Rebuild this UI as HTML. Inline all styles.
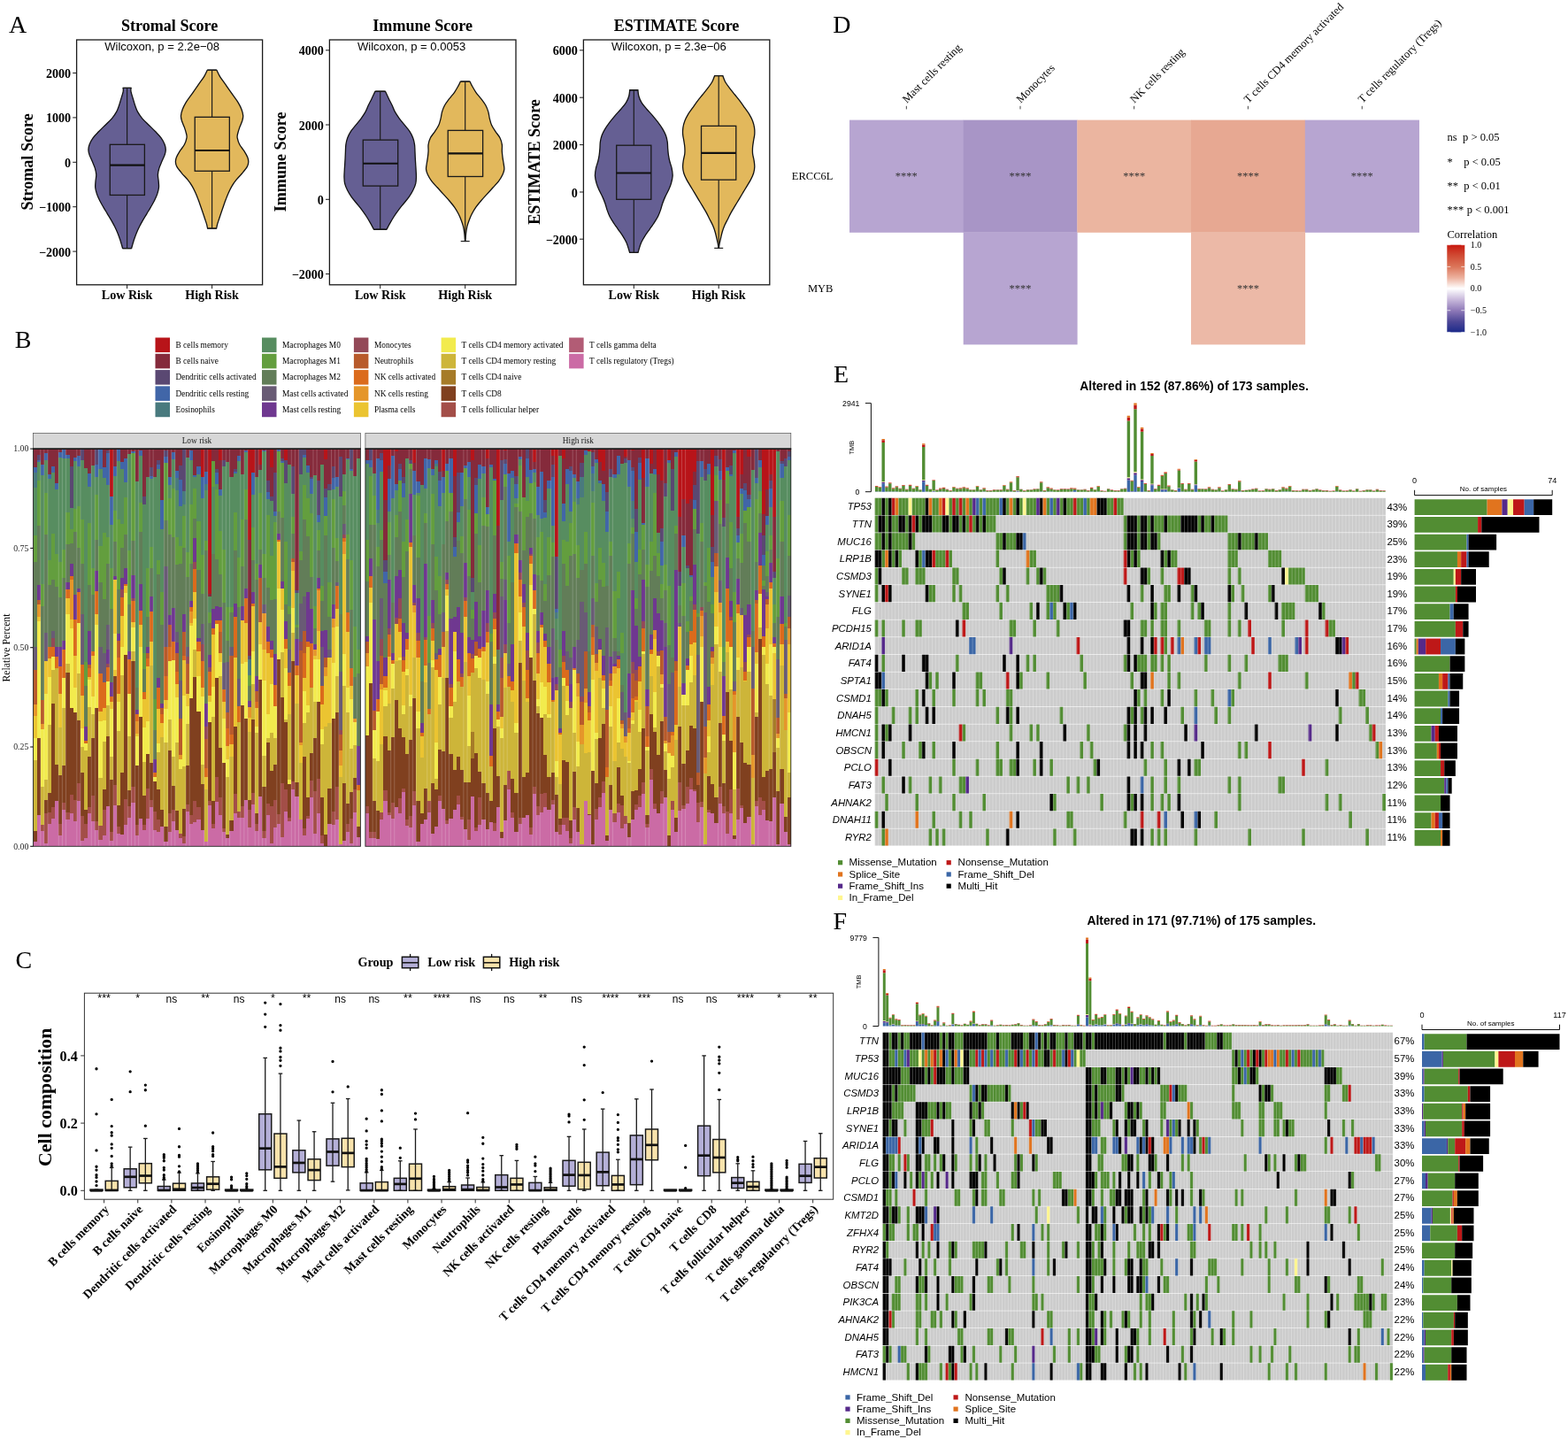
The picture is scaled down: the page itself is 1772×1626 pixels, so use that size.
<!DOCTYPE html>
<html lang="en"><head><meta charset="utf-8"><title>Figure</title>
<style>
html,body{margin:0;padding:0;background:#fff}
svg{display:block}
.se{font-family:"Liberation Serif","Times New Roman",serif}
.sa{font-family:"Liberation Sans",Arial,sans-serif}
</style></head><body>
<svg width="1772" height="1626" viewBox="0 0 1772 1626">
<rect width="1772" height="1626" fill="#fff"/>
<text x="10" y="37.2" font-size="28" class="se">A</text>
<text x="191.6" y="35.1" font-size="18.1" class="se" font-weight="bold" text-anchor="middle">Stromal Score</text>
<path d="M139.17,99.41C139.17,100.1 139.57,101.5 139.17,103.54C138.78,105.58 137.57,109.08 136.81,111.66C136.05,114.24 135.46,116.58 134.6,119.04C133.74,121.5 133,123.96 131.64,126.42C130.29,128.88 128.57,131.34 126.48,133.8C124.39,136.26 121.56,138.72 119.1,141.18C116.64,143.64 114.06,146.1 111.72,148.56C109.38,151.02 106.85,153.48 105.08,155.94C103.3,158.4 101.95,161.11 101.09,163.32C100.23,165.54 99.91,167.26 99.91,169.23C99.91,171.19 100.35,172.92 101.09,175.13C101.83,177.34 103.3,180.05 104.34,182.51C105.37,184.97 106.55,187.43 107.29,189.89C108.03,192.35 108.64,194.81 108.77,197.27C108.89,199.73 108.2,202.19 108.03,204.65C107.86,207.11 107.49,209.57 107.73,212.03C107.98,214.49 108.67,216.95 109.5,219.41C110.34,221.87 111.52,224.33 112.75,226.79C113.98,229.25 115.46,231.71 116.88,234.17C118.31,236.63 119.84,239.09 121.31,241.55C122.79,244.01 124.34,246.47 125.74,248.93C127.14,251.39 128.5,253.85 129.73,256.31C130.96,258.77 132.11,261.23 133.12,263.69C134.13,266.15 135.04,268.86 135.78,271.07C136.52,273.28 137.08,275.38 137.55,276.97C138.02,278.57 138.41,280.05 138.58,280.66L148.62,280.66C148.79,280.05 149.18,278.57 149.65,276.97C150.12,275.38 150.68,273.28 151.42,271.07C152.16,268.86 153.07,266.15 154.08,263.69C155.09,261.23 156.24,258.77 157.47,256.31C158.7,253.85 160.06,251.39 161.46,248.93C162.86,246.47 164.41,244.01 165.89,241.55C167.36,239.09 168.89,236.63 170.32,234.17C171.74,231.71 173.22,229.25 174.45,226.79C175.68,224.33 176.86,221.87 177.7,219.41C178.53,216.95 179.22,214.49 179.47,212.03C179.71,209.57 179.34,207.11 179.17,204.65C179,202.19 178.31,199.73 178.43,197.27C178.56,194.81 179.17,192.35 179.91,189.89C180.65,187.43 181.83,184.97 182.86,182.51C183.9,180.05 185.37,177.34 186.11,175.13C186.85,172.92 187.29,171.19 187.29,169.23C187.29,167.26 186.97,165.54 186.11,163.32C185.25,161.11 183.9,158.4 182.12,155.94C180.35,153.48 177.82,151.02 175.48,148.56C173.14,146.1 170.56,143.64 168.1,141.18C165.64,138.72 162.81,136.26 160.72,133.8C158.63,131.34 156.91,128.88 155.56,126.42C154.2,123.96 153.46,121.5 152.6,119.04C151.74,116.58 151.15,114.24 150.39,111.66C149.63,109.08 148.42,105.58 148.03,103.54C147.63,101.5 148.03,100.1 148.03,99.41Z" fill="#655F93" stroke="#111" stroke-width="1.3" stroke-linejoin="round"/>
<line x1="143.6" y1="99.41" x2="143.6" y2="163.32" stroke="#1a1a1a" stroke-width="1.15"/>
<line x1="143.6" y1="220.44" x2="143.6" y2="280.66" stroke="#1a1a1a" stroke-width="1.15"/>
<line x1="138.6" y1="99.41" x2="148.6" y2="99.41" stroke="#1a1a1a" stroke-width="1.15"/>
<line x1="138.6" y1="280.66" x2="148.6" y2="280.66" stroke="#1a1a1a" stroke-width="1.15"/>
<rect x="124.28" y="163.32" width="39.11" height="57.12" fill="#655F93" stroke="#1a1a1a" stroke-width="1.3"/>
<line x1="124.28" y1="186.64" x2="163.39" y2="186.64" stroke="#111" stroke-width="2.1"/>
<path d="M234.29,79.19C233.67,80.42 232.07,84.11 230.6,86.57C229.12,89.03 227.15,91.49 225.43,93.95C223.71,96.41 221.99,98.87 220.26,101.33C218.54,103.79 216.82,106.25 215.1,108.71C213.38,111.17 211.41,113.63 209.93,116.09C208.46,118.55 207.15,121.01 206.24,123.47C205.33,125.93 204.59,128.63 204.47,130.85C204.35,133.06 204.84,134.54 205.5,136.75C206.17,138.97 207.6,141.67 208.46,144.13C209.32,146.59 210.25,149.54 210.67,151.51C211.09,153.48 211.33,153.97 210.97,155.94C210.6,157.91 209.74,160.86 208.46,163.32C207.18,165.78 204.82,168.24 203.29,170.7C201.76,173.16 200.12,175.99 199.3,178.08C198.49,180.17 198.32,181.53 198.42,183.25C198.52,184.97 198.71,186.32 199.9,188.41C201.08,190.5 203.46,193.33 205.5,195.79C207.55,198.25 210.18,200.71 212.15,203.17C214.11,205.63 215.84,208.09 217.31,210.55C218.79,213.01 219.9,215.47 221,217.93C222.11,220.39 223.02,222.85 223.95,225.31C224.89,227.77 225.75,230.23 226.61,232.69C227.47,235.15 228.28,237.61 229.12,240.07C229.96,242.53 230.89,245.24 231.63,247.45C232.37,249.67 233.06,251.59 233.55,253.36C234.04,255.13 234.41,257.29 234.58,258.08L244.62,258.08C244.79,257.29 245.16,255.13 245.65,253.36C246.14,251.59 246.83,249.67 247.57,247.45C248.31,245.24 249.24,242.53 250.08,240.07C250.92,237.61 251.73,235.15 252.59,232.69C253.45,230.23 254.31,227.77 255.25,225.31C256.18,222.85 257.09,220.39 258.2,217.93C259.3,215.47 260.41,213.01 261.89,210.55C263.36,208.09 265.09,205.63 267.05,203.17C269.02,200.71 271.65,198.25 273.7,195.79C275.74,193.33 278.12,190.5 279.3,188.41C280.49,186.32 280.68,184.97 280.78,183.25C280.88,181.53 280.71,180.17 279.9,178.08C279.08,175.99 277.44,173.16 275.91,170.7C274.38,168.24 272.02,165.78 270.74,163.32C269.46,160.86 268.6,157.91 268.23,155.94C267.87,153.97 268.11,153.48 268.53,151.51C268.95,149.54 269.88,146.59 270.74,144.13C271.6,141.67 273.03,138.97 273.7,136.75C274.36,134.54 274.85,133.06 274.73,130.85C274.61,128.63 273.87,125.93 272.96,123.47C272.05,121.01 270.74,118.55 269.27,116.09C267.79,113.63 265.82,111.17 264.1,108.71C262.38,106.25 260.66,103.79 258.94,101.33C257.21,98.87 255.49,96.41 253.77,93.95C252.05,91.49 250.08,89.03 248.6,86.57C247.13,84.11 245.53,80.42 244.91,79.19Z" fill="#E2B85C" stroke="#111" stroke-width="1.3" stroke-linejoin="round"/>
<line x1="239.6" y1="79.19" x2="239.6" y2="132.32" stroke="#1a1a1a" stroke-width="1.15"/>
<line x1="239.6" y1="193.28" x2="239.6" y2="258.08" stroke="#1a1a1a" stroke-width="1.15"/>
<line x1="234.6" y1="79.19" x2="244.6" y2="79.19" stroke="#1a1a1a" stroke-width="1.15"/>
<line x1="234.6" y1="258.08" x2="244.6" y2="258.08" stroke="#1a1a1a" stroke-width="1.15"/>
<rect x="220.22" y="132.32" width="39.11" height="60.96" fill="#E2B85C" stroke="#1a1a1a" stroke-width="1.3"/>
<line x1="220.22" y1="169.96" x2="259.34" y2="169.96" stroke="#111" stroke-width="2.1"/>
<rect x="86.6" y="45" width="210" height="276.8" fill="none" stroke="#1a1a1a" stroke-width="1.3"/>
<text x="118.2" y="56.9" font-size="13.05" class="sa">Wilcoxon, p = 2.2e−08</text>
<line x1="82.2" y1="82.5" x2="86.6" y2="82.5" stroke="#1a1a1a" stroke-width="1"/>
<text x="80.1" y="88" font-size="14.1" class="se" font-weight="bold" text-anchor="end">2000</text>
<line x1="82.2" y1="132.9" x2="86.6" y2="132.9" stroke="#1a1a1a" stroke-width="1"/>
<text x="80.1" y="138.4" font-size="14.1" class="se" font-weight="bold" text-anchor="end">1000</text>
<line x1="82.2" y1="183.3" x2="86.6" y2="183.3" stroke="#1a1a1a" stroke-width="1"/>
<text x="80.1" y="188.8" font-size="14.1" class="se" font-weight="bold" text-anchor="end">0</text>
<line x1="82.2" y1="233.7" x2="86.6" y2="233.7" stroke="#1a1a1a" stroke-width="1"/>
<text x="80.1" y="239.2" font-size="14.1" class="se" font-weight="bold" text-anchor="end">−1000</text>
<line x1="82.2" y1="284.1" x2="86.6" y2="284.1" stroke="#1a1a1a" stroke-width="1"/>
<text x="80.1" y="289.6" font-size="14.1" class="se" font-weight="bold" text-anchor="end">−2000</text>
<line x1="143.6" y1="321.8" x2="143.6" y2="326.2" stroke="#1a1a1a" stroke-width="1"/>
<text x="143.6" y="337.8" font-size="14.1" class="se" font-weight="bold" text-anchor="middle">Low Risk</text>
<line x1="239.6" y1="321.8" x2="239.6" y2="326.2" stroke="#1a1a1a" stroke-width="1"/>
<text x="239.6" y="337.8" font-size="14.1" class="se" font-weight="bold" text-anchor="middle">High Risk</text>
<text x="37.3" y="182.9" font-size="18.1" class="se" font-weight="bold" text-anchor="middle" transform="rotate(-90 37.3 182.9)">Stromal Score</text>
<text x="477.7" y="35.1" font-size="18.1" class="se" font-weight="bold" text-anchor="middle">Immune Score</text>
<path d="M423.94,103.25C423.28,104.65 421.24,109.03 419.96,111.66C418.68,114.29 417.42,116.58 416.27,119.04C415.11,121.5 414.37,123.96 413.02,126.42C411.67,128.88 409.95,131.34 408.15,133.8C406.35,136.26 404.21,138.72 402.25,141.18C400.28,143.64 397.94,146.1 396.34,148.56C394.74,151.02 393.56,153.48 392.65,155.94C391.74,158.4 391.25,160.86 390.88,163.32C390.51,165.78 390.56,168.24 390.44,170.7C390.32,173.16 390.27,175.62 390.14,178.08C390.02,180.54 389.85,183 389.7,185.46C389.55,187.92 389.38,190.38 389.26,192.84C389.13,195.3 388.89,197.76 388.96,200.22C389.04,202.68 389.08,205.14 389.7,207.6C390.32,210.06 391.42,212.52 392.65,214.98C393.88,217.44 395.36,219.9 397.08,222.36C398.8,224.82 401.02,227.28 402.98,229.74C404.95,232.2 407.04,234.66 408.89,237.12C410.73,239.58 412.46,242.04 414.05,244.5C415.65,246.96 417.08,249.42 418.48,251.88C419.88,254.34 421.8,258.03 422.47,259.26L436.93,259.26C437.6,258.03 439.52,254.34 440.92,251.88C442.32,249.42 443.75,246.96 445.35,244.5C446.94,242.04 448.67,239.58 450.51,237.12C452.36,234.66 454.45,232.2 456.42,229.74C458.38,227.28 460.6,224.82 462.32,222.36C464.04,219.9 465.52,217.44 466.75,214.98C467.98,212.52 469.08,210.06 469.7,207.6C470.32,205.14 470.36,202.68 470.44,200.22C470.51,197.76 470.27,195.3 470.14,192.84C470.02,190.38 469.85,187.92 469.7,185.46C469.55,183 469.38,180.54 469.26,178.08C469.13,175.62 469.08,173.16 468.96,170.7C468.84,168.24 468.89,165.78 468.52,163.32C468.15,160.86 467.66,158.4 466.75,155.94C465.84,153.48 464.66,151.02 463.06,148.56C461.46,146.1 459.12,143.64 457.15,141.18C455.19,138.72 453.05,136.26 451.25,133.8C449.45,131.34 447.73,128.88 446.38,126.42C445.03,123.96 444.29,121.5 443.13,119.04C441.98,116.58 440.72,114.29 439.44,111.66C438.16,109.03 436.12,104.65 435.46,103.25Z" fill="#655F93" stroke="#111" stroke-width="1.3" stroke-linejoin="round"/>
<line x1="429.7" y1="103.25" x2="429.7" y2="158.15" stroke="#1a1a1a" stroke-width="1.15"/>
<line x1="429.7" y1="210.11" x2="429.7" y2="259.26" stroke="#1a1a1a" stroke-width="1.15"/>
<line x1="424.7" y1="103.25" x2="434.7" y2="103.25" stroke="#1a1a1a" stroke-width="1.15"/>
<line x1="424.7" y1="259.26" x2="434.7" y2="259.26" stroke="#1a1a1a" stroke-width="1.15"/>
<rect x="410.28" y="158.15" width="39.41" height="51.96" fill="#655F93" stroke="#1a1a1a" stroke-width="1.3"/>
<line x1="410.28" y1="184.72" x2="449.69" y2="184.72" stroke="#111" stroke-width="2.1"/>
<path d="M520.39,92.03C519.99,92.84 519.16,94.86 518.02,96.9C516.89,98.94 515.32,101.82 513.6,104.28C511.87,106.74 509.54,109.2 507.69,111.66C505.85,114.12 503.88,116.58 502.53,119.04C501.17,121.5 500.31,123.96 499.57,126.42C498.84,128.88 498.71,131.34 498.1,133.8C497.48,136.26 496.99,138.72 495.88,141.18C494.78,143.64 493.06,146.1 491.46,148.56C489.86,151.02 487.52,153.48 486.29,155.94C485.06,158.4 484.45,160.86 484.08,163.32C483.71,165.78 484.2,168.24 484.08,170.7C483.95,173.16 483.66,175.62 483.34,178.08C483.02,180.54 482.45,183.25 482.16,185.46C481.86,187.68 481.37,189.4 481.57,191.37C481.76,193.33 482.31,195.06 483.34,197.27C484.37,199.48 485.92,202.19 487.77,204.65C489.61,207.11 492.19,209.57 494.41,212.03C496.62,214.49 498.84,216.95 501.05,219.41C503.26,221.87 505.6,224.33 507.69,226.79C509.78,229.25 511.87,231.71 513.6,234.17C515.32,236.63 516.75,239.09 518.02,241.55C519.3,244.01 520.34,246.47 521.27,248.93C522.21,251.39 523.04,253.85 523.63,256.31C524.22,258.77 524.51,260.98 524.81,263.69C525.12,266.4 525.37,271.07 525.48,272.55L525.92,272.55C526.03,271.07 526.28,266.4 526.59,263.69C526.89,260.98 527.18,258.77 527.77,256.31C528.36,253.85 529.19,251.39 530.13,248.93C531.06,246.47 532.1,244.01 533.38,241.55C534.65,239.09 536.08,236.63 537.8,234.17C539.53,231.71 541.62,229.25 543.71,226.79C545.8,224.33 548.14,221.87 550.35,219.41C552.56,216.95 554.78,214.49 556.99,212.03C559.21,209.57 561.79,207.11 563.63,204.65C565.48,202.19 567.03,199.48 568.06,197.27C569.09,195.06 569.64,193.33 569.83,191.37C570.03,189.4 569.54,187.68 569.24,185.46C568.95,183.25 568.38,180.54 568.06,178.08C567.74,175.62 567.45,173.16 567.32,170.7C567.2,168.24 567.69,165.78 567.32,163.32C566.95,160.86 566.34,158.4 565.11,155.94C563.88,153.48 561.54,151.02 559.94,148.56C558.34,146.1 556.62,143.64 555.52,141.18C554.41,138.72 553.92,136.26 553.3,133.8C552.69,131.34 552.56,128.88 551.83,126.42C551.09,123.96 550.23,121.5 548.87,119.04C547.52,116.58 545.55,114.12 543.71,111.66C541.86,109.2 539.53,106.74 537.8,104.28C536.08,101.82 534.51,98.94 533.38,96.9C532.24,94.86 531.41,92.84 531.01,92.03Z" fill="#E2B85C" stroke="#111" stroke-width="1.3" stroke-linejoin="round"/>
<line x1="525.7" y1="92.03" x2="525.7" y2="147.38" stroke="#1a1a1a" stroke-width="1.15"/>
<line x1="525.7" y1="199.48" x2="525.7" y2="272.55" stroke="#1a1a1a" stroke-width="1.15"/>
<line x1="520.7" y1="92.03" x2="530.7" y2="92.03" stroke="#1a1a1a" stroke-width="1.15"/>
<line x1="520.7" y1="272.55" x2="530.7" y2="272.55" stroke="#1a1a1a" stroke-width="1.15"/>
<rect x="506.22" y="147.38" width="39.41" height="52.1" fill="#E2B85C" stroke="#1a1a1a" stroke-width="1.3"/>
<line x1="506.22" y1="173.36" x2="545.63" y2="173.36" stroke="#111" stroke-width="2.1"/>
<rect x="372.4" y="45" width="210.6" height="276.8" fill="none" stroke="#1a1a1a" stroke-width="1.3"/>
<text x="404" y="56.9" font-size="13.05" class="sa">Wilcoxon, p = 0.0053</text>
<line x1="368" y1="56.8" x2="372.4" y2="56.8" stroke="#1a1a1a" stroke-width="1"/>
<text x="365.9" y="62.3" font-size="14.1" class="se" font-weight="bold" text-anchor="end">4000</text>
<line x1="368" y1="141" x2="372.4" y2="141" stroke="#1a1a1a" stroke-width="1"/>
<text x="365.9" y="146.5" font-size="14.1" class="se" font-weight="bold" text-anchor="end">2000</text>
<line x1="368" y1="225.3" x2="372.4" y2="225.3" stroke="#1a1a1a" stroke-width="1"/>
<text x="365.9" y="230.8" font-size="14.1" class="se" font-weight="bold" text-anchor="end">0</text>
<line x1="368" y1="309.6" x2="372.4" y2="309.6" stroke="#1a1a1a" stroke-width="1"/>
<text x="365.9" y="315.1" font-size="14.1" class="se" font-weight="bold" text-anchor="end">−2000</text>
<line x1="429.7" y1="321.8" x2="429.7" y2="326.2" stroke="#1a1a1a" stroke-width="1"/>
<text x="429.7" y="337.8" font-size="14.1" class="se" font-weight="bold" text-anchor="middle">Low Risk</text>
<line x1="525.7" y1="321.8" x2="525.7" y2="326.2" stroke="#1a1a1a" stroke-width="1"/>
<text x="525.7" y="337.8" font-size="14.1" class="se" font-weight="bold" text-anchor="middle">High Risk</text>
<text x="323.4" y="182.9" font-size="18.1" class="se" font-weight="bold" text-anchor="middle" transform="rotate(-90 323.4 182.9)">Immune Score</text>
<text x="764.6" y="35.1" font-size="18.1" class="se" font-weight="bold" text-anchor="middle">ESTIMATE Score</text>
<path d="M711.72,101.77C711.55,102.93 711.4,106.32 710.69,108.71C709.98,111.09 708.97,113.63 707.44,116.09C705.92,118.55 703.63,121.01 701.54,123.47C699.45,125.93 696.99,128.39 694.9,130.85C692.81,133.31 690.84,135.77 688.99,138.23C687.15,140.69 685.3,143.15 683.83,145.61C682.35,148.07 681.05,150.53 680.14,152.99C679.23,155.45 678.74,157.91 678.37,160.37C678,162.83 678.12,165.29 677.92,167.75C677.73,170.21 677.55,172.67 677.19,175.13C676.82,177.59 676.32,180.05 675.71,182.51C675.09,184.97 674.04,187.18 673.5,189.89C672.95,192.6 672.34,195.79 672.46,198.75C672.59,201.7 673.45,204.9 674.23,207.6C675.02,210.31 676.08,212.52 677.19,214.98C678.29,217.44 679.77,219.9 680.88,222.36C681.98,224.82 682.97,227.28 683.83,229.74C684.69,232.2 685.18,234.66 686.04,237.12C686.9,239.58 687.76,242.04 688.99,244.5C690.22,246.96 691.82,249.42 693.42,251.88C695.02,254.34 696.87,256.8 698.59,259.26C700.31,261.72 702.2,264.18 703.75,266.64C705.3,269.1 706.78,271.56 707.89,274.02C708.99,276.48 709.78,279.51 710.4,281.4C711.01,283.3 711.38,284.72 711.58,285.39L721.02,285.39C721.22,284.72 721.59,283.3 722.2,281.4C722.82,279.51 723.61,276.48 724.71,274.02C725.82,271.56 727.3,269.1 728.85,266.64C730.4,264.18 732.29,261.72 734.01,259.26C735.73,256.8 737.58,254.34 739.18,251.88C740.78,249.42 742.38,246.96 743.61,244.5C744.84,242.04 745.7,239.58 746.56,237.12C747.42,234.66 747.91,232.2 748.77,229.74C749.63,227.28 750.62,224.82 751.72,222.36C752.83,219.9 754.31,217.44 755.41,214.98C756.52,212.52 757.58,210.31 758.37,207.6C759.15,204.9 760.01,201.7 760.14,198.75C760.26,195.79 759.65,192.6 759.1,189.89C758.56,187.18 757.51,184.97 756.89,182.51C756.28,180.05 755.78,177.59 755.41,175.13C755.05,172.67 754.87,170.21 754.68,167.75C754.48,165.29 754.6,162.83 754.23,160.37C753.86,157.91 753.37,155.45 752.46,152.99C751.55,150.53 750.25,148.07 748.77,145.61C747.3,143.15 745.45,140.69 743.61,138.23C741.76,135.77 739.79,133.31 737.7,130.85C735.61,128.39 733.15,125.93 731.06,123.47C728.97,121.01 726.68,118.55 725.16,116.09C723.63,113.63 722.62,111.09 721.91,108.71C721.2,106.32 721.05,102.93 720.88,101.77Z" fill="#655F93" stroke="#111" stroke-width="1.3" stroke-linejoin="round"/>
<line x1="716.3" y1="101.77" x2="716.3" y2="164.21" stroke="#1a1a1a" stroke-width="1.15"/>
<line x1="716.3" y1="225.31" x2="716.3" y2="285.39" stroke="#1a1a1a" stroke-width="1.15"/>
<line x1="711.3" y1="101.77" x2="721.3" y2="101.77" stroke="#1a1a1a" stroke-width="1.15"/>
<line x1="711.3" y1="285.39" x2="721.3" y2="285.39" stroke="#1a1a1a" stroke-width="1.15"/>
<rect x="696.72" y="164.21" width="39.11" height="61.11" fill="#655F93" stroke="#1a1a1a" stroke-width="1.3"/>
<line x1="696.72" y1="195.5" x2="735.84" y2="195.5" stroke="#111" stroke-width="2.1"/>
<path d="M807.62,85.54C807.16,86.69 806.15,90.09 804.82,92.47C803.49,94.86 801.5,97.39 799.65,99.85C797.81,102.31 795.72,104.77 793.75,107.23C791.78,109.69 789.69,112.15 787.85,114.61C786,117.07 784.4,119.53 782.68,121.99C780.96,124.45 778.99,126.91 777.51,129.37C776.04,131.83 774.76,134.29 773.82,136.75C772.89,139.21 772.27,141.67 771.9,144.13C771.54,146.59 771.46,149.05 771.61,151.51C771.76,153.97 772.42,156.43 772.79,158.89C773.16,161.35 773.65,163.81 773.82,166.27C774,168.73 774.07,171.19 773.82,173.65C773.58,176.11 772.72,178.57 772.35,181.03C771.98,183.49 771.54,185.95 771.61,188.41C771.68,190.87 772.05,193.33 772.79,195.79C773.53,198.25 774.76,200.71 776.04,203.17C777.32,205.63 778.99,208.09 780.47,210.55C781.94,213.01 783.42,215.47 784.89,217.93C786.37,220.39 787.85,222.85 789.32,225.31C790.8,227.77 792.27,230.23 793.75,232.69C795.23,235.15 796.82,237.61 798.18,240.07C799.53,242.53 800.64,244.99 801.87,247.45C803.1,249.91 804.5,252.37 805.56,254.83C806.62,257.29 807.48,259.75 808.21,262.21C808.95,264.67 809.47,267.38 809.99,269.59C810.5,271.81 810.98,273.7 811.31,275.5C811.65,277.29 811.87,279.56 811.98,280.37L812.42,280.37C812.53,279.56 812.75,277.29 813.09,275.5C813.42,273.7 813.9,271.81 814.41,269.59C814.93,267.38 815.45,264.67 816.19,262.21C816.92,259.75 817.78,257.29 818.84,254.83C819.9,252.37 821.3,249.91 822.53,247.45C823.76,244.99 824.87,242.53 826.22,240.07C827.58,237.61 829.17,235.15 830.65,232.69C832.13,230.23 833.6,227.77 835.08,225.31C836.55,222.85 838.03,220.39 839.51,217.93C840.98,215.47 842.46,213.01 843.93,210.55C845.41,208.09 847.08,205.63 848.36,203.17C849.64,200.71 850.87,198.25 851.61,195.79C852.35,193.33 852.72,190.87 852.79,188.41C852.86,185.95 852.42,183.49 852.05,181.03C851.68,178.57 850.82,176.11 850.58,173.65C850.33,171.19 850.4,168.73 850.58,166.27C850.75,163.81 851.24,161.35 851.61,158.89C851.98,156.43 852.64,153.97 852.79,151.51C852.94,149.05 852.86,146.59 852.5,144.13C852.13,141.67 851.51,139.21 850.58,136.75C849.64,134.29 848.36,131.83 846.89,129.37C845.41,126.91 843.44,124.45 841.72,121.99C840,119.53 838.4,117.07 836.55,114.61C834.71,112.15 832.62,109.69 830.65,107.23C828.68,104.77 826.59,102.31 824.75,99.85C822.9,97.39 820.91,94.86 819.58,92.47C818.25,90.09 817.24,86.69 816.78,85.54Z" fill="#E2B85C" stroke="#111" stroke-width="1.3" stroke-linejoin="round"/>
<line x1="812.2" y1="85.54" x2="812.2" y2="142.36" stroke="#1a1a1a" stroke-width="1.15"/>
<line x1="812.2" y1="203.17" x2="812.2" y2="280.37" stroke="#1a1a1a" stroke-width="1.15"/>
<line x1="807.2" y1="85.54" x2="817.2" y2="85.54" stroke="#1a1a1a" stroke-width="1.15"/>
<line x1="807.2" y1="280.37" x2="817.2" y2="280.37" stroke="#1a1a1a" stroke-width="1.15"/>
<rect x="792.52" y="142.36" width="39.26" height="60.81" fill="#E2B85C" stroke="#1a1a1a" stroke-width="1.3"/>
<line x1="792.52" y1="172.92" x2="831.78" y2="172.92" stroke="#111" stroke-width="2.1"/>
<rect x="659.4" y="45" width="210.4" height="276.8" fill="none" stroke="#1a1a1a" stroke-width="1.3"/>
<text x="691" y="56.9" font-size="13.05" class="sa">Wilcoxon, p = 2.3e−06</text>
<line x1="655" y1="56.8" x2="659.4" y2="56.8" stroke="#1a1a1a" stroke-width="1"/>
<text x="652.9" y="62.3" font-size="14.1" class="se" font-weight="bold" text-anchor="end">6000</text>
<line x1="655" y1="110.2" x2="659.4" y2="110.2" stroke="#1a1a1a" stroke-width="1"/>
<text x="652.9" y="115.7" font-size="14.1" class="se" font-weight="bold" text-anchor="end">4000</text>
<line x1="655" y1="163.6" x2="659.4" y2="163.6" stroke="#1a1a1a" stroke-width="1"/>
<text x="652.9" y="169.1" font-size="14.1" class="se" font-weight="bold" text-anchor="end">2000</text>
<line x1="655" y1="217" x2="659.4" y2="217" stroke="#1a1a1a" stroke-width="1"/>
<text x="652.9" y="222.5" font-size="14.1" class="se" font-weight="bold" text-anchor="end">0</text>
<line x1="655" y1="270.2" x2="659.4" y2="270.2" stroke="#1a1a1a" stroke-width="1"/>
<text x="652.9" y="275.7" font-size="14.1" class="se" font-weight="bold" text-anchor="end">−2000</text>
<line x1="716.3" y1="321.8" x2="716.3" y2="326.2" stroke="#1a1a1a" stroke-width="1"/>
<text x="716.3" y="337.8" font-size="14.1" class="se" font-weight="bold" text-anchor="middle">Low Risk</text>
<line x1="812.2" y1="321.8" x2="812.2" y2="326.2" stroke="#1a1a1a" stroke-width="1"/>
<text x="812.2" y="337.8" font-size="14.1" class="se" font-weight="bold" text-anchor="middle">High Risk</text>
<text x="609.7" y="182.9" font-size="18.1" class="se" font-weight="bold" text-anchor="middle" transform="rotate(-90 609.7 182.9)">ESTIMATE Score</text>
<text x="16.8" y="393" font-size="28" class="se">B</text>
<rect x="175.5" y="381.5" width="16.5" height="16.6" fill="#B81419"/>
<text x="198.5" y="392.9" font-size="9.4" class="se">B cells memory</text>
<rect x="175.5" y="399.78" width="16.5" height="16.6" fill="#852A3B"/>
<text x="198.5" y="411.18" font-size="9.4" class="se">B cells naive</text>
<rect x="175.5" y="418.06" width="16.5" height="16.6" fill="#5A4872"/>
<text x="198.5" y="429.46" font-size="9.4" class="se">Dendritic cells activated</text>
<rect x="175.5" y="436.34" width="16.5" height="16.6" fill="#4166A8"/>
<text x="198.5" y="447.74" font-size="9.4" class="se">Dendritic cells resting</text>
<rect x="175.5" y="454.62" width="16.5" height="16.6" fill="#497A7E"/>
<text x="198.5" y="466.02" font-size="9.4" class="se">Eosinophils</text>
<rect x="296" y="381.5" width="16.5" height="16.6" fill="#578D60"/>
<text x="319" y="392.9" font-size="9.4" class="se">Macrophages M0</text>
<rect x="296" y="399.78" width="16.5" height="16.6" fill="#639E3E"/>
<text x="319" y="411.18" font-size="9.4" class="se">Macrophages M1</text>
<rect x="296" y="418.06" width="16.5" height="16.6" fill="#627D58"/>
<text x="319" y="429.46" font-size="9.4" class="se">Macrophages M2</text>
<rect x="296" y="436.34" width="16.5" height="16.6" fill="#695B75"/>
<text x="319" y="447.74" font-size="9.4" class="se">Mast cells activated</text>
<rect x="296" y="454.62" width="16.5" height="16.6" fill="#6F3890"/>
<text x="319" y="466.02" font-size="9.4" class="se">Mast cells resting</text>
<rect x="399.9" y="381.5" width="16.5" height="16.6" fill="#934958"/>
<text x="422.9" y="392.9" font-size="9.4" class="se">Monocytes</text>
<rect x="399.9" y="399.78" width="16.5" height="16.6" fill="#B85A2B"/>
<text x="422.9" y="411.18" font-size="9.4" class="se">Neutrophils</text>
<rect x="399.9" y="418.06" width="16.5" height="16.6" fill="#DB6B1C"/>
<text x="422.9" y="429.46" font-size="9.4" class="se">NK cells activated</text>
<rect x="399.9" y="436.34" width="16.5" height="16.6" fill="#E5962A"/>
<text x="422.9" y="447.74" font-size="9.4" class="se">NK cells resting</text>
<rect x="399.9" y="454.62" width="16.5" height="16.6" fill="#EBC431"/>
<text x="422.9" y="466.02" font-size="9.4" class="se">Plasma cells</text>
<rect x="498.6" y="381.5" width="16.5" height="16.6" fill="#F2EB4D"/>
<text x="521.6" y="392.9" font-size="9.4" class="se">T cells CD4 memory activated</text>
<rect x="498.6" y="399.78" width="16.5" height="16.6" fill="#CDB539"/>
<text x="521.6" y="411.18" font-size="9.4" class="se">T cells CD4 memory resting</text>
<rect x="498.6" y="418.06" width="16.5" height="16.6" fill="#A67B28"/>
<text x="521.6" y="429.46" font-size="9.4" class="se">T cells CD4 naive</text>
<rect x="498.6" y="436.34" width="16.5" height="16.6" fill="#80401F"/>
<text x="521.6" y="447.74" font-size="9.4" class="se">T cells CD8</text>
<rect x="498.6" y="454.62" width="16.5" height="16.6" fill="#A34E48"/>
<text x="521.6" y="466.02" font-size="9.4" class="se">T cells follicular helper</text>
<rect x="643.1" y="381.5" width="16.5" height="16.6" fill="#B25C75"/>
<text x="666.1" y="392.9" font-size="9.4" class="se">T cells gamma delta</text>
<rect x="643.1" y="399.78" width="16.5" height="16.6" fill="#CB6BA5"/>
<text x="666.1" y="411.18" font-size="9.4" class="se">T cells regulatory (Tregs)</text>
<path d="M124,507h4v54h-4zM227,507h4v32h-4zM235,507h4v164h-4zM247,507h4v13h-4zM280,507h4v103h-4zM284,507h4v27h-4zM292,507h4v18h-4zM305,507h4v21h-4zM321,507h4v13h-4zM366,507h4v12h-4zM433,507h5v58h-5zM438,507h4v19h-4zM446,507h4v3h-4zM466,507h4v16h-4zM499,507h4v25h-4zM512,507h4v31h-4zM532,507h4v13h-4zM549,507h4v11h-4zM561,507h4v87h-4zM569,507h4v2h-4zM602,507h4v15h-4zM623,507h4v8h-4zM627,507h4v122h-4zM635,507h4v11h-4zM664,507h4v3h-4zM676,507h4v15h-4zM680,507h4v25h-4zM705,507h4v9h-4zM713,507h4v2h-4zM725,507h4v33h-4zM734,507h4v17h-4zM742,507h4v29h-4zM746,507h4v36h-4zM754,507h4v13h-4zM766,507h4v77h-4zM770,507h5v57h-5zM775,507h4v62h-4zM779,507h4v57h-4zM783,507h4v26h-4zM803,507h4v75h-4zM816,507h4v35h-4zM832,507h4v77h-4zM836,507h4v29h-4zM844,507h5v9h-5zM861,507h4v74h-4zM865,507h4v46h-4zM869,507h4v29h-4zM873,507h4v77h-4z" fill="#B81419" shape-rendering="crispEdges"/>
<path d="M38,507h4v21h-4zM42,507h4v7h-4zM46,507h4v18h-4zM50,507h4v5h-4zM54,507h4v29h-4zM58,507h4v20h-4zM62,507h4v39h-4zM66,507h4v4h-4zM70,507h4v1h-4zM74,507h5v7h-5zM79,507h4v20h-4zM83,507h4v10h-4zM87,507h4v8h-4zM95,507h4v22h-4zM99,507h4v28h-4zM103,507h4v19h-4zM111,507h5v1h-5zM116,507h4v21h-4zM120,507h4v2h-4zM128,507h4v20h-4zM132,507h4v1h-4zM136,507h4v15h-4zM140,507h4v11h-4zM144,507h4v6h-4zM148,507h5v3h-5zM153,507h4v37h-4zM157,507h4v2h-4zM161,507h4v54h-4zM165,507h4v32h-4zM169,507h4v21h-4zM173,507h4v32h-4zM177,507h4v13h-4zM181,507h4v58h-4zM185,507h5v2h-5zM190,507h4v32h-4zM194,507h4v4h-4zM198,507h4v25h-4zM202,507h4v19h-4zM210,507h4v10h-4zM214,507h4v2h-4zM218,507h4v30h-4zM222,507h5v20h-5zM231,507h4v26h-4zM235,671h4v3h-4zM239,507h4v14h-4zM243,507h4v23h-4zM247,520h4v33h-4zM251,507h4v13h-4zM255,507h4v15h-4zM259,507h5v32h-5zM264,507h4v23h-4zM268,507h4v8h-4zM272,507h4v29h-4zM276,507h4v2h-4zM280,610h4v121h-4zM280,731h4v10h-4zM288,507h4v32h-4zM292,525h4v6h-4zM296,507h5v2h-5zM301,507h4v36h-4zM305,528h4v33h-4zM309,507h4v27h-4zM313,507h4v1h-4zM317,507h4v11h-4zM325,507h4v18h-4zM329,507h4v20h-4zM333,507h5v160h-5zM346,507h4v19h-4zM350,507h4v32h-4zM354,507h4v30h-4zM358,507h4v36h-4zM362,507h4v18h-4zM366,519h4v33h-4zM370,507h5v40h-5zM375,507h4v20h-4zM379,507h4v32h-4zM383,507h4v9h-4zM387,507h4v29h-4zM391,507h4v11h-4zM399,507h4v31h-4zM403,507h4v11h-4zM413,507h4v13h-4zM421,507h4v28h-4zM425,507h4v11h-4zM429,507h4v5h-4zM433,565h5v68h-5zM438,526h4v15h-4zM442,507h4v8h-4zM446,510h4v37h-4zM450,507h4v17h-4zM454,507h4v32h-4zM458,507h4v11h-4zM462,507h4v13h-4zM466,523h4v9h-4zM470,507h5v37h-5zM475,507h4v41h-4zM479,507h4v11h-4zM483,507h4v12h-4zM487,507h4v23h-4zM491,507h4v13h-4zM495,507h4v26h-4zM499,532h4v7h-4zM503,507h4v17h-4zM507,507h5v11h-5zM512,538h4v69h-4zM516,507h4v27h-4zM520,507h4v27h-4zM524,507h4v19h-4zM528,507h4v15h-4zM532,520h4v133h-4zM536,507h4v33h-4zM540,507h4v18h-4zM544,507h5v20h-5zM549,518h4v55h-4zM553,507h4v18h-4zM557,507h4v34h-4zM561,594h4v137h-4zM561,731h4v3h-4zM565,507h4v13h-4zM569,509h4v10h-4zM573,507h4v28h-4zM577,507h4v25h-4zM581,507h5v31h-5zM586,507h4v9h-4zM590,507h4v55h-4zM598,507h4v24h-4zM602,522h4v8h-4zM606,507h4v43h-4zM610,507h4v26h-4zM614,507h4v58h-4zM618,507h5v36h-5zM623,515h4v10h-4zM631,507h4v8h-4zM635,518h4v51h-4zM639,507h4v23h-4zM643,507h4v20h-4zM647,507h4v29h-4zM651,507h4v37h-4zM655,507h5v16h-5zM660,507h4v2h-4zM668,507h4v4h-4zM672,507h4v12h-4zM676,522h4v21h-4zM680,532h4v15h-4zM684,507h4v49h-4zM688,507h4v23h-4zM692,507h5v29h-5zM697,507h4v8h-4zM701,507h4v17h-4zM705,516h4v2h-4zM709,507h4v13h-4zM713,509h4v19h-4zM717,507h4v68h-4zM721,507h4v10h-4zM725,540h4v51h-4zM729,507h5v11h-5zM734,524h4v11h-4zM738,507h4v23h-4zM742,536h4v66h-4zM746,543h4v54h-4zM750,507h4v39h-4zM758,507h4v23h-4zM762,507h4v4h-4zM766,584h4v62h-4zM770,564h5v41h-5zM775,569h4v70h-4zM779,564h4v86h-4zM783,533h4v15h-4zM787,507h4v14h-4zM791,507h4v14h-4zM795,507h4v23h-4zM799,507h4v17h-4zM803,582h4v36h-4zM807,507h5v8h-5zM812,507h4v12h-4zM816,542h4v43h-4zM820,507h4v21h-4zM824,507h4v19h-4zM828,507h4v2h-4zM832,584h4v13h-4zM836,536h4v16h-4zM840,507h4v39h-4zM844,516h5v43h-5zM849,507h4v24h-4zM857,507h4v13h-4zM861,581h4v24h-4zM865,553h4v30h-4zM869,536h4v7h-4zM873,584h4v62h-4zM877,507h4v3h-4zM881,507h5v14h-5zM886,507h4v11h-4zM890,507h4v3h-4z" fill="#852A3B" shape-rendering="crispEdges"/>
<path d="M42,514h4v6h-4zM79,527h4v47h-4zM91,507h4v13h-4zM107,507h4v18h-4zM120,509h4v3h-4zM161,561h4v9h-4zM169,528h4v10h-4zM177,520h4v5h-4zM185,509h5v7h-5zM202,526h4v16h-4zM206,507h4v48h-4zM243,530h4v4h-4zM251,520h4v7h-4zM264,530h4v3h-4zM280,741h4v4h-4zM301,543h4v13h-4zM305,561h4v5h-4zM309,534h4v44h-4zM317,518h4v3h-4zM321,520h4v26h-4zM329,527h4v31h-4zM333,667h5v3h-5zM338,507h4v29h-4zM342,507h4v7h-4zM350,539h4v2h-4zM358,543h4v39h-4zM366,552h4v10h-4zM370,547h5v7h-5zM375,527h4v13h-4zM383,516h4v45h-4zM395,507h4v4h-4zM395,511h4v19h-4zM417,507h4v13h-4zM429,512h4v8h-4zM433,633h5v13h-5zM450,524h4v6h-4zM454,539h4v7h-4zM462,520h4v4h-4zM495,533h4v10h-4zM512,607h4v11h-4zM516,534h4v45h-4zM532,653h4v16h-4zM536,540h4v8h-4zM565,520h4v45h-4zM569,519h4v5h-4zM581,538h5v9h-5zM594,507h4v11h-4zM614,565h4v14h-4zM623,525h4v14h-4zM627,629h4v59h-4zM643,527h4v5h-4zM655,523h5v16h-5zM668,511h4v16h-4zM684,556h4v22h-4zM688,530h4v9h-4zM705,518h4v5h-4zM713,528h4v4h-4zM717,575h4v26h-4zM721,517h4v6h-4zM746,597h4v15h-4zM750,546h4v15h-4zM758,530h4v47h-4zM766,646h4v16h-4zM775,639h4v3h-4zM783,548h4v17h-4zM787,521h4v82h-4zM795,530h4v13h-4zM803,618h4v17h-4zM807,515h5v12h-5zM812,519h4v13h-4zM816,585h4v10h-4zM824,526h4v10h-4zM832,597h4v8h-4zM840,546h4v8h-4zM844,559h5v5h-5zM853,507h4v33h-4zM861,605h4v22h-4zM869,543h4v9h-4zM873,646h4v7h-4zM881,521h5v3h-5zM886,518h4v9h-4zM890,510h4v6h-4z" fill="#5A4872" shape-rendering="crispEdges"/>
<path d="M38,528h4v6h-4zM42,520h4v2h-4zM46,525h4v12h-4zM50,512h4v8h-4zM54,536h4v5h-4zM58,527h4v7h-4zM62,546h4v7h-4zM66,511h4v6h-4zM70,508h4v10h-4zM74,514h5v4h-5zM83,517h4v4h-4zM87,515h4v12h-4zM99,535h4v15h-4zM107,525h4v14h-4zM111,508h5v22h-5zM116,528h4v12h-4zM120,512h4v36h-4zM124,561h4v32h-4zM128,527h4v11h-4zM132,508h4v13h-4zM136,522h4v8h-4zM140,518h4v27h-4zM148,510h5v2h-5zM157,509h4v6h-4zM169,538h4v3h-4zM177,525h4v5h-4zM181,565h4v33h-4zM185,516h5v7h-5zM190,539h4v9h-4zM194,511h4v8h-4zM198,532h4v8h-4zM202,542h4v30h-4zM214,509h4v11h-4zM218,537h4v2h-4zM222,527h5v9h-5zM227,539h4v24h-4zM231,533h4v14h-4zM243,534h4v13h-4zM247,553h4v7h-4zM264,533h4v2h-4zM268,515h4v6h-4zM276,509h4v2h-4zM284,534h4v25h-4zM296,509h5v1h-5zM301,556h4v8h-4zM309,578h4v5h-4zM313,508h4v2h-4zM317,521h4v2h-4zM342,514h4v3h-4zM346,526h4v8h-4zM350,541h4v17h-4zM358,582h4v8h-4zM366,562h4v21h-4zM375,540h4v13h-4zM379,539h4v11h-4zM391,518h4v1h-4zM395,530h4v2h-4zM413,520h4v4h-4zM417,520h4v8h-4zM425,518h4v58h-4zM429,520h4v13h-4zM433,646h5v13h-5zM438,541h4v37h-4zM442,515h4v48h-4zM446,547h4v7h-4zM450,530h4v13h-4zM454,546h4v16h-4zM466,532h4v27h-4zM470,544h5v13h-5zM479,518h4v34h-4zM483,519h4v10h-4zM487,530h4v7h-4zM491,520h4v4h-4zM495,543h4v29h-4zM499,539h4v18h-4zM503,524h4v8h-4zM507,518h5v39h-5zM512,618h4v11h-4zM516,579h4v11h-4zM520,534h4v38h-4zM524,526h4v3h-4zM528,522h4v17h-4zM536,548h4v32h-4zM540,525h4v16h-4zM544,527h5v8h-5zM549,573h4v8h-4zM553,525h4v3h-4zM557,541h4v2h-4zM569,524h4v12h-4zM573,535h4v77h-4zM577,532h4v8h-4zM581,547h5v16h-5zM586,516h4v3h-4zM594,518h4v21h-4zM598,531h4v15h-4zM602,530h4v4h-4zM606,550h4v32h-4zM610,533h4v53h-4zM614,579h4v6h-4zM618,543h5v9h-5zM623,539h4v55h-4zM627,688h4v4h-4zM635,569h4v20h-4zM639,530h4v17h-4zM643,532h4v46h-4zM647,536h4v4h-4zM651,544h4v19h-4zM660,509h4v5h-4zM668,527h4v8h-4zM672,519h4v4h-4zM676,543h4v3h-4zM680,547h4v19h-4zM684,578h4v23h-4zM692,536h5v4h-5zM697,515h4v21h-4zM709,520h4v30h-4zM713,532h4v34h-4zM717,601h4v34h-4zM721,523h4v19h-4zM725,591h4v2h-4zM729,518h5v32h-5zM738,530h4v6h-4zM746,612h4v27h-4zM754,520h4v3h-4zM762,511h4v5h-4zM770,605h5v13h-5zM779,650h4v2h-4zM783,565h4v10h-4zM791,521h4v18h-4zM799,524h4v12h-4zM803,635h4v17h-4zM812,532h4v10h-4zM820,528h4v4h-4zM824,536h4v2h-4zM828,509h4v3h-4zM832,605h4v8h-4zM836,552h4v6h-4zM840,554h4v23h-4zM844,564h5v9h-5zM853,540h4v6h-4zM857,520h4v8h-4zM861,627h4v12h-4zM865,583h4v10h-4zM869,552h4v21h-4zM881,524h5v16h-5zM890,516h4v4h-4z" fill="#4166A8" shape-rendering="crispEdges"/>
<path d="M38,534h4v17h-4zM198,540h4v14h-4zM206,555h4v15h-4zM231,547h4v7h-4zM280,745h4v18h-4zM425,576h4v15h-4zM491,524h4v3h-4zM627,692h4v7h-4zM651,563h4v7h-4zM655,539h5v23h-5zM668,535h4v20h-4zM713,566h4v20h-4z" fill="#497A7E" shape-rendering="crispEdges"/>
<path d="M38,551h4v54h-4zM42,522h4v21h-4zM46,537h4v123h-4zM50,520h4v37h-4zM54,541h4v92h-4zM58,534h4v69h-4zM62,553h4v73h-4zM66,517h4v118h-4zM70,518h4v103h-4zM74,518h5v61h-5zM79,574h4v24h-4zM83,521h4v54h-4zM87,527h4v45h-4zM91,520h4v67h-4zM95,529h4v202h-4zM95,731h4v17h-4zM99,550h4v41h-4zM103,526h4v116h-4zM107,539h4v20h-4zM111,530h5v87h-5zM116,540h4v62h-4zM120,548h4v59h-4zM124,593h4v49h-4zM128,538h4v39h-4zM132,521h4v66h-4zM136,530h4v62h-4zM140,545h4v17h-4zM144,513h4v109h-4zM153,544h4v187h-4zM153,731h4v46h-4zM157,515h4v53h-4zM161,570h4v161h-4zM161,731h4v7h-4zM165,539h4v103h-4zM169,541h4v77h-4zM173,539h4v192h-4zM173,731h4v59h-4zM177,530h4v103h-4zM181,598h4v71h-4zM190,548h4v15h-4zM194,519h4v33h-4zM198,554h4v53h-4zM202,572h4v45h-4zM206,570h4v13h-4zM210,517h4v107h-4zM214,520h4v50h-4zM218,539h4v13h-4zM222,536h5v53h-5zM227,563h4v64h-4zM231,554h4v57h-4zM235,674h4v18h-4zM239,550h4v76h-4zM243,547h4v6h-4zM247,560h4v40h-4zM251,527h4v94h-4zM255,522h4v164h-4zM259,539h5v147h-5zM264,535h4v44h-4zM268,521h4v109h-4zM272,536h4v51h-4zM276,511h4v42h-4zM284,559h4v37h-4zM288,539h4v98h-4zM292,531h4v26h-4zM296,510h5v116h-5zM301,564h4v18h-4zM305,566h4v62h-4zM309,583h4v7h-4zM321,546h4v66h-4zM325,525h4v160h-4zM329,558h4v26h-4zM333,670h5v36h-5zM338,536h4v87h-4zM342,517h4v31h-4zM346,534h4v29h-4zM350,558h4v22h-4zM354,537h4v148h-4zM358,590h4v9h-4zM362,525h4v137h-4zM370,554h5v104h-5zM375,553h4v11h-4zM379,550h4v58h-4zM383,561h4v133h-4zM387,536h4v19h-4zM391,519h4v85h-4zM395,532h4v101h-4zM399,538h4v170h-4zM403,518h4v213h-4zM403,731h4v3h-4zM413,524h4v86h-4zM417,528h4v10h-4zM421,535h4v25h-4zM425,591h4v27h-4zM429,533h4v66h-4zM438,578h4v12h-4zM442,563h4v118h-4zM446,554h4v28h-4zM454,562h4v50h-4zM458,518h4v69h-4zM466,559h4v46h-4zM470,557h5v3h-5zM475,548h4v183h-4zM475,731h4v39h-4zM479,552h4v28h-4zM483,529h4v167h-4zM487,537h4v21h-4zM491,527h4v102h-4zM495,572h4v79h-4zM499,557h4v58h-4zM516,590h4v21h-4zM520,572h4v34h-4zM528,539h4v37h-4zM532,669h4v20h-4zM540,541h4v75h-4zM544,535h5v27h-5zM553,528h4v188h-4zM565,565h4v70h-4zM573,612h4v16h-4zM577,540h4v118h-4zM581,563h5v6h-5zM586,519h4v7h-4zM594,539h4v27h-4zM602,534h4v11h-4zM606,582h4v25h-4zM610,586h4v15h-4zM614,585h4v75h-4zM618,552h5v55h-5zM623,594h4v19h-4zM627,699h4v24h-4zM631,515h4v216h-4zM631,731h4v3h-4zM635,589h4v21h-4zM639,547h4v65h-4zM643,578h4v13h-4zM647,540h4v27h-4zM651,570h4v46h-4zM655,562h5v82h-5zM660,514h4v87h-4zM664,510h4v221h-4zM664,731h4v5h-4zM668,555h4v13h-4zM672,523h4v136h-4zM676,546h4v73h-4zM680,566h4v70h-4zM684,601h4v61h-4zM688,539h4v73h-4zM692,540h5v128h-5zM697,536h4v110h-4zM697,676h4v55h-4zM697,731h4v5h-4zM701,524h4v191h-4zM701,738h4v36h-4zM705,523h4v208h-4zM705,731h4v74h-4zM709,550h4v64h-4zM713,586h4v10h-4zM717,635h4v41h-4zM721,542h4v79h-4zM729,550h5v88h-5zM734,535h4v77h-4zM738,536h4v21h-4zM742,602h4v23h-4zM746,639h4v21h-4zM750,561h4v77h-4zM754,523h4v139h-4zM758,577h4v154h-4zM758,731h4v12h-4zM762,516h4v78h-4zM766,662h4v22h-4zM770,618h5v41h-5zM775,642h4v60h-4zM779,652h4v22h-4zM787,603h4v90h-4zM791,539h4v52h-4zM795,543h4v115h-4zM799,536h4v83h-4zM803,652h4v31h-4zM807,527h5v10h-5zM812,542h4v23h-4zM816,595h4v136h-4zM824,538h4v52h-4zM828,512h4v157h-4zM836,558h4v45h-4zM849,531h4v182h-4zM853,546h4v18h-4zM857,528h4v27h-4zM865,593h4v30h-4zM869,573h4v32h-4zM873,653h4v30h-4zM877,510h4v121h-4zM881,540h5v26h-5zM886,527h4v177h-4zM890,520h4v62h-4z" fill="#578D60" shape-rendering="crispEdges"/>
<path d="M38,605h4v30h-4zM42,543h4v51h-4zM46,660h4v25h-4zM50,557h4v47h-4zM54,633h4v28h-4zM58,603h4v52h-4zM62,626h4v37h-4zM66,635h4v40h-4zM70,621h4v32h-4zM74,579h5v36h-5zM79,598h4v16h-4zM83,575h4v26h-4zM87,572h4v47h-4zM91,587h4v50h-4zM95,748h4v27h-4zM99,591h4v70h-4zM103,642h4v30h-4zM107,559h4v51h-4zM111,617h5v41h-5zM116,602h4v75h-4zM120,607h4v30h-4zM124,642h4v46h-4zM128,577h4v35h-4zM132,587h4v79h-4zM136,592h4v27h-4zM140,562h4v42h-4zM144,622h4v61h-4zM148,512h5v99h-5zM157,568h4v33h-4zM161,738h4v18h-4zM165,642h4v55h-4zM169,618h4v24h-4zM173,790h4v35h-4zM177,633h4v16h-4zM181,669h4v37h-4zM185,523h5v65h-5zM190,563h4v41h-4zM194,552h4v55h-4zM198,607h4v31h-4zM202,617h4v20h-4zM206,583h4v36h-4zM210,624h4v28h-4zM214,570h4v67h-4zM218,552h4v34h-4zM222,589h5v55h-5zM227,627h4v44h-4zM231,611h4v11h-4zM235,692h4v12h-4zM239,521h4v29h-4zM243,553h4v79h-4zM247,600h4v49h-4zM251,621h4v60h-4zM255,686h4v38h-4zM259,686h5v6h-5zM264,579h4v43h-4zM268,630h4v56h-4zM272,587h4v53h-4zM276,553h4v34h-4zM280,763h4v12h-4zM284,596h4v37h-4zM288,637h4v18h-4zM292,557h4v64h-4zM296,626h5v27h-5zM301,582h4v82h-4zM305,628h4v50h-4zM309,590h4v87h-4zM313,510h4v68h-4zM317,523h4v62h-4zM321,612h4v71h-4zM325,685h4v9h-4zM329,584h4v19h-4zM333,706h5v3h-5zM338,623h4v10h-4zM342,548h4v39h-4zM346,563h4v43h-4zM350,580h4v72h-4zM354,685h4v25h-4zM358,599h4v23h-4zM362,662h4v17h-4zM366,583h4v22h-4zM370,658h5v39h-5zM375,564h4v55h-4zM379,608h4v26h-4zM387,555h4v16h-4zM391,604h4v28h-4zM395,633h4v56h-4zM399,708h4v23h-4zM399,731h4v34h-4zM403,734h4v27h-4zM413,610h4v47h-4zM417,538h4v55h-4zM421,560h4v33h-4zM425,618h4v22h-4zM429,599h4v11h-4zM438,590h4v37h-4zM446,582h4v25h-4zM450,543h4v35h-4zM454,612h4v40h-4zM458,587h4v36h-4zM462,524h4v6h-4zM470,560h5v70h-5zM479,580h4v11h-4zM483,696h4v35h-4zM483,731h4v18h-4zM487,558h4v57h-4zM491,629h4v38h-4zM495,651h4v43h-4zM503,532h4v57h-4zM507,557h5v21h-5zM520,606h4v19h-4zM524,529h4v35h-4zM528,576h4v75h-4zM532,689h4v10h-4zM536,580h4v23h-4zM540,616h4v42h-4zM544,562h5v32h-5zM549,581h4v14h-4zM553,716h4v9h-4zM557,543h4v62h-4zM565,635h4v19h-4zM569,536h4v14h-4zM573,628h4v76h-4zM581,569h5v4h-5zM586,526h4v52h-4zM590,562h4v60h-4zM594,566h4v18h-4zM598,546h4v34h-4zM602,545h4v41h-4zM606,607h4v43h-4zM610,601h4v55h-4zM614,660h4v19h-4zM618,607h5v43h-5zM623,613h4v16h-4zM631,734h4v20h-4zM635,610h4v27h-4zM639,612h4v50h-4zM643,591h4v37h-4zM647,567h4v59h-4zM651,616h4v37h-4zM660,601h4v36h-4zM668,568h4v60h-4zM672,659h4v21h-4zM676,619h4v36h-4zM680,636h4v27h-4zM688,612h4v16h-4zM692,668h5v53h-5zM697,646h4v30h-4zM701,715h4v16h-4zM701,731h4v7h-4zM709,614h4v23h-4zM713,596h4v7h-4zM717,676h4v12h-4zM721,621h4v28h-4zM725,593h4v28h-4zM729,638h5v25h-5zM734,612h4v33h-4zM738,557h4v71h-4zM742,625h4v26h-4zM746,660h4v16h-4zM750,638h4v29h-4zM754,662h4v67h-4zM762,594h4v9h-4zM770,659h5v37h-5zM775,702h4v12h-4zM779,674h4v5h-4zM783,575h4v23h-4zM787,693h4v4h-4zM791,591h4v21h-4zM795,658h4v4h-4zM799,619h4v61h-4zM803,683h4v10h-4zM807,537h5v29h-5zM812,565h4v27h-4zM816,731h4v17h-4zM820,532h4v37h-4zM824,590h4v52h-4zM828,669h4v34h-4zM832,613h4v18h-4zM836,603h4v33h-4zM840,577h4v14h-4zM844,573h5v39h-5zM853,564h4v71h-4zM857,555h4v25h-4zM861,656h4v6h-4zM865,623h4v28h-4zM869,605h4v16h-4zM873,683h4v21h-4zM877,631h4v66h-4zM881,566h5v46h-5zM886,704h4v4h-4zM890,582h4v46h-4z" fill="#639E3E" shape-rendering="crispEdges"/>
<path d="M38,635h4v96h-4zM42,594h4v67h-4zM46,685h4v46h-4zM46,731h4v60h-4zM50,604h4v111h-4zM54,661h4v70h-4zM58,655h4v58h-4zM62,663h4v68h-4zM66,675h4v56h-4zM70,653h4v71h-4zM74,615h5v43h-5zM79,614h4v23h-4zM83,601h4v71h-4zM87,619h4v46h-4zM91,637h4v57h-4zM95,775h4v46h-4zM99,661h4v52h-4zM103,672h4v59h-4zM103,731h4v5h-4zM107,610h4v35h-4zM111,658h5v73h-5zM116,677h4v54h-4zM116,731h4v7h-4zM120,637h4v69h-4zM124,688h4v43h-4zM124,731h4v40h-4zM128,612h4v39h-4zM132,666h4v50h-4zM136,619h4v34h-4zM140,604h4v38h-4zM144,683h4v48h-4zM144,731h4v5h-4zM148,611h5v39h-5zM153,777h4v25h-4zM157,601h4v59h-4zM161,756h4v26h-4zM165,697h4v34h-4zM169,642h4v32h-4zM173,825h4v33h-4zM177,649h4v82h-4zM177,731h4v35h-4zM181,706h4v25h-4zM181,731h4v64h-4zM185,588h5v52h-5zM190,604h4v91h-4zM194,607h4v80h-4zM198,638h4v76h-4zM202,637h4v94h-4zM202,731h4v38h-4zM206,619h4v75h-4zM210,652h4v79h-4zM214,637h4v42h-4zM218,586h4v22h-4zM222,644h5v77h-5zM227,671h4v34h-4zM231,622h4v109h-4zM231,731h4v64h-4zM235,704h4v27h-4zM235,731h4v9h-4zM239,626h4v62h-4zM243,632h4v53h-4zM247,649h4v37h-4zM251,681h4v50h-4zM251,731h4v18h-4zM255,724h4v7h-4zM255,731h4v17h-4zM259,692h5v39h-5zM264,622h4v60h-4zM268,686h4v45h-4zM268,731h4v36h-4zM272,640h4v45h-4zM276,587h4v78h-4zM280,775h4v17h-4zM284,633h4v36h-4zM288,655h4v76h-4zM288,731h4v33h-4zM292,621h4v17h-4zM296,653h5v30h-5zM301,664h4v44h-4zM305,678h4v46h-4zM309,677h4v54h-4zM309,731h4v8h-4zM313,578h4v25h-4zM317,585h4v72h-4zM321,683h4v19h-4zM325,694h4v37h-4zM325,731h4v3h-4zM329,603h4v28h-4zM333,709h5v13h-5zM338,633h4v49h-4zM342,587h4v87h-4zM346,606h4v63h-4zM350,652h4v36h-4zM354,710h4v18h-4zM358,622h4v31h-4zM362,679h4v34h-4zM366,605h4v107h-4zM370,697h5v34h-5zM370,731h5v3h-5zM375,619h4v64h-4zM379,634h4v24h-4zM383,694h4v37h-4zM383,731h4v28h-4zM387,571h4v21h-4zM391,632h4v60h-4zM395,689h4v42h-4zM395,731h4v24h-4zM399,765h4v47h-4zM403,761h4v82h-4zM413,657h4v62h-4zM417,593h4v38h-4zM421,593h4v107h-4zM425,640h4v91h-4zM425,731h4v16h-4zM429,610h4v66h-4zM433,659h5v72h-5zM433,731h5v12h-5zM438,627h4v28h-4zM442,681h4v50h-4zM442,731h4v7h-4zM446,607h4v44h-4zM450,578h4v66h-4zM454,652h4v52h-4zM458,623h4v92h-4zM462,530h4v28h-4zM466,605h4v56h-4zM470,630h5v46h-5zM475,770h4v47h-4zM479,591h4v46h-4zM483,749h4v52h-4zM487,615h4v63h-4zM491,667h4v64h-4zM491,731h4v7h-4zM495,694h4v37h-4zM495,731h4v2h-4zM499,615h4v77h-4zM503,589h4v58h-4zM507,578h5v121h-5zM512,629h4v68h-4zM516,611h4v75h-4zM520,625h4v90h-4zM524,564h4v72h-4zM528,651h4v69h-4zM532,699h4v24h-4zM536,603h4v77h-4zM540,658h4v61h-4zM544,594h5v96h-5zM549,595h4v72h-4zM553,725h4v6h-4zM553,731h4v65h-4zM557,605h4v66h-4zM561,734h4v62h-4zM565,654h4v20h-4zM569,550h4v105h-4zM573,704h4v27h-4zM573,731h4v19h-4zM577,658h4v70h-4zM581,573h5v31h-5zM586,578h4v55h-4zM590,622h4v38h-4zM594,584h4v131h-4zM598,580h4v39h-4zM602,586h4v63h-4zM606,650h4v63h-4zM610,656h4v36h-4zM614,679h4v37h-4zM618,650h5v81h-5zM623,629h4v81h-4zM627,723h4v8h-4zM627,731h4v34h-4zM631,754h4v69h-4zM635,637h4v76h-4zM639,662h4v69h-4zM639,731h4v5h-4zM643,628h4v103h-4zM643,731h4v12h-4zM647,626h4v105h-4zM651,653h4v70h-4zM655,644h5v36h-5zM660,637h4v55h-4zM664,736h4v46h-4zM668,628h4v48h-4zM672,680h4v28h-4zM676,655h4v67h-4zM680,663h4v68h-4zM680,731h4v10h-4zM684,662h4v47h-4zM688,628h4v103h-4zM688,731h4v11h-4zM692,721h5v10h-5zM692,731h5v5h-5zM697,736h4v5h-4zM701,774h4v8h-4zM709,637h4v94h-4zM709,731h4v30h-4zM713,603h4v64h-4zM717,688h4v19h-4zM721,649h4v82h-4zM721,731h4v11h-4zM725,621h4v34h-4zM729,663h5v68h-5zM729,731h5v48h-5zM734,645h4v72h-4zM738,628h4v48h-4zM742,651h4v42h-4zM746,676h4v25h-4zM750,667h4v37h-4zM754,729h4v2h-4zM754,731h4v42h-4zM758,743h4v17h-4zM762,603h4v41h-4zM766,684h4v20h-4zM770,696h5v35h-5zM770,731h5v41h-5zM775,714h4v17h-4zM775,731h4v13h-4zM779,679h4v34h-4zM783,598h4v40h-4zM787,697h4v34h-4zM787,731h4v9h-4zM791,612h4v74h-4zM795,662h4v30h-4zM799,680h4v51h-4zM799,731h4v45h-4zM803,693h4v38h-4zM812,592h4v64h-4zM816,748h4v16h-4zM820,569h4v61h-4zM824,642h4v37h-4zM828,703h4v28h-4zM828,731h4v39h-4zM832,631h4v23h-4zM836,636h4v51h-4zM840,591h4v104h-4zM844,612h5v71h-5zM849,713h4v18h-4zM853,635h4v32h-4zM857,580h4v22h-4zM861,639h4v17h-4zM861,662h4v4h-4zM865,651h4v18h-4zM869,621h4v15h-4zM873,704h4v16h-4zM877,697h4v34h-4zM877,731h4v14h-4zM881,612h5v62h-5zM886,708h4v15h-4zM890,628h4v45h-4z" fill="#627D58" shape-rendering="crispEdges"/>
<path d="M38,731h4v26h-4zM50,715h4v16h-4zM50,731h4v16h-4zM58,713h4v8h-4zM91,694h4v37h-4zM91,731h4v20h-4zM111,731h5v30h-5zM116,738h4v33h-4zM120,706h4v25h-4zM120,731h4v3h-4zM185,640h5v91h-5zM198,714h4v12h-4zM202,769h4v43h-4zM210,731h4v11h-4zM227,705h4v23h-4zM251,749h4v30h-4zM255,748h4v57h-4zM259,731h5v10h-5zM268,767h4v31h-4zM296,683h5v10h-5zM325,734h4v26h-4zM338,682h4v43h-4zM342,674h4v39h-4zM362,731h4v44h-4zM370,734h5v9h-5zM379,658h4v4h-4zM383,759h4v66h-4zM387,592h4v12h-4zM429,676h4v46h-4zM491,738h4v7h-4zM499,692h4v22h-4zM565,674h4v57h-4zM565,731h4v12h-4zM569,655h4v23h-4zM573,750h4v14h-4zM623,710h4v21h-4zM623,731h4v35h-4zM639,736h4v21h-4zM643,743h4v30h-4zM651,723h4v8h-4zM651,731h4v30h-4zM655,680h5v51h-5zM655,731h5v56h-5zM660,692h4v39h-4zM660,731h4v5h-4zM668,676h4v30h-4zM672,708h4v23h-4zM672,731h4v8h-4zM684,709h4v22h-4zM684,731h4v71h-4zM692,736h5v14h-5zM701,782h4v32h-4zM705,805h4v27h-4zM750,704h4v27h-4zM754,773h4v54h-4zM758,760h4v67h-4zM766,704h4v4h-4zM787,740h4v133h-4zM795,692h4v39h-4zM795,731h4v90h-4zM807,566h5v59h-5zM812,656h4v25h-4zM828,770h4v11h-4zM836,687h4v8h-4zM849,731h4v47h-4zM865,669h4v5h-4zM877,745h4v66h-4zM886,723h4v8h-4zM886,731h4v53h-4zM890,673h4v24h-4z" fill="#695B75" shape-rendering="crispEdges"/>
<path d="M42,661h4v17h-4zM62,731h4v11h-4zM66,731h4v22h-4zM70,724h4v7h-4zM70,731h4v3h-4zM74,658h5v8h-5zM79,637h4v14h-4zM83,672h4v28h-4zM87,665h4v4h-4zM95,821h4v16h-4zM99,713h4v18h-4zM99,731h4v20h-4zM107,645h4v23h-4zM120,734h4v16h-4zM124,771h4v16h-4zM128,651h4v4h-4zM132,716h4v8h-4zM136,653h4v13h-4zM140,642h4v18h-4zM144,736h4v9h-4zM148,650h5v26h-5zM153,802h4v5h-4zM157,660h4v30h-4zM165,731h4v7h-4zM169,674h4v17h-4zM173,858h4v15h-4zM177,766h4v11h-4zM181,795h4v5h-4zM190,695h4v11h-4zM194,687h4v38h-4zM198,726h4v5h-4zM198,731h4v7h-4zM206,694h4v20h-4zM214,679h4v7h-4zM218,608h4v27h-4zM222,721h5v4h-5zM231,795h4v26h-4zM235,740h4v14h-4zM239,688h4v22h-4zM243,685h4v16h-4zM247,686h4v15h-4zM264,682h4v15h-4zM272,685h4v16h-4zM276,665h4v11h-4zM280,792h4v7h-4zM284,669h4v13h-4zM288,764h4v17h-4zM292,638h4v15h-4zM301,708h4v17h-4zM305,724h4v7h-4zM305,731h4v3h-4zM309,739h4v35h-4zM313,603h4v7h-4zM317,657h4v8h-4zM321,702h4v20h-4zM333,722h5v9h-5zM333,731h5v21h-5zM346,669h4v56h-4zM350,688h4v39h-4zM354,728h4v3h-4zM354,731h4v3h-4zM358,653h4v12h-4zM362,713h4v18h-4zM366,712h4v19h-4zM366,731h4v12h-4zM375,683h4v16h-4zM403,843h4v44h-4zM413,719h4v6h-4zM417,631h4v20h-4zM421,700h4v31h-4zM421,731h4v72h-4zM425,747h4v43h-4zM433,743h5v21h-5zM438,655h4v55h-4zM442,738h4v8h-4zM446,651h4v47h-4zM450,644h4v32h-4zM454,704h4v27h-4zM454,731h4v11h-4zM458,715h4v7h-4zM462,558h4v55h-4zM466,661h4v20h-4zM470,676h5v39h-5zM475,817h4v11h-4zM479,637h4v83h-4zM487,678h4v26h-4zM495,733h4v7h-4zM503,647h4v8h-4zM507,699h5v32h-5zM507,731h5v42h-5zM512,697h4v17h-4zM516,686h4v45h-4zM516,731h4v14h-4zM520,715h4v16h-4zM520,731h4v30h-4zM524,636h4v39h-4zM528,720h4v11h-4zM528,731h4v7h-4zM532,723h4v8h-4zM532,731h4v8h-4zM536,680h4v45h-4zM540,719h4v12h-4zM540,731h4v2h-4zM544,690h5v41h-5zM549,667h4v37h-4zM553,796h4v58h-4zM557,671h4v21h-4zM561,796h4v8h-4zM569,678h4v50h-4zM577,728h4v3h-4zM577,731h4v39h-4zM581,604h5v10h-5zM586,633h4v14h-4zM590,660h4v21h-4zM594,715h4v16h-4zM594,731h4v4h-4zM598,619h4v7h-4zM602,649h4v18h-4zM606,713h4v13h-4zM610,692h4v14h-4zM614,716h4v8h-4zM618,731h5v19h-5zM623,766h4v25h-4zM627,765h4v8h-4zM631,823h4v5h-4zM635,713h4v18h-4zM635,731h4v10h-4zM643,773h4v20h-4zM647,731h4v24h-4zM664,782h4v16h-4zM676,722h4v9h-4zM676,731h4v3h-4zM680,741h4v22h-4zM688,742h4v19h-4zM692,750h5v3h-5zM697,741h4v4h-4zM709,761h4v50h-4zM713,667h4v64h-4zM713,731h4v17h-4zM717,707h4v24h-4zM717,731h4v26h-4zM721,742h4v11h-4zM725,655h4v47h-4zM729,779h5v19h-5zM734,717h4v14h-4zM734,731h4v3h-4zM738,676h4v36h-4zM742,693h4v38h-4zM742,731h4v5h-4zM746,701h4v30h-4zM746,731h4v4h-4zM750,731h4v79h-4zM762,644h4v87h-4zM762,731h4v16h-4zM770,772h5v13h-5zM775,744h4v8h-4zM783,638h4v45h-4zM799,776h4v20h-4zM803,731h4v5h-4zM816,764h4v45h-4zM820,630h4v35h-4zM824,679h4v18h-4zM832,654h4v29h-4zM840,695h4v36h-4zM840,731h4v17h-4zM844,683h5v34h-5zM853,667h4v11h-4zM857,602h4v37h-4zM861,666h4v53h-4zM865,674h4v3h-4zM869,636h4v22h-4zM873,720h4v7h-4zM881,674h5v31h-5z" fill="#6F3890" shape-rendering="crispEdges"/>
<path d="M58,721h4v10h-4zM120,750h4v4h-4zM136,666h4v9h-4zM148,676h5v3h-5zM210,742h4v8h-4zM218,635h4v8h-4zM227,728h4v3h-4zM227,731h4v16h-4zM231,821h4v14h-4zM235,754h4v5h-4zM338,725h4v6h-4zM338,731h4v4h-4zM383,825h4v5h-4zM387,604h4v4h-4zM429,722h4v9h-4zM429,731h4v10h-4zM438,710h4v7h-4zM446,698h4v7h-4zM450,676h4v23h-4zM454,742h4v4h-4zM466,681h4v3h-4zM470,715h5v9h-5zM479,720h4v3h-4zM487,704h4v6h-4zM503,655h4v5h-4zM507,773h5v4h-5zM520,761h4v4h-4zM524,675h4v4h-4zM532,739h4v5h-4zM549,704h4v10h-4zM557,692h4v7h-4zM565,743h4v23h-4zM569,728h4v3h-4zM569,731h4v7h-4zM586,647h4v8h-4zM590,681h4v5h-4zM594,735h4v22h-4zM598,626h4v2h-4zM606,726h4v5h-4zM606,731h4v7h-4zM627,773h4v7h-4zM635,741h4v7h-4zM643,793h4v7h-4zM655,787h5v6h-5zM713,748h4v13h-4zM717,757h4v12h-4zM725,702h4v8h-4zM742,736h4v5h-4zM783,683h4v6h-4zM791,686h4v4h-4zM824,697h4v4h-4zM840,748h4v11h-4zM844,717h5v3h-5z" fill="#934958" shape-rendering="crispEdges"/>
<path d="M38,757h4v39h-4zM42,678h4v5h-4zM46,791h4v27h-4zM99,751h4v4h-4zM132,724h4v7h-4zM132,731h4v12h-4zM165,738h4v6h-4zM181,800h4v7h-4zM185,731h5v33h-5zM190,706h4v25h-4zM198,738h4v21h-4zM202,812h4v41h-4zM206,714h4v17h-4zM206,731h4v10h-4zM210,750h4v34h-4zM231,835h4v33h-4zM247,714h4v17h-4zM247,731h4v7h-4zM255,805h4v18h-4zM259,741h5v89h-5zM288,781h4v12h-4zM292,653h4v50h-4zM329,631h4v4h-4zM338,735h4v104h-4zM342,713h4v18h-4zM342,731h4v7h-4zM366,743h4v11h-4zM383,830h4v18h-4zM413,725h4v6h-4zM413,731h4v7h-4zM421,803h4v22h-4zM429,741h4v32h-4zM499,714h4v17h-4zM536,725h4v6h-4zM536,731h4v10h-4zM565,766h4v44h-4zM651,761h4v11h-4zM655,793h5v26h-5zM660,736h4v42h-4zM664,798h4v7h-4zM668,706h4v14h-4zM672,739h4v10h-4zM684,802h4v65h-4zM688,761h4v8h-4zM701,814h4v4h-4zM709,811h4v12h-4zM713,761h4v28h-4zM717,769h4v18h-4zM729,798h5v34h-5zM746,735h4v27h-4zM750,810h4v27h-4zM754,827h4v12h-4zM762,747h4v11h-4zM787,873h4v14h-4zM795,821h4v35h-4zM803,736h4v7h-4zM807,625h5v15h-5zM849,778h4v75h-4zM853,678h4v4h-4zM865,677h4v6h-4zM877,811h4v18h-4zM886,784h4v5h-4zM890,697h4v13h-4z" fill="#B85A2B" shape-rendering="crispEdges"/>
<path d="M54,731h4v13h-4zM58,731h4v11h-4zM62,742h4v13h-4zM66,753h4v31h-4zM70,734h4v32h-4zM74,666h5v10h-5zM79,651h4v4h-4zM83,700h4v31h-4zM83,731h4v10h-4zM87,669h4v35h-4zM91,751h4v35h-4zM95,837h4v3h-4zM99,755h4v10h-4zM103,736h4v5h-4zM107,668h4v26h-4zM111,761h5v43h-5zM116,771h4v29h-4zM120,754h4v16h-4zM124,787h4v6h-4zM132,743h4v41h-4zM136,675h4v21h-4zM140,660h4v2h-4zM144,745h4v39h-4zM148,679h5v24h-5zM153,807h4v8h-4zM157,690h4v16h-4zM161,782h4v8h-4zM165,744h4v9h-4zM169,691h4v34h-4zM173,873h4v5h-4zM177,777h4v24h-4zM181,807h4v10h-4zM185,764h5v27h-5zM190,731h4v16h-4zM194,725h4v6h-4zM194,731h4v15h-4zM198,759h4v14h-4zM206,741h4v5h-4zM214,686h4v5h-4zM218,643h4v26h-4zM222,725h5v6h-5zM222,731h5v5h-5zM227,747h4v30h-4zM231,868h4v10h-4zM235,759h4v27h-4zM239,710h4v7h-4zM243,701h4v4h-4zM247,701h4v13h-4zM251,779h4v14h-4zM255,823h4v20h-4zM259,830h5v11h-5zM264,697h4v34h-4zM264,731h4v12h-4zM268,798h4v18h-4zM276,676h4v28h-4zM284,682h4v3h-4zM288,793h4v7h-4zM301,725h4v6h-4zM301,731h4v7h-4zM305,734h4v9h-4zM309,774h4v24h-4zM313,610h4v2h-4zM321,722h4v9h-4zM321,731h4v2h-4zM325,760h4v15h-4zM333,752h5v11h-5zM342,738h4v28h-4zM346,725h4v6h-4zM350,727h4v4h-4zM350,731h4v46h-4zM358,665h4v2h-4zM362,775h4v21h-4zM379,662h4v26h-4zM387,608h4v4h-4zM391,692h4v22h-4zM395,755h4v20h-4zM403,887h4v6h-4zM417,651h4v13h-4zM425,790h4v14h-4zM433,764h5v13h-5zM438,717h4v14h-4zM438,731h4v11h-4zM442,746h4v4h-4zM450,699h4v15h-4zM454,746h4v13h-4zM458,722h4v9h-4zM458,731h4v3h-4zM462,613h4v5h-4zM470,724h5v7h-5zM470,731h5v12h-5zM475,828h4v4h-4zM479,723h4v8h-4zM479,731h4v21h-4zM483,801h4v6h-4zM487,710h4v14h-4zM491,745h4v12h-4zM495,740h4v25h-4zM503,660h4v6h-4zM507,777h5v21h-5zM516,745h4v25h-4zM520,765h4v11h-4zM524,679h4v18h-4zM528,738h4v26h-4zM532,744h4v16h-4zM540,733h4v10h-4zM544,731h5v5h-5zM549,714h4v12h-4zM553,854h4v12h-4zM557,699h4v12h-4zM561,804h4v9h-4zM573,764h4v12h-4zM577,770h4v10h-4zM581,614h5v11h-5zM586,655h4v19h-4zM590,686h4v22h-4zM594,757h4v32h-4zM598,628h4v9h-4zM602,667h4v21h-4zM606,738h4v23h-4zM610,706h4v3h-4zM614,724h4v7h-4zM618,750h5v21h-5zM623,791h4v2h-4zM631,828h4v2h-4zM635,748h4v18h-4zM639,757h4v18h-4zM647,755h4v2h-4zM664,805h4v9h-4zM668,720h4v11h-4zM668,731h4v9h-4zM680,763h4v6h-4zM684,867h4v11h-4zM688,769h4v6h-4zM697,745h4v10h-4zM709,823h4v5h-4zM713,789h4v16h-4zM717,787h4v4h-4zM721,753h4v17h-4zM725,710h4v21h-4zM725,731h4v5h-4zM729,832h5v12h-5zM734,734h4v5h-4zM758,827h4v4h-4zM762,758h4v61h-4zM775,752h4v5h-4zM779,713h4v15h-4zM783,689h4v37h-4zM791,690h4v6h-4zM799,796h4v18h-4zM816,809h4v21h-4zM820,665h4v60h-4zM824,701h4v30h-4zM828,781h4v4h-4zM832,683h4v10h-4zM840,759h4v10h-4zM844,720h5v11h-5zM853,682h4v49h-4zM853,731h4v6h-4zM857,639h4v32h-4zM861,719h4v12h-4zM869,658h4v7h-4zM873,727h4v4h-4zM881,705h5v23h-5z" fill="#DB6B1C" shape-rendering="crispEdges"/>
<path d="M38,796h4v13h-4zM42,683h4v14h-4zM46,818h4v6h-4zM79,655h4v45h-4zM153,815h4v14h-4zM202,853h4v5h-4zM214,691h4v13h-4zM280,799h4v12h-4zM296,693h5v38h-5zM296,731h5v3h-5zM329,635h4v10h-4zM338,839h4v3h-4zM354,734h4v7h-4zM358,667h4v46h-4zM366,754h4v10h-4zM375,699h4v10h-4zM383,848h4v17h-4zM387,612h4v14h-4zM399,812h4v4h-4zM413,738h4v15h-4zM429,773h4v6h-4zM466,684h4v8h-4zM651,772h4v15h-4zM655,819h5v22h-5zM660,778h4v16h-4zM672,749h4v9h-4zM692,753h5v8h-5zM701,818h4v5h-4zM705,832h4v7h-4zM738,712h4v10h-4zM746,762h4v11h-4zM750,837h4v3h-4zM754,839h4v12h-4zM758,831h4v23h-4zM791,696h4v23h-4zM795,856h4v18h-4zM803,743h4v7h-4zM807,640h5v29h-5zM812,681h4v11h-4zM828,785h4v65h-4zM849,853h4v26h-4zM865,683h4v27h-4zM877,829h4v5h-4zM886,789h4v36h-4zM890,710h4v18h-4z" fill="#E5962A" shape-rendering="crispEdges"/>
<path d="M38,809h4v25h-4zM42,697h4v5h-4zM50,747h4v37h-4zM54,744h4v21h-4zM66,784h4v38h-4zM74,676h5v18h-5zM79,700h4v10h-4zM83,741h4v36h-4zM91,786h4v37h-4zM99,765h4v3h-4zM103,741h4v46h-4zM107,694h4v12h-4zM111,804h5v11h-5zM116,800h4v14h-4zM124,793h4v8h-4zM128,655h4v61h-4zM128,757h4v7h-4zM132,784h4v9h-4zM136,696h4v35h-4zM140,662h4v8h-4zM148,703h5v6h-5zM153,829h4v3h-4zM157,706h4v25h-4zM161,790h4v32h-4zM165,753h4v62h-4zM169,725h4v6h-4zM169,731h4v21h-4zM177,801h4v39h-4zM181,817h4v16h-4zM185,791h5v10h-5zM198,773h4v15h-4zM206,746h4v40h-4zM210,784h4v14h-4zM214,704h4v3h-4zM218,669h4v30h-4zM222,736h5v28h-5zM227,777h4v10h-4zM231,878h4v14h-4zM235,786h4v7h-4zM239,717h4v14h-4zM239,731h4v45h-4zM247,738h4v10h-4zM251,793h4v19h-4zM255,843h4v15h-4zM259,841h5v14h-5zM264,743h4v78h-4zM272,701h4v30h-4zM272,731h4v19h-4zM276,704h4v27h-4zM276,731h4v17h-4zM280,811h4v16h-4zM284,685h4v46h-4zM284,731h4v5h-4zM288,800h4v21h-4zM292,703h4v25h-4zM296,734h5v35h-5zM301,738h4v69h-4zM305,743h4v30h-4zM313,612h4v53h-4zM317,665h4v24h-4zM321,733h4v22h-4zM325,775h4v32h-4zM329,645h4v42h-4zM333,763h5v32h-5zM338,842h4v20h-4zM342,766h4v15h-4zM346,731h4v66h-4zM354,741h4v4h-4zM358,713h4v18h-4zM358,731h4v14h-4zM362,796h4v28h-4zM366,764h4v57h-4zM370,743h5v74h-5zM375,709h4v22h-4zM375,731h4v18h-4zM379,688h4v20h-4zM383,865h4v13h-4zM387,626h4v105h-4zM387,731h4v8h-4zM391,714h4v17h-4zM391,731h4v46h-4zM395,775h4v15h-4zM417,664h4v17h-4zM429,779h4v62h-4zM433,777h5v3h-5zM438,742h4v53h-4zM446,705h4v26h-4zM446,731h4v16h-4zM450,714h4v17h-4zM450,731h4v12h-4zM454,759h4v38h-4zM458,734h4v22h-4zM462,618h4v113h-4zM462,731h4v54h-4zM466,692h4v39h-4zM466,731h4v12h-4zM470,743h5v61h-5zM475,832h4v24h-4zM479,752h4v19h-4zM487,724h4v7h-4zM487,731h4v15h-4zM491,757h4v82h-4zM499,731h4v35h-4zM503,666h4v7h-4zM512,714h4v17h-4zM512,731h4v5h-4zM524,697h4v34h-4zM524,731h4v17h-4zM528,764h4v22h-4zM544,736h5v32h-5zM549,726h4v5h-4zM549,731h4v39h-4zM557,711h4v20h-4zM557,731h4v11h-4zM565,810h4v13h-4zM569,738h4v39h-4zM577,780h4v13h-4zM581,625h5v106h-5zM581,731h5v86h-5zM586,674h4v18h-4zM590,708h4v23h-4zM590,731h4v38h-4zM594,789h4v4h-4zM598,637h4v24h-4zM606,761h4v29h-4zM610,709h4v22h-4zM610,731h4v40h-4zM614,731h4v45h-4zM618,771h5v36h-5zM627,780h4v80h-4zM631,830h4v56h-4zM639,775h4v17h-4zM651,787h4v51h-4zM660,794h4v57h-4zM664,814h4v36h-4zM668,740h4v28h-4zM672,758h4v70h-4zM676,734h4v32h-4zM680,769h4v9h-4zM688,775h4v23h-4zM692,761h5v99h-5zM697,755h4v34h-4zM701,823h4v23h-4zM705,839h4v16h-4zM709,828h4v32h-4zM713,805h4v9h-4zM717,791h4v2h-4zM721,770h4v32h-4zM734,739h4v25h-4zM738,722h4v9h-4zM738,731h4v51h-4zM762,819h4v17h-4zM766,708h4v23h-4zM766,731h4v45h-4zM779,728h4v3h-4zM779,731h4v10h-4zM783,726h4v5h-4zM783,731h4v32h-4zM791,719h4v12h-4zM799,814h4v18h-4zM803,750h4v24h-4zM807,669h5v39h-5zM812,692h4v39h-4zM820,725h4v6h-4zM820,731h4v6h-4zM832,693h4v38h-4zM832,731h4v12h-4zM836,695h4v36h-4zM836,731h4v23h-4zM840,769h4v1h-4zM853,737h4v13h-4zM865,710h4v21h-4zM865,731h4v19h-4zM869,665h4v63h-4zM873,738h4v52h-4zM881,728h5v3h-5zM881,731h5v21h-5zM890,728h4v3h-4zM890,731h4v74h-4z" fill="#EBC431" shape-rendering="crispEdges"/>
<path d="M38,834h4v25h-4zM42,702h4v29h-4zM42,731h4v103h-4zM46,824h4v65h-4zM50,784h4v97h-4zM54,765h4v54h-4zM58,742h4v15h-4zM70,766h4v34h-4zM74,694h5v37h-5zM74,731h5v19h-5zM79,710h4v21h-4zM79,731h4v69h-4zM83,777h4v28h-4zM87,704h4v27h-4zM87,731h4v30h-4zM91,823h4v21h-4zM95,840h4v8h-4zM99,768h4v31h-4zM103,787h4v20h-4zM107,706h4v25h-4zM107,731h4v69h-4zM111,815h5v64h-5zM116,814h4v24h-4zM120,770h4v27h-4zM124,801h4v54h-4zM128,716h4v15h-4zM128,731h4v26h-4zM132,793h4v33h-4zM136,731h4v32h-4zM140,670h4v61h-4zM140,731h4v9h-4zM144,784h4v48h-4zM148,709h5v22h-5zM148,731h5v5h-5zM153,832h4v33h-4zM157,731h4v79h-4zM161,822h4v39h-4zM165,815h4v37h-4zM173,878h4v5h-4zM177,840h4v10h-4zM185,801h5v38h-5zM190,747h4v66h-4zM194,746h4v109h-4zM198,788h4v51h-4zM202,858h4v11h-4zM206,786h4v80h-4zM210,798h4v20h-4zM214,707h4v24h-4zM214,731h4v58h-4zM218,699h4v32h-4zM218,731h4v3h-4zM222,764h5v40h-5zM227,787h4v77h-4zM235,793h4v23h-4zM239,776h4v34h-4zM243,705h4v26h-4zM243,731h4v35h-4zM247,748h4v16h-4zM251,812h4v50h-4zM255,858h4v20h-4zM272,750h4v47h-4zM276,748h4v64h-4zM284,736h4v37h-4zM288,821h4v7h-4zM292,728h4v3h-4zM292,731h4v37h-4zM296,769h5v85h-5zM301,807h4v27h-4zM305,773h4v55h-4zM309,798h4v36h-4zM313,665h4v66h-4zM313,731h4v14h-4zM317,689h4v42h-4zM317,731h4v6h-4zM321,755h4v58h-4zM325,881h4v5h-4zM329,687h4v28h-4zM342,781h4v36h-4zM346,797h4v8h-4zM354,745h4v48h-4zM358,745h4v48h-4zM362,824h4v17h-4zM375,749h4v63h-4zM379,708h4v23h-4zM379,731h4v33h-4zM387,739h4v36h-4zM391,777h4v28h-4zM395,790h4v56h-4zM399,816h4v26h-4zM413,753h4v78h-4zM417,681h4v50h-4zM417,731h4v41h-4zM421,825h4v32h-4zM425,804h4v56h-4zM433,780h5v18h-5zM442,750h4v28h-4zM450,743h4v3h-4zM454,797h4v10h-4zM458,756h4v7h-4zM462,785h4v13h-4zM470,804h5v19h-5zM487,746h4v8h-4zM491,839h4v41h-4zM495,765h4v31h-4zM503,673h4v40h-4zM507,798h5v13h-5zM512,736h4v57h-4zM528,786h4v57h-4zM536,741h4v14h-4zM540,743h4v23h-4zM549,770h4v14h-4zM557,742h4v8h-4zM561,813h4v8h-4zM565,823h4v11h-4zM581,817h5v11h-5zM586,692h4v32h-4zM598,661h4v70h-4zM598,731h4v12h-4zM602,688h4v6h-4zM606,790h4v8h-4zM610,771h4v40h-4zM614,776h4v31h-4zM618,807h5v4h-5zM627,860h4v18h-4zM635,766h4v9h-4zM639,792h4v16h-4zM647,757h4v71h-4zM651,838h4v28h-4zM668,768h4v103h-4zM672,828h4v7h-4zM680,778h4v22h-4zM688,798h4v23h-4zM697,789h4v50h-4zM709,860h4v2h-4zM713,814h4v4h-4zM721,802h4v25h-4zM725,736h4v3h-4zM729,844h5v4h-5zM738,782h4v40h-4zM742,741h4v12h-4zM746,773h4v4h-4zM750,840h4v9h-4zM754,851h4v29h-4zM758,854h4v13h-4zM770,785h5v12h-5zM775,757h4v40h-4zM779,741h4v30h-4zM791,731h4v62h-4zM799,832h4v18h-4zM807,708h5v20h-5zM812,731h4v28h-4zM816,830h4v7h-4zM824,731h4v48h-4zM828,850h4v42h-4zM832,743h4v14h-4zM844,731h5v28h-5zM853,750h4v55h-4zM857,671h4v38h-4zM861,731h4v9h-4zM865,750h4v23h-4zM869,728h4v3h-4zM869,731h4v55h-4zM873,731h4v7h-4zM877,834h4v11h-4zM890,805h4v68h-4z" fill="#F2EB4D" shape-rendering="crispEdges"/>
<path d="M38,859h4v80h-4zM46,889h4v43h-4zM50,881h4v23h-4zM54,819h4v77h-4zM58,757h4v38h-4zM62,755h4v109h-4zM66,822h4v54h-4zM70,800h4v65h-4zM74,750h5v10h-5zM87,761h4v53h-4zM91,844h4v29h-4zM95,848h4v67h-4zM99,799h4v56h-4zM103,807h4v27h-4zM111,879h5v54h-5zM116,838h4v54h-4zM120,797h4v35h-4zM124,855h4v26h-4zM132,826h4v84h-4zM136,763h4v110h-4zM144,832h4v61h-4zM148,736h5v11h-5zM161,861h4v38h-4zM169,752h4v110h-4zM177,850h4v42h-4zM181,833h4v82h-4zM185,839h5v95h-5zM190,813h4v35h-4zM194,855h4v33h-4zM198,839h4v77h-4zM202,869h4v73h-4zM206,866h4v48h-4zM210,818h4v47h-4zM218,734h4v31h-4zM227,864h4v22h-4zM231,892h4v59h-4zM239,810h4v95h-4zM247,764h4v81h-4zM255,878h4v65h-4zM259,855h5v72h-5zM268,816h4v101h-4zM280,827h4v77h-4zM284,773h4v40h-4zM288,828h4v91h-4zM296,854h5v35h-5zM301,834h4v5h-4zM305,828h4v43h-4zM309,834h4v30h-4zM317,737h4v51h-4zM321,813h4v3h-4zM325,807h4v74h-4zM329,715h4v16h-4zM329,731h4v16h-4zM333,795h5v89h-5zM338,862h4v64h-4zM342,817h4v38h-4zM346,805h4v96h-4zM350,777h4v74h-4zM354,793h4v41h-4zM362,841h4v60h-4zM366,821h4v122h-4zM370,817h5v74h-5zM379,764h4v41h-4zM383,878h4v76h-4zM387,775h4v110h-4zM391,805h4v103h-4zM395,846h4v49h-4zM399,842h4v37h-4zM403,893h4v41h-4zM421,857h4v48h-4zM425,860h4v56h-4zM429,841h4v77h-4zM433,798h5v34h-5zM438,795h4v53h-4zM442,778h4v55h-4zM446,747h4v44h-4zM450,746h4v77h-4zM454,807h4v26h-4zM458,763h4v89h-4zM462,798h4v38h-4zM466,743h4v46h-4zM470,823h5v82h-5zM475,856h4v63h-4zM479,771h4v120h-4zM483,807h4v98h-4zM487,754h4v131h-4zM491,880h4v12h-4zM495,796h4v51h-4zM499,766h4v83h-4zM503,713h4v18h-4zM503,731h4v35h-4zM507,811h5v41h-5zM512,793h4v77h-4zM516,770h4v85h-4zM520,776h4v94h-4zM524,748h4v136h-4zM528,843h4v41h-4zM532,760h4v67h-4zM536,755h4v96h-4zM540,766h4v106h-4zM544,768h5v117h-5zM549,784h4v112h-4zM553,866h4v39h-4zM557,750h4v73h-4zM561,821h4v56h-4zM565,834h4v106h-4zM569,777h4v110h-4zM573,776h4v95h-4zM577,793h4v87h-4zM581,828h5v68h-5zM586,724h4v7h-4zM586,731h4v18h-4zM590,769h4v109h-4zM594,793h4v80h-4zM602,694h4v37h-4zM602,731h4v38h-4zM606,798h4v8h-4zM614,807h4v46h-4zM618,811h5v67h-5zM623,793h4v80h-4zM627,878h4v20h-4zM631,886h4v39h-4zM635,775h4v84h-4zM639,808h4v53h-4zM643,800h4v127h-4zM647,828h4v44h-4zM651,866h4v47h-4zM655,841h5v113h-5zM660,851h4v54h-4zM664,850h4v70h-4zM672,835h4v50h-4zM676,766h4v68h-4zM680,800h4v18h-4zM684,878h4v66h-4zM688,821h4v66h-4zM692,860h5v59h-5zM697,839h4v28h-4zM701,846h4v53h-4zM705,855h4v67h-4zM709,862h4v68h-4zM713,818h4v76h-4zM717,793h4v100h-4zM721,827h4v42h-4zM725,739h4v84h-4zM729,848h5v73h-5zM734,764h4v43h-4zM738,822h4v5h-4zM742,753h4v100h-4zM746,777h4v38h-4zM750,849h4v21h-4zM754,880h4v64h-4zM758,867h4v38h-4zM762,836h4v88h-4zM766,776h4v45h-4zM770,797h5v66h-5zM775,797h4v51h-4zM779,771h4v49h-4zM783,763h4v60h-4zM795,874h4v80h-4zM799,850h4v27h-4zM803,774h4v112h-4zM807,728h5v3h-5zM807,731h5v170h-5zM812,759h4v58h-4zM816,837h4v48h-4zM820,737h4v45h-4zM824,779h4v58h-4zM828,892h4v52h-4zM832,757h4v53h-4zM836,754h4v85h-4zM840,770h4v92h-4zM844,759h5v105h-5zM849,879h4v75h-4zM853,805h4v5h-4zM857,709h4v13h-4zM861,740h4v138h-4zM865,773h4v98h-4zM869,786h4v83h-4zM877,845h4v49h-4zM881,752h5v117h-5zM886,825h4v98h-4zM890,873h4v28h-4z" fill="#CDB539" shape-rendering="crispEdges"/>
<path d="M532,827h4v30h-4zM873,790h4v60h-4z" fill="#A67B28" shape-rendering="crispEdges"/>
<path d="M38,939h4v12h-4zM42,834h4v87h-4zM50,904h4v15h-4zM54,896h4v22h-4zM58,795h4v117h-4zM62,864h4v41h-4zM66,876h4v55h-4zM70,865h4v42h-4zM74,760h5v158h-5zM79,800h4v98h-4zM83,805h4v99h-4zM87,814h4v71h-4zM91,873h4v49h-4zM95,915h4v16h-4zM99,855h4v57h-4zM103,834h4v65h-4zM107,800h4v128h-4zM116,892h4v23h-4zM120,832h4v79h-4zM124,881h4v59h-4zM128,764h4v123h-4zM132,910h4v24h-4zM136,873h4v70h-4zM140,740h4v163h-4zM144,893h4v18h-4zM148,747h5v142h-5zM153,865h4v67h-4zM157,810h4v115h-4zM161,899h4v33h-4zM165,852h4v39h-4zM169,862h4v42h-4zM173,883h4v34h-4zM177,892h4v34h-4zM181,915h4v19h-4zM185,934h5v17h-5zM190,848h4v71h-4zM194,888h4v27h-4zM198,916h4v22h-4zM206,914h4v31h-4zM210,865h4v44h-4zM214,789h4v132h-4zM218,765h4v140h-4zM222,804h5v108h-5zM227,886h4v52h-4zM235,816h4v89h-4zM239,905h4v26h-4zM243,766h4v112h-4zM247,845h4v56h-4zM251,862h4v74h-4zM255,943h4v4h-4zM259,927h5v12h-5zM264,821h4v76h-4zM272,797h4v114h-4zM276,812h4v92h-4zM280,904h4v11h-4zM284,813h4v83h-4zM288,919h4v12h-4zM292,768h4v132h-4zM296,889h5v50h-5zM301,839h4v69h-4zM305,871h4v40h-4zM309,864h4v40h-4zM313,745h4v175h-4zM317,788h4v97h-4zM321,816h4v76h-4zM325,886h4v38h-4zM329,747h4v136h-4zM333,884h5v16h-5zM342,855h4v81h-4zM346,901h4v21h-4zM350,851h4v31h-4zM354,834h4v60h-4zM358,793h4v87h-4zM362,901h4v43h-4zM366,943h4v13h-4zM370,891h5v40h-5zM375,812h4v105h-4zM379,805h4v84h-4zM387,885h4v65h-4zM391,908h4v23h-4zM395,895h4v30h-4zM399,879h4v13h-4zM403,934h4v12h-4zM413,831h4v80h-4zM417,772h4v168h-4zM421,905h4v35h-4zM425,916h4v32h-4zM433,832h5v61h-5zM438,848h4v70h-4zM442,833h4v74h-4zM446,791h4v121h-4zM450,823h4v79h-4zM454,833h4v58h-4zM458,852h4v74h-4zM462,836h4v86h-4zM466,789h4v105h-4zM470,905h5v46h-5zM475,919h4v12h-4zM479,891h4v35h-4zM487,885h4v57h-4zM491,892h4v42h-4zM495,847h4v52h-4zM499,849h4v65h-4zM503,766h4v161h-4zM507,852h5v73h-5zM512,870h4v45h-4zM516,855h4v44h-4zM520,870h4v53h-4zM524,884h4v53h-4zM528,884h4v42h-4zM532,857h4v43h-4zM536,851h4v84h-4zM540,872h4v29h-4zM544,885h5v41h-5zM549,896h4v41h-4zM553,905h4v24h-4zM557,823h4v107h-4zM561,877h4v35h-4zM565,940h4v7h-4zM569,887h4v40h-4zM577,880h4v38h-4zM581,896h5v44h-5zM586,749h4v175h-4zM590,878h4v46h-4zM594,873h4v48h-4zM598,743h4v192h-4zM602,769h4v120h-4zM606,806h4v105h-4zM610,811h4v86h-4zM614,853h4v43h-4zM618,878h5v37h-5zM623,873h4v31h-4zM627,898h4v42h-4zM631,925h4v7h-4zM635,859h4v65h-4zM639,861h4v63h-4zM643,927h4v20h-4zM647,872h4v40h-4zM651,913h4v27h-4zM664,920h4v1h-4zM668,871h4v83h-4zM672,885h4v29h-4zM676,834h4v67h-4zM680,818h4v65h-4zM684,944h4v6h-4zM688,887h4v28h-4zM697,867h4v41h-4zM701,899h4v11h-4zM709,930h4v16h-4zM713,894h4v32h-4zM717,893h4v16h-4zM721,869h4v30h-4zM725,823h4v61h-4zM729,921h5v10h-5zM734,807h4v62h-4zM738,827h4v81h-4zM742,853h4v66h-4zM746,815h4v79h-4zM750,870h4v31h-4zM754,944h4v12h-4zM762,924h4v16h-4zM766,821h4v63h-4zM770,863h5v47h-5zM775,848h4v41h-4zM779,820h4v59h-4zM783,823h4v69h-4zM787,887h4v20h-4zM791,793h4v113h-4zM799,877h4v38h-4zM803,886h4v33h-4zM807,901h5v29h-5zM812,817h4v72h-4zM816,885h4v26h-4zM820,782h4v135h-4zM824,837h4v55h-4zM828,944h4v4h-4zM832,810h4v81h-4zM836,839h4v71h-4zM840,862h4v68h-4zM844,864h5v59h-5zM853,810h4v95h-4zM857,722h4v9h-4zM857,731h4v170h-4zM861,878h4v27h-4zM865,871h4v56h-4zM869,869h4v59h-4zM873,850h4v51h-4zM877,894h4v60h-4zM881,869h5v39h-5zM886,923h4v17h-4zM890,901h4v53h-4z" fill="#80401F" shape-rendering="crispEdges"/>
<path d="M46,932h4v7h-4zM50,919h4v34h-4zM54,918h4v13h-4zM58,912h4v13h-4zM66,931h4v13h-4zM70,907h4v8h-4zM74,918h5v8h-5zM79,898h4v21h-4zM83,904h4v24h-4zM87,885h4v20h-4zM91,922h4v28h-4zM95,931h4v16h-4zM99,912h4v7h-4zM103,899h4v29h-4zM107,928h4v10h-4zM111,933h5v16h-5zM116,915h4v29h-4zM124,940h4v10h-4zM128,887h4v23h-4zM132,934h4v8h-4zM140,903h4v29h-4zM144,911h4v13h-4zM148,889h5v18h-5zM153,932h4v12h-4zM161,932h4v6h-4zM165,891h4v34h-4zM169,904h4v8h-4zM173,917h4v21h-4zM177,926h4v14h-4zM190,919h4v21h-4zM194,915h4v13h-4zM202,942h4v5h-4zM206,945h4v8h-4zM210,909h4v8h-4zM214,921h4v10h-4zM218,905h4v24h-4zM222,912h5v14h-5zM235,905h4v5h-4zM239,931h4v5h-4zM243,878h4v28h-4zM247,901h4v20h-4zM251,936h4v4h-4zM264,897h4v22h-4zM268,917h4v7h-4zM272,911h4v13h-4zM280,915h4v20h-4zM284,896h4v13h-4zM288,931h4v8h-4zM296,939h5v8h-5zM301,908h4v13h-4zM305,911h4v42h-4zM309,904h4v31h-4zM313,920h4v11h-4zM317,885h4v61h-4zM321,892h4v25h-4zM325,924h4v4h-4zM329,883h4v9h-4zM342,936h4v8h-4zM346,922h4v3h-4zM350,882h4v19h-4zM354,894h4v48h-4zM358,880h4v39h-4zM362,944h4v9h-4zM375,917h4v15h-4zM379,889h4v37h-4zM391,931h4v9h-4zM395,925h4v28h-4zM399,892h4v26h-4zM413,911h4v8h-4zM417,940h4v7h-4zM421,940h4v7h-4zM429,918h4v8h-4zM433,893h5v12h-5zM438,918h4v3h-4zM442,907h4v18h-4zM450,902h4v17h-4zM454,891h4v4h-4zM458,926h4v7h-4zM462,922h4v13h-4zM466,894h4v16h-4zM483,905h4v13h-4zM495,899h4v6h-4zM503,927h4v4h-4zM516,899h4v10h-4zM520,923h4v3h-4zM528,926h4v23h-4zM536,935h4v4h-4zM540,901h4v31h-4zM557,930h4v9h-4zM573,871h4v21h-4zM577,918h4v6h-4zM586,924h4v7h-4zM598,935h4v8h-4zM602,889h4v8h-4zM606,911h4v10h-4zM610,897h4v21h-4zM614,896h4v16h-4zM623,904h4v5h-4zM631,932h4v11h-4zM635,924h4v8h-4zM639,924h4v15h-4zM643,947h4v6h-4zM647,912h4v14h-4zM672,914h4v12h-4zM676,901h4v11h-4zM680,883h4v13h-4zM692,919h5v10h-5zM697,908h4v10h-4zM701,910h4v26h-4zM705,922h4v9h-4zM717,909h4v6h-4zM721,899h4v13h-4zM725,884h4v13h-4zM729,931h5v4h-5zM734,869h4v12h-4zM738,908h4v6h-4zM746,894h4v14h-4zM758,905h4v10h-4zM766,884h4v32h-4zM770,910h5v4h-5zM775,889h4v19h-4zM779,879h4v13h-4zM783,892h4v2h-4zM787,907h4v22h-4zM791,906h4v6h-4zM799,915h4v3h-4zM812,889h4v19h-4zM816,911h4v8h-4zM820,917h4v25h-4zM824,892h4v27h-4zM832,891h4v35h-4zM836,910h4v3h-4zM853,905h4v6h-4zM857,901h4v20h-4zM861,905h4v10h-4z" fill="#A34E48" shape-rendering="crispEdges"/>
<path d="M38,951h4v5h-4zM42,921h4v35h-4zM46,939h4v17h-4zM50,953h4v3h-4zM54,931h4v25h-4zM58,925h4v31h-4zM62,905h4v51h-4zM66,944h4v12h-4zM70,915h4v41h-4zM74,926h5v30h-5zM79,919h4v37h-4zM83,928h4v28h-4zM87,905h4v51h-4zM91,950h4v6h-4zM95,947h4v9h-4zM99,919h4v37h-4zM103,928h4v28h-4zM107,938h4v18h-4zM111,949h5v7h-5zM116,944h4v12h-4zM120,911h4v45h-4zM124,950h4v6h-4zM128,910h4v46h-4zM132,942h4v14h-4zM136,943h4v13h-4zM140,932h4v24h-4zM144,924h4v32h-4zM148,907h5v49h-5zM153,944h4v12h-4zM157,925h4v31h-4zM161,938h4v18h-4zM165,925h4v31h-4zM169,912h4v44h-4zM173,938h4v18h-4zM177,940h4v16h-4zM181,934h4v22h-4zM185,951h5v5h-5zM190,940h4v16h-4zM194,928h4v28h-4zM198,938h4v18h-4zM202,947h4v9h-4zM206,953h4v3h-4zM210,917h4v39h-4zM214,931h4v25h-4zM218,929h4v27h-4zM222,926h5v30h-5zM227,938h4v18h-4zM231,951h4v5h-4zM235,910h4v46h-4zM239,936h4v20h-4zM243,906h4v50h-4zM247,921h4v35h-4zM251,940h4v16h-4zM255,947h4v9h-4zM259,939h5v17h-5zM264,919h4v37h-4zM268,924h4v32h-4zM272,924h4v32h-4zM276,904h4v52h-4zM280,935h4v21h-4zM284,909h4v47h-4zM288,939h4v17h-4zM292,900h4v56h-4zM296,947h5v9h-5zM301,921h4v35h-4zM305,953h4v3h-4zM309,935h4v21h-4zM313,931h4v25h-4zM317,946h4v10h-4zM321,917h4v39h-4zM325,928h4v28h-4zM329,892h4v64h-4zM333,900h5v56h-5zM338,926h4v30h-4zM342,944h4v12h-4zM346,925h4v31h-4zM350,901h4v55h-4zM354,942h4v14h-4zM358,919h4v37h-4zM362,953h4v3h-4zM370,931h5v25h-5zM375,932h4v24h-4zM379,926h4v30h-4zM383,954h4v2h-4zM387,950h4v6h-4zM391,940h4v16h-4zM395,953h4v3h-4zM399,918h4v38h-4zM403,946h4v10h-4zM413,919h4v37h-4zM417,947h4v9h-4zM421,947h4v9h-4zM425,948h4v8h-4zM429,926h4v30h-4zM433,905h5v51h-5zM438,921h4v35h-4zM442,925h4v31h-4zM446,912h4v44h-4zM450,919h4v37h-4zM454,895h4v61h-4zM458,933h4v23h-4zM462,935h4v21h-4zM466,910h4v46h-4zM470,951h5v5h-5zM475,931h4v25h-4zM479,926h4v30h-4zM483,918h4v38h-4zM487,942h4v14h-4zM491,934h4v22h-4zM495,905h4v51h-4zM499,914h4v42h-4zM503,931h4v25h-4zM507,925h5v31h-5zM512,915h4v41h-4zM516,909h4v47h-4zM520,926h4v30h-4zM524,937h4v19h-4zM528,949h4v7h-4zM532,900h4v56h-4zM536,939h4v17h-4zM540,932h4v24h-4zM544,926h5v30h-5zM549,937h4v19h-4zM553,929h4v27h-4zM557,939h4v17h-4zM561,912h4v44h-4zM565,947h4v9h-4zM569,927h4v29h-4zM573,892h4v64h-4zM577,924h4v32h-4zM581,940h5v16h-5zM586,931h4v25h-4zM590,924h4v32h-4zM594,921h4v35h-4zM598,943h4v13h-4zM602,897h4v59h-4zM606,921h4v35h-4zM610,918h4v38h-4zM614,912h4v44h-4zM618,915h5v41h-5zM623,909h4v47h-4zM627,940h4v16h-4zM631,943h4v13h-4zM635,932h4v24h-4zM639,939h4v17h-4zM643,953h4v3h-4zM647,926h4v30h-4zM651,940h4v12h-4zM651,952h4v4h-4zM655,954h5v2h-5zM660,905h4v51h-4zM664,921h4v35h-4zM668,954h4v2h-4zM672,926h4v30h-4zM676,912h4v44h-4zM680,896h4v60h-4zM684,950h4v6h-4zM688,915h4v41h-4zM692,929h5v27h-5zM697,918h4v38h-4zM701,936h4v20h-4zM705,931h4v25h-4zM709,946h4v10h-4zM713,926h4v30h-4zM717,915h4v41h-4zM721,912h4v44h-4zM725,897h4v59h-4zM729,935h5v21h-5zM734,881h4v75h-4zM738,914h4v42h-4zM742,919h4v37h-4zM746,908h4v48h-4zM750,901h4v55h-4zM758,915h4v41h-4zM762,940h4v16h-4zM766,916h4v40h-4zM770,914h5v42h-5zM775,908h4v48h-4zM779,892h4v64h-4zM783,894h4v62h-4zM787,929h4v27h-4zM791,912h4v44h-4zM795,954h4v2h-4zM799,918h4v38h-4zM803,919h4v37h-4zM807,930h5v26h-5zM812,908h4v48h-4zM816,919h4v37h-4zM820,942h4v14h-4zM824,919h4v37h-4zM828,948h4v8h-4zM832,926h4v30h-4zM836,913h4v43h-4zM840,930h4v26h-4zM844,923h5v33h-5zM849,954h4v2h-4zM853,911h4v45h-4zM857,921h4v35h-4zM861,915h4v41h-4zM865,927h4v29h-4zM869,928h4v28h-4zM873,901h4v55h-4zM877,954h4v2h-4zM881,908h5v48h-5zM886,940h4v16h-4zM890,954h4v2h-4z" fill="#CB6BA5" shape-rendering="crispEdges"/>
<path d="M45.72,507.1V956.3M49.83,507.1V956.3M53.94,507.1V956.3M66.27,507.1V956.3M70.38,507.1V956.3M74.49,507.1V956.3M86.82,507.1V956.3M90.93,507.1V956.3M103.26,507.1V956.3M107.37,507.1V956.3M111.48,507.1V956.3M123.81,507.1V956.3M127.92,507.1V956.3M132.03,507.1V956.3M144.36,507.1V956.3M148.47,507.1V956.3M152.58,507.1V956.3M156.69,507.1V956.3M169.02,507.1V956.3M173.13,507.1V956.3M185.46,507.1V956.3M189.57,507.1V956.3M193.68,507.1V956.3M197.79,507.1V956.3M210.12,507.1V956.3M214.23,507.1V956.3M230.67,507.1V956.3M234.78,507.1V956.3M251.22,507.1V956.3M255.33,507.1V956.3M259.44,507.1V956.3M271.77,507.1V956.3M275.88,507.1V956.3M279.99,507.1V956.3M288.21,507.1V956.3M292.32,507.1V956.3M296.43,507.1V956.3M300.54,507.1V956.3M312.87,507.1V956.3M316.98,507.1V956.3M329.31,507.1V956.3M333.42,507.1V956.3M337.53,507.1V956.3M353.97,507.1V956.3M358.08,507.1V956.3M374.52,507.1V956.3M378.63,507.1V956.3M382.74,507.1V956.3M390.96,507.1V956.3M395.07,507.1V956.3M399.18,507.1V956.3M403.29,507.1V956.3M421.12,507.1V956.3M425.23,507.1V956.3M441.67,507.1V956.3M445.78,507.1V956.3M462.22,507.1V956.3M466.33,507.1V956.3M470.44,507.1V956.3M482.77,507.1V956.3M486.88,507.1V956.3M499.22,507.1V956.3M503.33,507.1V956.3M507.44,507.1V956.3M523.88,507.1V956.3M527.99,507.1V956.3M544.43,507.1V956.3M548.54,507.1V956.3M552.65,507.1V956.3M564.98,507.1V956.3M569.09,507.1V956.3M573.2,507.1V956.3M585.53,507.1V956.3M589.64,507.1V956.3M601.97,507.1V956.3M606.08,507.1V956.3M610.19,507.1V956.3M622.52,507.1V956.3M626.63,507.1V956.3M630.74,507.1V956.3M647.18,507.1V956.3M651.29,507.1V956.3M667.74,507.1V956.3M671.85,507.1V956.3M688.29,507.1V956.3M692.4,507.1V956.3M708.84,507.1V956.3M712.95,507.1V956.3M729.39,507.1V956.3M733.5,507.1V956.3M749.94,507.1V956.3M754.05,507.1V956.3M766.38,507.1V956.3M770.49,507.1V956.3M774.6,507.1V956.3M791.04,507.1V956.3M795.15,507.1V956.3M811.59,507.1V956.3M815.71,507.1V956.3M819.82,507.1V956.3M832.15,507.1V956.3M836.26,507.1V956.3M848.59,507.1V956.3M852.7,507.1V956.3M856.81,507.1V956.3M869.14,507.1V956.3M873.25,507.1V956.3M877.36,507.1V956.3M881.47,507.1V956.3M889.69,507.1V956.3" fill="none" stroke="#fff" stroke-width="0.6" stroke-opacity="0.33"/>
<rect x="37.5" y="489.4" width="369.9" height="17.7" fill="#D7D7D7" stroke="#555" stroke-width="0.7"/>
<rect x="37.5" y="507.1" width="369.9" height="449.2" fill="none" stroke="#222" stroke-width="0.9"/>
<line x1="37.1" y1="507.1" x2="407.8" y2="507.1" stroke="#111" stroke-width="1.2"/>
<text x="222.45" y="501.4" font-size="9.4" class="se" text-anchor="middle" fill="#1a1a1a">Low risk</text>
<rect x="412.9" y="489.4" width="480.9" height="17.7" fill="#D7D7D7" stroke="#555" stroke-width="0.7"/>
<rect x="412.9" y="507.1" width="480.9" height="449.2" fill="none" stroke="#222" stroke-width="0.9"/>
<line x1="412.5" y1="507.1" x2="894.2" y2="507.1" stroke="#111" stroke-width="1.2"/>
<text x="653.35" y="501.4" font-size="9.4" class="se" text-anchor="middle" fill="#1a1a1a">High risk</text>
<line x1="34.2" y1="507.1" x2="37.5" y2="507.1" stroke="#111" stroke-width="1.1"/>
<text x="32.3" y="510.4" font-size="9.8" class="se" text-anchor="end" fill="#262626">1.00</text>
<line x1="34.2" y1="619.4" x2="37.5" y2="619.4" stroke="#111" stroke-width="1.1"/>
<text x="32.3" y="622.7" font-size="9.8" class="se" text-anchor="end" fill="#262626">0.75</text>
<line x1="34.2" y1="731.7" x2="37.5" y2="731.7" stroke="#111" stroke-width="1.1"/>
<text x="32.3" y="735" font-size="9.8" class="se" text-anchor="end" fill="#262626">0.50</text>
<line x1="34.2" y1="844" x2="37.5" y2="844" stroke="#111" stroke-width="1.1"/>
<text x="32.3" y="847.3" font-size="9.8" class="se" text-anchor="end" fill="#262626">0.25</text>
<line x1="34.2" y1="956.3" x2="37.5" y2="956.3" stroke="#111" stroke-width="1.1"/>
<text x="32.3" y="959.6" font-size="9.8" class="se" text-anchor="end" fill="#262626">0.00</text>
<text x="10.8" y="732" font-size="11.7" class="se" text-anchor="middle" transform="rotate(-90 10.8 732)">Relative Percent</text>
<text x="17.6" y="1094.1" font-size="28" class="se">C</text>
<rect x="102" y="1344.1" width="14" height="1.2" fill="#B4AFD7" stroke="#1a1a1a" stroke-width="1.5"/>
<line x1="109" y1="1344.16" x2="109" y2="1345.3" stroke="#1a1a1a" stroke-width="1.3"/>
<line x1="106.7" y1="1344.16" x2="111.3" y2="1344.16" stroke="#1a1a1a" stroke-width="1.3"/>
<line x1="106.7" y1="1345.3" x2="111.3" y2="1345.3" stroke="#1a1a1a" stroke-width="1.3"/>
<line x1="102" y1="1345.3" x2="116" y2="1345.3" stroke="#111" stroke-width="2.7"/>
<rect x="119.2" y="1334.4" width="14" height="10.9" fill="#F8E3AC" stroke="#1a1a1a" stroke-width="1.5"/>
<line x1="126.2" y1="1319.39" x2="126.2" y2="1345.3" stroke="#1a1a1a" stroke-width="1.3"/>
<line x1="123.9" y1="1319.39" x2="128.5" y2="1319.39" stroke="#1a1a1a" stroke-width="1.3"/>
<line x1="123.9" y1="1345.3" x2="128.5" y2="1345.3" stroke="#1a1a1a" stroke-width="1.3"/>
<line x1="119.2" y1="1344.92" x2="133.2" y2="1344.92" stroke="#111" stroke-width="2.7"/>
<rect x="140.15" y="1320.76" width="14" height="21.03" fill="#B4AFD7" stroke="#1a1a1a" stroke-width="1.5"/>
<line x1="147.15" y1="1296.15" x2="147.15" y2="1345.3" stroke="#1a1a1a" stroke-width="1.3"/>
<line x1="144.84" y1="1296.15" x2="149.45" y2="1296.15" stroke="#1a1a1a" stroke-width="1.3"/>
<line x1="144.84" y1="1345.3" x2="149.45" y2="1345.3" stroke="#1a1a1a" stroke-width="1.3"/>
<line x1="140.15" y1="1329.79" x2="154.15" y2="1329.79" stroke="#111" stroke-width="2.7"/>
<rect x="157.34" y="1314.67" width="14" height="22.14" fill="#F8E3AC" stroke="#1a1a1a" stroke-width="1.5"/>
<line x1="164.34" y1="1286.44" x2="164.34" y2="1345.3" stroke="#1a1a1a" stroke-width="1.3"/>
<line x1="162.04" y1="1286.44" x2="166.65" y2="1286.44" stroke="#1a1a1a" stroke-width="1.3"/>
<line x1="162.04" y1="1345.3" x2="166.65" y2="1345.3" stroke="#1a1a1a" stroke-width="1.3"/>
<line x1="157.34" y1="1328.54" x2="171.34" y2="1328.54" stroke="#111" stroke-width="2.7"/>
<rect x="178.29" y="1340.5" width="14" height="4.8" fill="#B4AFD7" stroke="#1a1a1a" stroke-width="1.5"/>
<line x1="185.29" y1="1333.11" x2="185.29" y2="1345.3" stroke="#1a1a1a" stroke-width="1.3"/>
<line x1="182.99" y1="1333.11" x2="187.59" y2="1333.11" stroke="#1a1a1a" stroke-width="1.3"/>
<line x1="182.99" y1="1345.3" x2="187.59" y2="1345.3" stroke="#1a1a1a" stroke-width="1.3"/>
<line x1="178.29" y1="1344.92" x2="192.29" y2="1344.92" stroke="#111" stroke-width="2.7"/>
<rect x="195.49" y="1337.18" width="14" height="8.12" fill="#F8E3AC" stroke="#1a1a1a" stroke-width="1.5"/>
<line x1="202.49" y1="1325.11" x2="202.49" y2="1345.3" stroke="#1a1a1a" stroke-width="1.3"/>
<line x1="200.19" y1="1325.11" x2="204.79" y2="1325.11" stroke="#1a1a1a" stroke-width="1.3"/>
<line x1="200.19" y1="1345.3" x2="204.79" y2="1345.3" stroke="#1a1a1a" stroke-width="1.3"/>
<line x1="195.49" y1="1343.78" x2="209.49" y2="1343.78" stroke="#111" stroke-width="2.7"/>
<rect x="216.44" y="1336.99" width="14" height="8.31" fill="#B4AFD7" stroke="#1a1a1a" stroke-width="1.5"/>
<line x1="223.44" y1="1325.87" x2="223.44" y2="1345.3" stroke="#1a1a1a" stroke-width="1.3"/>
<line x1="221.13" y1="1325.87" x2="225.74" y2="1325.87" stroke="#1a1a1a" stroke-width="1.3"/>
<line x1="221.13" y1="1345.3" x2="225.74" y2="1345.3" stroke="#1a1a1a" stroke-width="1.3"/>
<line x1="216.44" y1="1341.99" x2="230.44" y2="1341.99" stroke="#111" stroke-width="2.7"/>
<rect x="233.63" y="1329.79" width="14" height="14.36" fill="#F8E3AC" stroke="#1a1a1a" stroke-width="1.5"/>
<line x1="240.63" y1="1312.46" x2="240.63" y2="1345.3" stroke="#1a1a1a" stroke-width="1.3"/>
<line x1="238.33" y1="1312.46" x2="242.94" y2="1312.46" stroke="#1a1a1a" stroke-width="1.3"/>
<line x1="238.33" y1="1345.3" x2="242.94" y2="1345.3" stroke="#1a1a1a" stroke-width="1.3"/>
<line x1="233.63" y1="1337.72" x2="247.63" y2="1337.72" stroke="#111" stroke-width="2.7"/>
<rect x="254.58" y="1344.1" width="14" height="1.2" fill="#B4AFD7" stroke="#1a1a1a" stroke-width="1.5"/>
<line x1="261.58" y1="1344.54" x2="261.58" y2="1345.3" stroke="#1a1a1a" stroke-width="1.3"/>
<line x1="259.28" y1="1344.54" x2="263.88" y2="1344.54" stroke="#1a1a1a" stroke-width="1.3"/>
<line x1="259.28" y1="1345.3" x2="263.88" y2="1345.3" stroke="#1a1a1a" stroke-width="1.3"/>
<line x1="254.58" y1="1345.3" x2="268.58" y2="1345.3" stroke="#111" stroke-width="2.7"/>
<rect x="271.78" y="1344.1" width="14" height="1.2" fill="#F8E3AC" stroke="#1a1a1a" stroke-width="1.5"/>
<line x1="278.78" y1="1344.54" x2="278.78" y2="1345.3" stroke="#1a1a1a" stroke-width="1.3"/>
<line x1="276.48" y1="1344.54" x2="281.08" y2="1344.54" stroke="#1a1a1a" stroke-width="1.3"/>
<line x1="276.48" y1="1345.3" x2="281.08" y2="1345.3" stroke="#1a1a1a" stroke-width="1.3"/>
<line x1="271.78" y1="1345.3" x2="285.78" y2="1345.3" stroke="#111" stroke-width="2.7"/>
<rect x="292.73" y="1258.74" width="14" height="63.06" fill="#B4AFD7" stroke="#1a1a1a" stroke-width="1.5"/>
<line x1="299.73" y1="1195.38" x2="299.73" y2="1345.3" stroke="#1a1a1a" stroke-width="1.3"/>
<line x1="297.43" y1="1195.38" x2="302.03" y2="1195.38" stroke="#1a1a1a" stroke-width="1.3"/>
<line x1="297.43" y1="1345.3" x2="302.03" y2="1345.3" stroke="#1a1a1a" stroke-width="1.3"/>
<line x1="292.73" y1="1297.64" x2="306.73" y2="1297.64" stroke="#111" stroke-width="2.7"/>
<rect x="309.93" y="1281.03" width="14" height="50.29" fill="#F8E3AC" stroke="#1a1a1a" stroke-width="1.5"/>
<line x1="316.93" y1="1213.09" x2="316.93" y2="1345.3" stroke="#1a1a1a" stroke-width="1.3"/>
<line x1="314.63" y1="1213.09" x2="319.23" y2="1213.09" stroke="#1a1a1a" stroke-width="1.3"/>
<line x1="314.63" y1="1345.3" x2="319.23" y2="1345.3" stroke="#1a1a1a" stroke-width="1.3"/>
<line x1="309.93" y1="1318.4" x2="323.93" y2="1318.4" stroke="#111" stroke-width="2.7"/>
<rect x="330.87" y="1299.77" width="14" height="25.07" fill="#B4AFD7" stroke="#1a1a1a" stroke-width="1.5"/>
<line x1="337.87" y1="1266.05" x2="337.87" y2="1345.3" stroke="#1a1a1a" stroke-width="1.3"/>
<line x1="335.57" y1="1266.05" x2="340.17" y2="1266.05" stroke="#1a1a1a" stroke-width="1.3"/>
<line x1="335.57" y1="1345.3" x2="340.17" y2="1345.3" stroke="#1a1a1a" stroke-width="1.3"/>
<line x1="330.87" y1="1313.94" x2="344.87" y2="1313.94" stroke="#111" stroke-width="2.7"/>
<rect x="348.07" y="1309.79" width="14" height="23.81" fill="#F8E3AC" stroke="#1a1a1a" stroke-width="1.5"/>
<line x1="355.07" y1="1278.74" x2="355.07" y2="1345.3" stroke="#1a1a1a" stroke-width="1.3"/>
<line x1="352.77" y1="1278.74" x2="357.37" y2="1278.74" stroke="#1a1a1a" stroke-width="1.3"/>
<line x1="352.77" y1="1345.3" x2="357.37" y2="1345.3" stroke="#1a1a1a" stroke-width="1.3"/>
<line x1="348.07" y1="1322.1" x2="362.07" y2="1322.1" stroke="#111" stroke-width="2.7"/>
<rect x="369.01" y="1286.89" width="14" height="30.29" fill="#B4AFD7" stroke="#1a1a1a" stroke-width="1.5"/>
<line x1="376.01" y1="1246.24" x2="376.01" y2="1335.17" stroke="#1a1a1a" stroke-width="1.3"/>
<line x1="373.71" y1="1246.24" x2="378.31" y2="1246.24" stroke="#1a1a1a" stroke-width="1.3"/>
<line x1="373.71" y1="1335.17" x2="378.31" y2="1335.17" stroke="#1a1a1a" stroke-width="1.3"/>
<line x1="369.01" y1="1301.48" x2="383.01" y2="1301.48" stroke="#111" stroke-width="2.7"/>
<rect x="386.22" y="1286.24" width="14" height="32.38" fill="#F8E3AC" stroke="#1a1a1a" stroke-width="1.5"/>
<line x1="393.22" y1="1241.52" x2="393.22" y2="1344.92" stroke="#1a1a1a" stroke-width="1.3"/>
<line x1="390.92" y1="1241.52" x2="395.52" y2="1241.52" stroke="#1a1a1a" stroke-width="1.3"/>
<line x1="390.92" y1="1344.92" x2="395.52" y2="1344.92" stroke="#1a1a1a" stroke-width="1.3"/>
<line x1="386.22" y1="1302.86" x2="400.22" y2="1302.86" stroke="#111" stroke-width="2.7"/>
<rect x="407.16" y="1336.84" width="14" height="8.46" fill="#B4AFD7" stroke="#1a1a1a" stroke-width="1.5"/>
<line x1="414.16" y1="1324.84" x2="414.16" y2="1345.3" stroke="#1a1a1a" stroke-width="1.3"/>
<line x1="411.86" y1="1324.84" x2="416.46" y2="1324.84" stroke="#1a1a1a" stroke-width="1.3"/>
<line x1="411.86" y1="1345.3" x2="416.46" y2="1345.3" stroke="#1a1a1a" stroke-width="1.3"/>
<line x1="407.16" y1="1345.11" x2="421.16" y2="1345.11" stroke="#111" stroke-width="2.7"/>
<rect x="424.36" y="1335.62" width="14" height="9.68" fill="#F8E3AC" stroke="#1a1a1a" stroke-width="1.5"/>
<line x1="431.36" y1="1322.44" x2="431.36" y2="1345.3" stroke="#1a1a1a" stroke-width="1.3"/>
<line x1="429.06" y1="1322.44" x2="433.66" y2="1322.44" stroke="#1a1a1a" stroke-width="1.3"/>
<line x1="429.06" y1="1345.3" x2="433.66" y2="1345.3" stroke="#1a1a1a" stroke-width="1.3"/>
<line x1="424.36" y1="1345.11" x2="438.36" y2="1345.11" stroke="#111" stroke-width="2.7"/>
<rect x="445.3" y="1331.32" width="14" height="13.98" fill="#B4AFD7" stroke="#1a1a1a" stroke-width="1.5"/>
<line x1="452.3" y1="1311.77" x2="452.3" y2="1345.3" stroke="#1a1a1a" stroke-width="1.3"/>
<line x1="450" y1="1311.77" x2="454.6" y2="1311.77" stroke="#1a1a1a" stroke-width="1.3"/>
<line x1="450" y1="1345.3" x2="454.6" y2="1345.3" stroke="#1a1a1a" stroke-width="1.3"/>
<line x1="445.3" y1="1337.91" x2="459.3" y2="1337.91" stroke="#111" stroke-width="2.7"/>
<rect x="462.5" y="1315.16" width="14" height="30.14" fill="#F8E3AC" stroke="#1a1a1a" stroke-width="1.5"/>
<line x1="469.5" y1="1275.96" x2="469.5" y2="1345.3" stroke="#1a1a1a" stroke-width="1.3"/>
<line x1="467.2" y1="1275.96" x2="471.81" y2="1275.96" stroke="#1a1a1a" stroke-width="1.3"/>
<line x1="467.2" y1="1345.3" x2="471.81" y2="1345.3" stroke="#1a1a1a" stroke-width="1.3"/>
<line x1="462.5" y1="1331.77" x2="476.5" y2="1331.77" stroke="#111" stroke-width="2.7"/>
<rect x="483.45" y="1344.1" width="14" height="1.2" fill="#B4AFD7" stroke="#1a1a1a" stroke-width="1.5"/>
<line x1="490.45" y1="1343.39" x2="490.45" y2="1345.3" stroke="#1a1a1a" stroke-width="1.3"/>
<line x1="488.15" y1="1343.39" x2="492.75" y2="1343.39" stroke="#1a1a1a" stroke-width="1.3"/>
<line x1="488.15" y1="1345.3" x2="492.75" y2="1345.3" stroke="#1a1a1a" stroke-width="1.3"/>
<line x1="483.45" y1="1345.3" x2="497.45" y2="1345.3" stroke="#111" stroke-width="2.7"/>
<rect x="500.65" y="1340.69" width="14" height="4.61" fill="#F8E3AC" stroke="#1a1a1a" stroke-width="1.5"/>
<line x1="507.65" y1="1335.62" x2="507.65" y2="1345.3" stroke="#1a1a1a" stroke-width="1.3"/>
<line x1="505.35" y1="1335.62" x2="509.95" y2="1335.62" stroke="#1a1a1a" stroke-width="1.3"/>
<line x1="505.35" y1="1345.3" x2="509.95" y2="1345.3" stroke="#1a1a1a" stroke-width="1.3"/>
<line x1="500.65" y1="1344.16" x2="514.65" y2="1344.16" stroke="#111" stroke-width="2.7"/>
<rect x="521.6" y="1339.01" width="14" height="6.29" fill="#B4AFD7" stroke="#1a1a1a" stroke-width="1.5"/>
<line x1="528.6" y1="1331.01" x2="528.6" y2="1345.3" stroke="#1a1a1a" stroke-width="1.3"/>
<line x1="526.3" y1="1331.01" x2="530.89" y2="1331.01" stroke="#1a1a1a" stroke-width="1.3"/>
<line x1="526.3" y1="1345.3" x2="530.89" y2="1345.3" stroke="#1a1a1a" stroke-width="1.3"/>
<line x1="521.6" y1="1344.16" x2="535.6" y2="1344.16" stroke="#111" stroke-width="2.7"/>
<rect x="538.8" y="1341.49" width="14" height="3.81" fill="#F8E3AC" stroke="#1a1a1a" stroke-width="1.5"/>
<line x1="545.8" y1="1335.93" x2="545.8" y2="1345.3" stroke="#1a1a1a" stroke-width="1.3"/>
<line x1="543.5" y1="1335.93" x2="548.1" y2="1335.93" stroke="#1a1a1a" stroke-width="1.3"/>
<line x1="543.5" y1="1345.3" x2="548.1" y2="1345.3" stroke="#1a1a1a" stroke-width="1.3"/>
<line x1="538.8" y1="1344.92" x2="552.8" y2="1344.92" stroke="#111" stroke-width="2.7"/>
<rect x="559.74" y="1327.62" width="14" height="17.68" fill="#B4AFD7" stroke="#1a1a1a" stroke-width="1.5"/>
<line x1="566.74" y1="1305.68" x2="566.74" y2="1345.3" stroke="#1a1a1a" stroke-width="1.3"/>
<line x1="564.44" y1="1305.68" x2="569.04" y2="1305.68" stroke="#1a1a1a" stroke-width="1.3"/>
<line x1="564.44" y1="1345.3" x2="569.04" y2="1345.3" stroke="#1a1a1a" stroke-width="1.3"/>
<line x1="559.74" y1="1341.49" x2="573.74" y2="1341.49" stroke="#111" stroke-width="2.7"/>
<rect x="576.94" y="1331.32" width="14" height="13.98" fill="#F8E3AC" stroke="#1a1a1a" stroke-width="1.5"/>
<line x1="583.94" y1="1311.39" x2="583.94" y2="1345.3" stroke="#1a1a1a" stroke-width="1.3"/>
<line x1="581.64" y1="1311.39" x2="586.24" y2="1311.39" stroke="#1a1a1a" stroke-width="1.3"/>
<line x1="581.64" y1="1345.3" x2="586.24" y2="1345.3" stroke="#1a1a1a" stroke-width="1.3"/>
<line x1="576.94" y1="1338.44" x2="590.94" y2="1338.44" stroke="#111" stroke-width="2.7"/>
<rect x="597.88" y="1336.38" width="14" height="8.92" fill="#B4AFD7" stroke="#1a1a1a" stroke-width="1.5"/>
<line x1="604.88" y1="1329.45" x2="604.88" y2="1345.3" stroke="#1a1a1a" stroke-width="1.3"/>
<line x1="602.59" y1="1329.45" x2="607.18" y2="1329.45" stroke="#1a1a1a" stroke-width="1.3"/>
<line x1="602.59" y1="1345.3" x2="607.18" y2="1345.3" stroke="#1a1a1a" stroke-width="1.3"/>
<line x1="597.88" y1="1345.11" x2="611.88" y2="1345.11" stroke="#111" stroke-width="2.7"/>
<rect x="615.09" y="1341.76" width="14" height="3.54" fill="#F8E3AC" stroke="#1a1a1a" stroke-width="1.5"/>
<line x1="622.09" y1="1336.38" x2="622.09" y2="1345.3" stroke="#1a1a1a" stroke-width="1.3"/>
<line x1="619.79" y1="1336.38" x2="624.38" y2="1336.38" stroke="#1a1a1a" stroke-width="1.3"/>
<line x1="619.79" y1="1345.3" x2="624.38" y2="1345.3" stroke="#1a1a1a" stroke-width="1.3"/>
<line x1="615.09" y1="1344.54" x2="629.09" y2="1344.54" stroke="#111" stroke-width="2.7"/>
<rect x="636.03" y="1311.31" width="14" height="28.92" fill="#B4AFD7" stroke="#1a1a1a" stroke-width="1.5"/>
<line x1="643.03" y1="1284.34" x2="643.03" y2="1345.3" stroke="#1a1a1a" stroke-width="1.3"/>
<line x1="640.73" y1="1284.34" x2="645.33" y2="1284.34" stroke="#1a1a1a" stroke-width="1.3"/>
<line x1="640.73" y1="1345.3" x2="645.33" y2="1345.3" stroke="#1a1a1a" stroke-width="1.3"/>
<line x1="636.03" y1="1327.62" x2="650.03" y2="1327.62" stroke="#111" stroke-width="2.7"/>
<rect x="653.23" y="1313.3" width="14" height="30.48" fill="#F8E3AC" stroke="#1a1a1a" stroke-width="1.5"/>
<line x1="660.23" y1="1275.96" x2="660.23" y2="1345.3" stroke="#1a1a1a" stroke-width="1.3"/>
<line x1="657.93" y1="1275.96" x2="662.53" y2="1275.96" stroke="#1a1a1a" stroke-width="1.3"/>
<line x1="657.93" y1="1345.3" x2="662.53" y2="1345.3" stroke="#1a1a1a" stroke-width="1.3"/>
<line x1="653.23" y1="1327.93" x2="667.23" y2="1327.93" stroke="#111" stroke-width="2.7"/>
<rect x="674.18" y="1302.09" width="14" height="37.68" fill="#B4AFD7" stroke="#1a1a1a" stroke-width="1.5"/>
<line x1="681.18" y1="1253.1" x2="681.18" y2="1345.3" stroke="#1a1a1a" stroke-width="1.3"/>
<line x1="678.88" y1="1253.1" x2="683.48" y2="1253.1" stroke="#1a1a1a" stroke-width="1.3"/>
<line x1="678.88" y1="1345.3" x2="683.48" y2="1345.3" stroke="#1a1a1a" stroke-width="1.3"/>
<line x1="674.18" y1="1324.35" x2="688.18" y2="1324.35" stroke="#111" stroke-width="2.7"/>
<rect x="691.38" y="1328.38" width="14" height="16.92" fill="#F8E3AC" stroke="#1a1a1a" stroke-width="1.5"/>
<line x1="698.38" y1="1310.25" x2="698.38" y2="1345.3" stroke="#1a1a1a" stroke-width="1.3"/>
<line x1="696.08" y1="1310.25" x2="700.68" y2="1310.25" stroke="#1a1a1a" stroke-width="1.3"/>
<line x1="696.08" y1="1345.3" x2="700.68" y2="1345.3" stroke="#1a1a1a" stroke-width="1.3"/>
<line x1="691.38" y1="1338.44" x2="705.38" y2="1338.44" stroke="#111" stroke-width="2.7"/>
<rect x="712.32" y="1282.89" width="14" height="55.78" fill="#B4AFD7" stroke="#1a1a1a" stroke-width="1.5"/>
<line x1="719.32" y1="1241.82" x2="719.32" y2="1345.3" stroke="#1a1a1a" stroke-width="1.3"/>
<line x1="717.02" y1="1241.82" x2="721.62" y2="1241.82" stroke="#1a1a1a" stroke-width="1.3"/>
<line x1="717.02" y1="1345.3" x2="721.62" y2="1345.3" stroke="#1a1a1a" stroke-width="1.3"/>
<line x1="712.32" y1="1309.94" x2="726.32" y2="1309.94" stroke="#111" stroke-width="2.7"/>
<rect x="729.52" y="1275.96" width="14" height="34.75" fill="#F8E3AC" stroke="#1a1a1a" stroke-width="1.5"/>
<line x1="736.52" y1="1231" x2="736.52" y2="1345.3" stroke="#1a1a1a" stroke-width="1.3"/>
<line x1="734.22" y1="1231" x2="738.82" y2="1231" stroke="#1a1a1a" stroke-width="1.3"/>
<line x1="734.22" y1="1345.3" x2="738.82" y2="1345.3" stroke="#1a1a1a" stroke-width="1.3"/>
<line x1="729.52" y1="1293.79" x2="743.52" y2="1293.79" stroke="#111" stroke-width="2.7"/>
<rect x="750.47" y="1344.1" width="14" height="1.2" fill="#B4AFD7" stroke="#1a1a1a" stroke-width="1.5"/>
<line x1="757.47" y1="1344.92" x2="757.47" y2="1345.3" stroke="#1a1a1a" stroke-width="1.3"/>
<line x1="755.17" y1="1344.92" x2="759.76" y2="1344.92" stroke="#1a1a1a" stroke-width="1.3"/>
<line x1="755.17" y1="1345.3" x2="759.76" y2="1345.3" stroke="#1a1a1a" stroke-width="1.3"/>
<line x1="750.47" y1="1345.3" x2="764.47" y2="1345.3" stroke="#111" stroke-width="2.7"/>
<rect x="767.67" y="1344.1" width="14" height="1.2" fill="#F8E3AC" stroke="#1a1a1a" stroke-width="1.5"/>
<line x1="774.67" y1="1344.92" x2="774.67" y2="1345.3" stroke="#1a1a1a" stroke-width="1.3"/>
<line x1="772.37" y1="1344.92" x2="776.97" y2="1344.92" stroke="#1a1a1a" stroke-width="1.3"/>
<line x1="772.37" y1="1345.3" x2="776.97" y2="1345.3" stroke="#1a1a1a" stroke-width="1.3"/>
<line x1="767.67" y1="1345.3" x2="781.67" y2="1345.3" stroke="#111" stroke-width="2.7"/>
<rect x="788.61" y="1272.15" width="14" height="56.54" fill="#B4AFD7" stroke="#1a1a1a" stroke-width="1.5"/>
<line x1="795.61" y1="1192.9" x2="795.61" y2="1345.3" stroke="#1a1a1a" stroke-width="1.3"/>
<line x1="793.31" y1="1192.9" x2="797.91" y2="1192.9" stroke="#1a1a1a" stroke-width="1.3"/>
<line x1="793.31" y1="1345.3" x2="797.91" y2="1345.3" stroke="#1a1a1a" stroke-width="1.3"/>
<line x1="788.61" y1="1305.68" x2="802.61" y2="1305.68" stroke="#111" stroke-width="2.7"/>
<rect x="805.81" y="1287.5" width="14" height="37.34" fill="#F8E3AC" stroke="#1a1a1a" stroke-width="1.5"/>
<line x1="812.81" y1="1242.43" x2="812.81" y2="1345.3" stroke="#1a1a1a" stroke-width="1.3"/>
<line x1="810.51" y1="1242.43" x2="815.11" y2="1242.43" stroke="#1a1a1a" stroke-width="1.3"/>
<line x1="810.51" y1="1345.3" x2="815.11" y2="1345.3" stroke="#1a1a1a" stroke-width="1.3"/>
<line x1="805.81" y1="1307.96" x2="819.81" y2="1307.96" stroke="#111" stroke-width="2.7"/>
<rect x="826.76" y="1330.56" width="14" height="11.96" fill="#B4AFD7" stroke="#1a1a1a" stroke-width="1.5"/>
<line x1="833.76" y1="1314.82" x2="833.76" y2="1345.3" stroke="#1a1a1a" stroke-width="1.3"/>
<line x1="831.46" y1="1314.82" x2="836.06" y2="1314.82" stroke="#1a1a1a" stroke-width="1.3"/>
<line x1="831.46" y1="1345.3" x2="836.06" y2="1345.3" stroke="#1a1a1a" stroke-width="1.3"/>
<line x1="826.76" y1="1336.69" x2="840.76" y2="1336.69" stroke="#111" stroke-width="2.7"/>
<rect x="843.96" y="1335.32" width="14" height="9.98" fill="#F8E3AC" stroke="#1a1a1a" stroke-width="1.5"/>
<line x1="850.96" y1="1322.82" x2="850.96" y2="1345.3" stroke="#1a1a1a" stroke-width="1.3"/>
<line x1="848.66" y1="1322.82" x2="853.26" y2="1322.82" stroke="#1a1a1a" stroke-width="1.3"/>
<line x1="848.66" y1="1345.3" x2="853.26" y2="1345.3" stroke="#1a1a1a" stroke-width="1.3"/>
<line x1="843.96" y1="1340.99" x2="857.96" y2="1340.99" stroke="#111" stroke-width="2.7"/>
<rect x="864.9" y="1344.1" width="14" height="1.2" fill="#B4AFD7" stroke="#1a1a1a" stroke-width="1.5"/>
<line x1="871.9" y1="1344.16" x2="871.9" y2="1345.3" stroke="#1a1a1a" stroke-width="1.3"/>
<line x1="869.6" y1="1344.16" x2="874.2" y2="1344.16" stroke="#1a1a1a" stroke-width="1.3"/>
<line x1="869.6" y1="1345.3" x2="874.2" y2="1345.3" stroke="#1a1a1a" stroke-width="1.3"/>
<line x1="864.9" y1="1345.3" x2="878.9" y2="1345.3" stroke="#111" stroke-width="2.7"/>
<rect x="882.1" y="1344.1" width="14" height="1.2" fill="#F8E3AC" stroke="#1a1a1a" stroke-width="1.5"/>
<line x1="889.1" y1="1344.16" x2="889.1" y2="1345.3" stroke="#1a1a1a" stroke-width="1.3"/>
<line x1="886.8" y1="1344.16" x2="891.4" y2="1344.16" stroke="#1a1a1a" stroke-width="1.3"/>
<line x1="886.8" y1="1345.3" x2="891.4" y2="1345.3" stroke="#1a1a1a" stroke-width="1.3"/>
<line x1="882.1" y1="1345.3" x2="896.1" y2="1345.3" stroke="#111" stroke-width="2.7"/>
<rect x="903.05" y="1315.32" width="14" height="21.07" fill="#B4AFD7" stroke="#1a1a1a" stroke-width="1.5"/>
<line x1="910.05" y1="1289.48" x2="910.05" y2="1345.3" stroke="#1a1a1a" stroke-width="1.3"/>
<line x1="907.75" y1="1289.48" x2="912.35" y2="1289.48" stroke="#1a1a1a" stroke-width="1.3"/>
<line x1="907.75" y1="1345.3" x2="912.35" y2="1345.3" stroke="#1a1a1a" stroke-width="1.3"/>
<line x1="903.05" y1="1328.69" x2="917.05" y2="1328.69" stroke="#111" stroke-width="2.7"/>
<rect x="920.25" y="1308.72" width="14" height="22.29" fill="#F8E3AC" stroke="#1a1a1a" stroke-width="1.5"/>
<line x1="927.25" y1="1280.72" x2="927.25" y2="1345.3" stroke="#1a1a1a" stroke-width="1.3"/>
<line x1="924.95" y1="1280.72" x2="929.55" y2="1280.72" stroke="#1a1a1a" stroke-width="1.3"/>
<line x1="924.95" y1="1345.3" x2="929.55" y2="1345.3" stroke="#1a1a1a" stroke-width="1.3"/>
<line x1="920.25" y1="1318.63" x2="934.25" y2="1318.63" stroke="#111" stroke-width="2.7"/>
<path d="M109,1207.76h0M109,1258.81h0M109,1299.96h0M109,1318.25h0M109,1322.06h0M109,1327.77h0M109,1330.44h0M109,1335.01h0M109,1339.59h0M126.2,1242.43h0M126.2,1272.53h0M126.2,1279.77h0M126.2,1283.2h0M126.2,1292.91h0M126.2,1297.29h0M126.2,1306.44h0M126.2,1314.82h0M126.2,1317.49h0M147.15,1210.81h0M147.15,1233.67h0M164.34,1226.05h0M164.34,1231.76h0M164.34,1272.15h0M185.29,1304.53h0M185.29,1306.44h0M185.29,1308.34h0M185.29,1311.77h0M185.29,1319.39h0M185.29,1322.06h0M185.29,1327.77h0M185.29,1330.44h0M185.29,1331.96h0M202.49,1275.39h0M202.49,1295.77h0M202.49,1305.45h0M202.49,1307.2h0M202.49,1317.87h0M202.49,1323.96h0M223.44,1314.82h0M223.44,1316.72h0M223.44,1318.63h0M223.44,1320.53h0M223.44,1322.44h0M223.44,1324.35h0M240.63,1280h0M240.63,1295.77h0M240.63,1298.06h0M240.63,1300.72h0M240.63,1304.53h0M240.63,1306.44h0M261.58,1330.06h0M261.58,1332.73h0M261.58,1339.97h0M261.58,1342.25h0M278.78,1325.87h0M278.78,1328.54h0M278.78,1332.35h0M278.78,1337.68h0M278.78,1340.35h0M278.78,1342.25h0M299.73,1133.08h0M299.73,1146.04h0M299.73,1160.32h0M316.93,1134.61h0M316.93,1158.61h0M316.93,1164.17h0M316.93,1184.14h0M316.93,1187.95h0M316.93,1194.42h0M316.93,1198.23h0M316.93,1204.33h0M376.01,1199.38h0M376.01,1233.82h0M393.22,1227.95h0M414.16,1264.15h0M414.16,1277.94h0M414.16,1289.48h0M414.16,1293.33h0M414.16,1297.18h0M414.16,1309.49h0M414.16,1311.77h0M414.16,1314.44h0M414.16,1316.72h0M414.16,1319.01h0M414.16,1321.68h0M414.16,1323.58h0M431.36,1231.76h0M431.36,1236.45h0M431.36,1254.89h0M431.36,1266.89h0M431.36,1287.2h0M431.36,1289.29h0M431.36,1291.96h0M431.36,1295.01h0M431.36,1301.1h0M431.36,1307.2h0M431.36,1312.53h0M431.36,1318.63h0M431.36,1320.92h0M452.3,1297.18h0M452.3,1308.34h0M469.5,1258.05h0M469.5,1264.91h0M490.45,1329.45h0M490.45,1332.35h0M490.45,1333.82h0M490.45,1335.29h0M490.45,1336.75h0M490.45,1338.22h0M490.45,1339.69h0M490.45,1341.16h0M490.45,1342.63h0M507.65,1322.44h0M507.65,1324.73h0M507.65,1327.01h0M507.65,1329.3h0M507.65,1331.77h0M507.65,1333.87h0M528.6,1257.67h0M528.6,1311.01h0M528.6,1313.3h0M528.6,1317.11h0M528.6,1319.39h0M528.6,1322.44h0M528.6,1324.73h0M528.6,1327.93h0M545.8,1285.33h0M545.8,1292.26h0M545.8,1309.11h0M545.8,1315.58h0M545.8,1319.39h0M545.8,1323.2h0M545.8,1327.93h0M545.8,1332.54h0M545.8,1334.63h0M583.94,1293.33h0M583.94,1295.77h0M583.94,1298.25h0M604.88,1307.2h0M604.88,1314.82h0M604.88,1317.11h0M604.88,1323.58h0M622.09,1320.15h0M622.09,1321.99h0M622.09,1323.83h0M622.09,1325.67h0M622.09,1327.51h0M622.09,1329.35h0M622.09,1331.18h0M622.09,1333.02h0M622.09,1334.86h0M643.03,1259.19h0M643.03,1261.1h0M643.03,1267.96h0M660.23,1183.11h0M660.23,1203.57h0M660.23,1242.81h0M660.23,1265.29h0M681.18,1234.58h0M698.38,1259.58h0M698.38,1268.41h0M698.38,1276.34h0M698.38,1285.64h0M698.38,1288.72h0M698.38,1293.33h0M698.38,1298.82h0M698.38,1301.87h0M736.52,1199.07h0M774.67,1294.4h0M774.67,1319.16h0M774.67,1342.63h0M812.81,1183.11h0M812.81,1194.16h0M812.81,1198.01h0M812.81,1201.85h0M812.81,1212.33h0M812.81,1231.38h0M833.76,1307.62h0M833.76,1310.25h0M833.76,1311.77h0M850.96,1307.2h0M850.96,1311.77h0M850.96,1315.58h0M850.96,1318.63h0M871.9,1314.82h0M871.9,1316.48h0M871.9,1318.14h0M871.9,1319.8h0M871.9,1321.45h0M871.9,1323.11h0M871.9,1324.77h0M871.9,1326.43h0M871.9,1328.09h0M871.9,1329.75h0M871.9,1331.4h0M871.9,1333.06h0M871.9,1334.72h0M871.9,1336.38h0M871.9,1338.04h0M871.9,1339.7h0M871.9,1341.36h0M871.9,1343.01h0M889.1,1311.39h0M889.1,1314.06h0M889.1,1316.34h0M889.1,1319.16h0M889.1,1330.06h0M889.1,1331.5h0M889.1,1332.94h0M889.1,1334.38h0M889.1,1335.82h0M889.1,1337.26h0M889.1,1338.7h0M889.1,1340.14h0M889.1,1341.57h0M889.1,1343.01h0" fill="none" stroke="#000" stroke-width="3.3" stroke-linecap="round"/>
<rect x="95.4" y="1122.2" width="846.3" height="233" fill="none" stroke="#333" stroke-width="1"/>
<line x1="117.6" y1="1355.2" x2="117.6" y2="1359.4" stroke="#333" stroke-width="1"/>
<text x="117.6" y="1131.6" font-size="12.4" class="sa" text-anchor="middle">***</text>
<text x="124" y="1367.3" font-size="13.9" class="se" font-weight="bold" text-anchor="end" transform="rotate(-45 124 1367.3)">B cells memory</text>
<line x1="155.75" y1="1355.2" x2="155.75" y2="1359.4" stroke="#333" stroke-width="1"/>
<text x="155.75" y="1131.6" font-size="12.4" class="sa" text-anchor="middle">*</text>
<text x="162.15" y="1367.3" font-size="13.9" class="se" font-weight="bold" text-anchor="end" transform="rotate(-45 162.15 1367.3)">B cells naive</text>
<line x1="193.89" y1="1355.2" x2="193.89" y2="1359.4" stroke="#333" stroke-width="1"/>
<text x="193.89" y="1132.7" font-size="12" class="sa" text-anchor="middle">ns</text>
<text x="200.29" y="1367.3" font-size="13.9" class="se" font-weight="bold" text-anchor="end" transform="rotate(-45 200.29 1367.3)">Dendritic cells activated</text>
<line x1="232.03" y1="1355.2" x2="232.03" y2="1359.4" stroke="#333" stroke-width="1"/>
<text x="232.03" y="1131.6" font-size="12.4" class="sa" text-anchor="middle">**</text>
<text x="238.44" y="1367.3" font-size="13.9" class="se" font-weight="bold" text-anchor="end" transform="rotate(-45 238.44 1367.3)">Dendritic cells resting</text>
<line x1="270.18" y1="1355.2" x2="270.18" y2="1359.4" stroke="#333" stroke-width="1"/>
<text x="270.18" y="1132.7" font-size="12" class="sa" text-anchor="middle">ns</text>
<text x="276.58" y="1367.3" font-size="13.9" class="se" font-weight="bold" text-anchor="end" transform="rotate(-45 276.58 1367.3)">Eosinophils</text>
<line x1="308.33" y1="1355.2" x2="308.33" y2="1359.4" stroke="#333" stroke-width="1"/>
<text x="308.33" y="1131.6" font-size="12.4" class="sa" text-anchor="middle">*</text>
<text x="314.73" y="1367.3" font-size="13.9" class="se" font-weight="bold" text-anchor="end" transform="rotate(-45 314.73 1367.3)">Macrophages M0</text>
<line x1="346.47" y1="1355.2" x2="346.47" y2="1359.4" stroke="#333" stroke-width="1"/>
<text x="346.47" y="1131.6" font-size="12.4" class="sa" text-anchor="middle">**</text>
<text x="352.87" y="1367.3" font-size="13.9" class="se" font-weight="bold" text-anchor="end" transform="rotate(-45 352.87 1367.3)">Macrophages M1</text>
<line x1="384.62" y1="1355.2" x2="384.62" y2="1359.4" stroke="#333" stroke-width="1"/>
<text x="384.62" y="1132.7" font-size="12" class="sa" text-anchor="middle">ns</text>
<text x="391.01" y="1367.3" font-size="13.9" class="se" font-weight="bold" text-anchor="end" transform="rotate(-45 391.01 1367.3)">Macrophages M2</text>
<line x1="422.76" y1="1355.2" x2="422.76" y2="1359.4" stroke="#333" stroke-width="1"/>
<text x="422.76" y="1132.7" font-size="12" class="sa" text-anchor="middle">ns</text>
<text x="429.16" y="1367.3" font-size="13.9" class="se" font-weight="bold" text-anchor="end" transform="rotate(-45 429.16 1367.3)">Mast cells activated</text>
<line x1="460.9" y1="1355.2" x2="460.9" y2="1359.4" stroke="#333" stroke-width="1"/>
<text x="460.9" y="1131.6" font-size="12.4" class="sa" text-anchor="middle">**</text>
<text x="467.3" y="1367.3" font-size="13.9" class="se" font-weight="bold" text-anchor="end" transform="rotate(-45 467.3 1367.3)">Mast cells resting</text>
<line x1="499.05" y1="1355.2" x2="499.05" y2="1359.4" stroke="#333" stroke-width="1"/>
<text x="499.05" y="1131.6" font-size="12.4" class="sa" text-anchor="middle">****</text>
<text x="505.45" y="1367.3" font-size="13.9" class="se" font-weight="bold" text-anchor="end" transform="rotate(-45 505.45 1367.3)">Monocytes</text>
<line x1="537.2" y1="1355.2" x2="537.2" y2="1359.4" stroke="#333" stroke-width="1"/>
<text x="537.2" y="1132.7" font-size="12" class="sa" text-anchor="middle">ns</text>
<text x="543.6" y="1367.3" font-size="13.9" class="se" font-weight="bold" text-anchor="end" transform="rotate(-45 543.6 1367.3)">Neutrophils</text>
<line x1="575.34" y1="1355.2" x2="575.34" y2="1359.4" stroke="#333" stroke-width="1"/>
<text x="575.34" y="1132.7" font-size="12" class="sa" text-anchor="middle">ns</text>
<text x="581.74" y="1367.3" font-size="13.9" class="se" font-weight="bold" text-anchor="end" transform="rotate(-45 581.74 1367.3)">NK cells activated</text>
<line x1="613.49" y1="1355.2" x2="613.49" y2="1359.4" stroke="#333" stroke-width="1"/>
<text x="613.49" y="1131.6" font-size="12.4" class="sa" text-anchor="middle">**</text>
<text x="619.88" y="1367.3" font-size="13.9" class="se" font-weight="bold" text-anchor="end" transform="rotate(-45 619.88 1367.3)">NK cells resting</text>
<line x1="651.63" y1="1355.2" x2="651.63" y2="1359.4" stroke="#333" stroke-width="1"/>
<text x="651.63" y="1132.7" font-size="12" class="sa" text-anchor="middle">ns</text>
<text x="658.03" y="1367.3" font-size="13.9" class="se" font-weight="bold" text-anchor="end" transform="rotate(-45 658.03 1367.3)">Plasma cells</text>
<line x1="689.78" y1="1355.2" x2="689.78" y2="1359.4" stroke="#333" stroke-width="1"/>
<text x="689.78" y="1131.6" font-size="12.4" class="sa" text-anchor="middle">****</text>
<text x="696.18" y="1367.3" font-size="13.9" class="se" font-weight="bold" text-anchor="end" transform="rotate(-45 696.18 1367.3)">T cells CD4 memory activated</text>
<line x1="727.92" y1="1355.2" x2="727.92" y2="1359.4" stroke="#333" stroke-width="1"/>
<text x="727.92" y="1131.6" font-size="12.4" class="sa" text-anchor="middle">***</text>
<text x="734.32" y="1367.3" font-size="13.9" class="se" font-weight="bold" text-anchor="end" transform="rotate(-45 734.32 1367.3)">T cells CD4 memory resting</text>
<line x1="766.07" y1="1355.2" x2="766.07" y2="1359.4" stroke="#333" stroke-width="1"/>
<text x="766.07" y="1132.7" font-size="12" class="sa" text-anchor="middle">ns</text>
<text x="772.47" y="1367.3" font-size="13.9" class="se" font-weight="bold" text-anchor="end" transform="rotate(-45 772.47 1367.3)">T cells CD4 naive</text>
<line x1="804.21" y1="1355.2" x2="804.21" y2="1359.4" stroke="#333" stroke-width="1"/>
<text x="804.21" y="1132.7" font-size="12" class="sa" text-anchor="middle">ns</text>
<text x="810.61" y="1367.3" font-size="13.9" class="se" font-weight="bold" text-anchor="end" transform="rotate(-45 810.61 1367.3)">T cells CD8</text>
<line x1="842.36" y1="1355.2" x2="842.36" y2="1359.4" stroke="#333" stroke-width="1"/>
<text x="842.36" y="1131.6" font-size="12.4" class="sa" text-anchor="middle">****</text>
<text x="848.76" y="1367.3" font-size="13.9" class="se" font-weight="bold" text-anchor="end" transform="rotate(-45 848.76 1367.3)">T cells follicular helper</text>
<line x1="880.5" y1="1355.2" x2="880.5" y2="1359.4" stroke="#333" stroke-width="1"/>
<text x="880.5" y="1131.6" font-size="12.4" class="sa" text-anchor="middle">*</text>
<text x="886.9" y="1367.3" font-size="13.9" class="se" font-weight="bold" text-anchor="end" transform="rotate(-45 886.9 1367.3)">T cells gamma delta</text>
<line x1="918.65" y1="1355.2" x2="918.65" y2="1359.4" stroke="#333" stroke-width="1"/>
<text x="918.65" y="1131.6" font-size="12.4" class="sa" text-anchor="middle">**</text>
<text x="925.05" y="1367.3" font-size="13.9" class="se" font-weight="bold" text-anchor="end" transform="rotate(-45 925.05 1367.3)">T cells regulatory (Tregs)</text>
<line x1="91.2" y1="1192.9" x2="95.4" y2="1192.9" stroke="#333" stroke-width="1"/>
<text x="87.8" y="1199" font-size="16.2" class="se" font-weight="bold" text-anchor="end">0.4</text>
<line x1="91.2" y1="1269.1" x2="95.4" y2="1269.1" stroke="#333" stroke-width="1"/>
<text x="87.8" y="1275.2" font-size="16.2" class="se" font-weight="bold" text-anchor="end">0.2</text>
<line x1="91.2" y1="1345.3" x2="95.4" y2="1345.3" stroke="#333" stroke-width="1"/>
<text x="87.8" y="1351.4" font-size="16.2" class="se" font-weight="bold" text-anchor="end">0.0</text>
<text x="57.9" y="1239.8" font-size="21.9" class="se" font-weight="bold" text-anchor="middle" transform="rotate(-90 57.9 1239.8)">Cell composition</text>
<text x="404.5" y="1092.3" font-size="14.2" class="se" font-weight="bold">Group</text>
<line x1="463.6" y1="1077.9" x2="463.6" y2="1097.1" stroke="#111" stroke-width="1.3"/>
<rect x="454.4" y="1081.3" width="18.4" height="12.4" fill="#B4AFD7" stroke="#111" stroke-width="1.5"/>
<line x1="454.4" y1="1087.8" x2="472.8" y2="1087.8" stroke="#111" stroke-width="1.5"/>
<text x="483.2" y="1092.3" font-size="14.2" class="se" font-weight="bold">Low risk</text>
<line x1="555.6" y1="1077.9" x2="555.6" y2="1097.1" stroke="#111" stroke-width="1.3"/>
<rect x="546.4" y="1081.3" width="18.4" height="12.4" fill="#F8E3AC" stroke="#111" stroke-width="1.5"/>
<line x1="546.4" y1="1087.8" x2="564.8" y2="1087.8" stroke="#111" stroke-width="1.5"/>
<text x="575.3" y="1092.3" font-size="14.2" class="se" font-weight="bold">High risk</text>
<text x="941.2" y="37.2" font-size="28" class="se">D</text>
<rect x="960" y="135.6" width="129" height="127.2" fill="#B7A5D1"/>
<rect x="1088.7" y="135.6" width="128.9" height="127.2" fill="#A895C6"/>
<rect x="1217.3" y="135.6" width="129" height="127.2" fill="#EBB5A0"/>
<rect x="1346" y="135.6" width="129.1" height="127.2" fill="#E7A892"/>
<rect x="1474.8" y="135.6" width="129.2" height="127.2" fill="#B7A5D1"/>
<rect x="1088.7" y="262.5" width="128.9" height="126.9" fill="#B7A5D1"/>
<rect x="1346" y="262.5" width="129.1" height="126.9" fill="#ECB9A7"/>
<text x="1024.35" y="202.85" font-size="12.5" class="se" text-anchor="middle" fill="#333">****</text>
<text x="1153" y="202.85" font-size="12.5" class="se" text-anchor="middle" fill="#333">****</text>
<text x="1281.65" y="202.85" font-size="12.5" class="se" text-anchor="middle" fill="#333">****</text>
<text x="1410.4" y="202.85" font-size="12.5" class="se" text-anchor="middle" fill="#333">****</text>
<text x="1539.25" y="202.85" font-size="12.5" class="se" text-anchor="middle" fill="#333">****</text>
<text x="1153" y="329.75" font-size="12.5" class="se" text-anchor="middle" fill="#333">****</text>
<text x="1410.4" y="329.75" font-size="12.5" class="se" text-anchor="middle" fill="#333">****</text>
<line x1="1024.35" y1="119.8" x2="1024.35" y2="123.4" stroke="#333" stroke-width="0.9"/>
<text x="1024.75" y="116.9" font-size="12.5" class="se" transform="rotate(-45 1024.75 116.9)">Mast cells resting</text>
<line x1="1153" y1="119.8" x2="1153" y2="123.4" stroke="#333" stroke-width="0.9"/>
<text x="1153.4" y="116.9" font-size="12.5" class="se" transform="rotate(-45 1153.4 116.9)">Monocytes</text>
<line x1="1281.65" y1="119.8" x2="1281.65" y2="123.4" stroke="#333" stroke-width="0.9"/>
<text x="1282.05" y="116.9" font-size="12.5" class="se" transform="rotate(-45 1282.05 116.9)">NK cells resting</text>
<line x1="1410.4" y1="119.8" x2="1410.4" y2="123.4" stroke="#333" stroke-width="0.9"/>
<text x="1410.8" y="116.9" font-size="12.5" class="se" transform="rotate(-45 1410.8 116.9)">T cells CD4 memory activated</text>
<line x1="1539.25" y1="119.8" x2="1539.25" y2="123.4" stroke="#333" stroke-width="0.9"/>
<text x="1539.65" y="116.9" font-size="12.5" class="se" transform="rotate(-45 1539.65 116.9)">T cells regulatory (Tregs)</text>
<text x="941.4" y="203.1" font-size="12.5" class="se" text-anchor="end">ERCC6L</text>
<text x="941.4" y="330.3" font-size="12.5" class="se" text-anchor="end">MYB</text>
<text x="1635.4" y="158.9" font-size="12.5" class="se">ns</text>
<text x="1653.1" y="158.9" font-size="12.5" class="se">p &gt; 0.05</text>
<text x="1635.4" y="186.7" font-size="12.5" class="se">*</text>
<text x="1654.3" y="186.7" font-size="12.5" class="se">p &lt; 0.05</text>
<text x="1635.4" y="214.1" font-size="12.5" class="se">**</text>
<text x="1654.3" y="214.1" font-size="12.5" class="se">p &lt; 0.01</text>
<text x="1635.4" y="241.4" font-size="12.5" class="se">***</text>
<text x="1657.8" y="241.4" font-size="12.5" class="se">p &lt; 0.001</text>
<text x="1635.4" y="268.8" font-size="12.5" class="se">Correlation</text>
<defs><linearGradient id="cg" x1="0" y1="0" x2="0" y2="1"><stop offset="0" stop-color="#C8190F"/><stop offset="0.12" stop-color="#D04A33"/><stop offset="0.25" stop-color="#DB7559"/><stop offset="0.38" stop-color="#EDB3A0"/><stop offset="0.5" stop-color="#FFFFFF"/><stop offset="0.62" stop-color="#CBBCDD"/><stop offset="0.75" stop-color="#8F7AB8"/><stop offset="0.88" stop-color="#4C4696"/><stop offset="1" stop-color="#1C2A8A"/></linearGradient></defs>
<rect x="1635.3" y="276.7" width="20" height="98.7" fill="url(#cg)"/>
<line x1="1635.3" y1="276.7" x2="1639.3" y2="276.7" stroke="#fff" stroke-width="0.7"/>
<line x1="1651.3" y1="276.7" x2="1655.3" y2="276.7" stroke="#fff" stroke-width="0.7"/>
<text x="1661.8" y="280" font-size="10" class="se">1.0</text>
<line x1="1635.3" y1="301.38" x2="1639.3" y2="301.38" stroke="#fff" stroke-width="0.7"/>
<line x1="1651.3" y1="301.38" x2="1655.3" y2="301.38" stroke="#fff" stroke-width="0.7"/>
<text x="1661.8" y="304.68" font-size="10" class="se">0.5</text>
<line x1="1635.3" y1="326.05" x2="1639.3" y2="326.05" stroke="#fff" stroke-width="0.7"/>
<line x1="1651.3" y1="326.05" x2="1655.3" y2="326.05" stroke="#fff" stroke-width="0.7"/>
<text x="1661.8" y="329.35" font-size="10" class="se">0.0</text>
<line x1="1635.3" y1="350.72" x2="1639.3" y2="350.72" stroke="#fff" stroke-width="0.7"/>
<line x1="1651.3" y1="350.72" x2="1655.3" y2="350.72" stroke="#fff" stroke-width="0.7"/>
<text x="1661.8" y="354.02" font-size="10" class="se">−0.5</text>
<line x1="1635.3" y1="375.4" x2="1639.3" y2="375.4" stroke="#fff" stroke-width="0.7"/>
<line x1="1651.3" y1="375.4" x2="1655.3" y2="375.4" stroke="#fff" stroke-width="0.7"/>
<text x="1661.8" y="378.7" font-size="10" class="se">−1.0</text>
<text x="941.9" y="431.9" font-size="28" class="se">E</text>
<text x="1349.6" y="440.6" font-size="13.9" class="sa" font-weight="bold" text-anchor="middle">Altered in 152 (87.86%) of 173 samples.</text>
<path d="M977.9,455.6H984.4V555.7H977.9" fill="none" stroke="#111" stroke-width="1"/>
<text x="971.4" y="458.7" font-size="8.7" class="sa" text-anchor="end">2941</text>
<text x="971.4" y="558.8" font-size="8.7" class="sa" text-anchor="end">0</text>
<text x="965" y="505.65" font-size="7.4" class="sa" text-anchor="middle" transform="rotate(-90 965 505.65)">TMB</text>
<path d="M988.9,555.54v-5.6h3.4v5.6zM992.7,555.57v-4.45h3.4v4.45zM996.49,544.18v-44.17h3.4v44.17zM1000.29,555.55v-5.11h3.4v5.11zM1004.09,555.45v-9.23h3.4v9.23zM1007.89,555.59v-3.46h3.4v3.46zM1011.68,555.55v-5.27h3.4v5.27zM1015.48,555.7v-3.49h3.4v3.49zM1019.28,555.51v-6.59h3.4v6.59zM1023.08,555.7v-2.47h3.4v2.47zM1026.87,555.51v-6.76h3.4v6.76zM1030.67,555.7v-3.49h3.4v3.49zM1034.47,555.54v-5.44h3.4v5.44zM1038.27,555.7v-2.14h3.4v2.14zM1042.06,542.47v-37.57h3.4v37.57zM1045.86,555.51v-6.76h3.4v6.76zM1049.66,555.7v-2.64h3.4v2.64zM1053.46,554.85v-11.77h3.4v11.77zM1057.25,555.7v-1.8h3.4v1.8zM1061.05,555.6v-3.13h3.4v3.13zM1064.85,555.58v-3.79h3.4v3.79zM1068.64,555.7v-2.47h3.4v2.47zM1072.44,555.7v-1.29h3.4v1.29zM1076.24,555.57v-4.45h3.4v4.45zM1080.04,555.7v-3.49h3.4v3.49zM1083.83,555.59v-3.46h3.4v3.46zM1087.63,555.57v-4.28h3.4v4.28zM1091.43,555.59v-3.46h3.4v3.46zM1095.23,555.7v-2.14h3.4v2.14zM1099.02,555.7v-2.14h3.4v2.14zM1102.82,555.54v-5.44h3.4v5.44zM1106.62,555.7v-2.14h3.4v2.14zM1110.42,555.59v-3.46h3.4v3.46zM1114.21,555.7v-1.29h3.4v1.29zM1118.01,555.7v-1.29h3.4v1.29zM1121.81,555.7v-1.97h3.4v1.97zM1125.61,555.7v-2.14h3.4v2.14zM1129.4,555.7v-1.97h3.4v1.97zM1133.2,555.52v-6.43h3.4v6.43zM1137,555.7v-2.47h3.4v2.47zM1140.79,555.43v-10.06h3.4v10.06zM1144.59,555.7v-1.29h3.4v1.29zM1148.39,554.58v-15.45h3.4v15.45zM1152.19,555.7v-2.64h3.4v2.64zM1155.98,555.7v-0.95h3.4v0.95zM1159.78,555.7v-2.14h3.4v2.14zM1163.58,555.7v-2.14h3.4v2.14zM1167.38,555.7v-2.81h3.4v2.81zM1171.17,555.7v-3.15h3.4v3.15zM1174.97,555.42v-10.22h3.4v10.22zM1178.77,555.7v-1.29h3.4v1.29zM1182.57,555.57v-4.28h3.4v4.28zM1186.36,555.6v-3.13h3.4v3.13zM1190.16,555.7v-2.14h3.4v2.14zM1193.96,555.7v-1.8h3.4v1.8zM1197.76,555.7v-2.98h3.4v2.98zM1201.55,555.7v-2.98h3.4v2.98zM1205.35,555.7v-2.81h3.4v2.81zM1209.15,555.59v-3.46h3.4v3.46zM1212.94,554.01v-1.54h3.4v1.54zM1216.74,555.7v-2.14h3.4v2.14zM1220.54,555.7v-2.14h3.4v2.14zM1224.34,555.7v-2.47h3.4v2.47zM1228.13,555.7v-1.29h3.4v1.29zM1231.93,555.58v-3.79h3.4v3.79zM1235.73,555.7v-2.14h3.4v2.14zM1239.53,555.54v-5.44h3.4v5.44zM1243.32,555.7v-0.95h3.4v0.95zM1247.12,555.7v-0.45h3.4v0.45zM1250.92,555.7v-3.15h3.4v3.15zM1254.72,555.7v-1.8h3.4v1.8zM1258.51,555.7v-1.29h3.4v1.29zM1262.31,555.7v-1.29h3.4v1.29zM1266.11,555.7v-3.15h3.4v3.15zM1269.91,555.7v-3.49h3.4v3.49zM1273.7,539.55v-63.99h3.4v63.99zM1277.5,554.88v-11.33h3.4v11.33zM1281.3,533.34v-71.19h3.4v71.19zM1285.09,555.57v-4.45h3.4v4.45zM1288.89,541.67v-53.8h3.4v53.8zM1292.69,555.47v-8.41h3.4v8.41zM1296.49,555.7v-1.29h3.4v1.29zM1300.28,546.84v-31.85h3.4v31.85zM1304.08,555.7v-2.98h3.4v2.98zM1307.88,555.51v-6.76h3.4v6.76zM1311.68,552.8v-14.77h3.4v14.77zM1315.47,552.71v-17.99h3.4v17.99zM1319.27,555.53v-6.1h3.4v6.1zM1323.07,555.7v-2.14h3.4v2.14zM1326.87,555.7v-1.29h3.4v1.29zM1330.66,551.22v-19.66h3.4v19.66zM1334.46,555.46v-8.57h3.4v8.57zM1338.26,555.7v-2.47h3.4v2.47zM1342.06,555.47v-8.41h3.4v8.41zM1345.85,555.7v-2.47h3.4v2.47zM1349.65,547.15v-25.68h3.4v25.68zM1353.45,555.7v-2.98h3.4v2.98zM1357.24,555.7v-3.15h3.4v3.15zM1361.04,555.7v-2.81h3.4v2.81zM1364.84,555.57v-4.28h3.4v4.28zM1368.64,555.7v-2.47h3.4v2.47zM1372.43,555.7v-2.14h3.4v2.14zM1376.23,555.57v-4.28h3.4v4.28zM1380.03,555.7v-0.78h3.4v0.78zM1383.83,555.7v-2.14h3.4v2.14zM1387.62,555.49v-7.58h3.4v7.58zM1391.42,555.7v-2.81h3.4v2.81zM1395.22,555.7v-2.47h3.4v2.47zM1399.02,554.92v-10.74h3.4v10.74zM1402.81,555.7v-1.29h3.4v1.29zM1406.61,555.7v-1.63h3.4v1.63zM1410.41,555.7v-2.14h3.4v2.14zM1414.21,555.7v-2.81h3.4v2.81zM1418,555.7v-3.49h3.4v3.49zM1421.8,555.7v-0.78h3.4v0.78zM1425.6,555.7v-0.95h3.4v0.95zM1429.39,555.7v-3.15h3.4v3.15zM1433.19,555.7v-2.47h3.4v2.47zM1436.99,555.7v-3.15h3.4v3.15zM1440.79,555.7v-1.29h3.4v1.29zM1444.58,555.7v-2.14h3.4v2.14zM1448.38,555.57v-4.28h3.4v4.28zM1452.18,555.6v-3.13h3.4v3.13zM1455.98,555.54v-5.44h3.4v5.44zM1459.77,555.7v-1.29h3.4v1.29zM1463.57,555.7v-0.95h3.4v0.95zM1467.37,555.7v-0.78h3.4v0.78zM1471.17,555.7v-2.47h3.4v2.47zM1474.96,555.7v-2.47h3.4v2.47zM1478.76,555.7v-1.29h3.4v1.29zM1482.56,555.7v-2.14h3.4v2.14zM1486.36,555.7v-3.15h3.4v3.15zM1490.15,555.7v-1.8h3.4v1.8zM1493.95,555.7v-1.29h3.4v1.29zM1497.75,555.7v-1.29h3.4v1.29zM1501.54,555.7v-0.45h3.4v0.45zM1505.34,555.7v-0.78h3.4v0.78zM1509.14,555.54v-5.44h3.4v5.44zM1512.94,555.7v-1.8h3.4v1.8zM1516.73,555.7v-0.78h3.4v0.78zM1520.53,555.7v-0.95h3.4v0.95zM1524.33,555.7v-2.14h3.4v2.14zM1528.13,555.7v-0.78h3.4v0.78zM1531.92,555.7v-3.15h3.4v3.15zM1535.72,555.7v-0.45h3.4v0.45zM1539.52,555.7v-1.29h3.4v1.29zM1543.32,555.7v-2.14h3.4v2.14zM1547.11,555.7v-2.14h3.4v2.14zM1550.91,555.7v-0.78h3.4v0.78zM1554.71,555.7v-2.47h3.4v2.47zM1558.51,555.7v-1.29h3.4v1.29zM1562.3,555.7v-0.95h3.4v0.95z" fill="#528D33"/>
<path d="M988.9,555.7v-0.16h3.4v0.16zM992.7,555.7v-0.13h3.4v0.13zM996.49,555.7v-9.55h3.4v9.55zM1000.29,555.7v-0.15h3.4v0.15zM1004.09,555.7v-0.25h3.4v0.25zM1007.89,555.7v-0.11h3.4v0.11zM1011.68,555.7v-0.15h3.4v0.15zM1019.28,555.7v-0.19h3.4v0.19zM1026.87,555.7v-0.19h3.4v0.19zM1034.47,555.7v-0.16h3.4v0.16zM1042.06,555.7v-11.43h3.4v11.43zM1045.86,555.7v-0.19h3.4v0.19zM1053.46,555.7v-0.41h3.4v0.41zM1061.05,555.7v-0.1h3.4v0.1zM1064.85,555.7v-0.12h3.4v0.12zM1076.24,555.7v-0.13h3.4v0.13zM1083.83,555.7v-0.11h3.4v0.11zM1087.63,555.7v-0.13h3.4v0.13zM1091.43,555.7v-0.11h3.4v0.11zM1102.82,555.7v-0.16h3.4v0.16zM1110.42,555.7v-0.11h3.4v0.11zM1133.2,555.7v-0.18h3.4v0.18zM1140.79,555.7v-0.27h3.4v0.27zM1148.39,555.7v-0.53h3.4v0.53zM1174.97,555.7v-0.28h3.4v0.28zM1182.57,555.7v-0.13h3.4v0.13zM1186.36,555.7v-0.1h3.4v0.1zM1209.15,555.7v-0.11h3.4v0.11zM1212.94,555.7v-1.69h3.4v1.69zM1231.93,555.7v-0.12h3.4v0.12zM1239.53,555.7v-0.16h3.4v0.16zM1273.7,555.7v-13.31h3.4v13.31zM1277.5,555.7v-0.39h3.4v0.39zM1281.3,555.7v-19.05h3.4v19.05zM1285.09,555.7v-0.13h3.4v0.13zM1288.89,555.7v-11.63h3.4v11.63zM1292.69,555.7v-0.23h3.4v0.23zM1300.28,555.7v-7.42h3.4v7.42zM1307.88,555.7v-0.19h3.4v0.19zM1311.68,555.7v-2.27h3.4v2.27zM1315.47,555.7v-2.25h3.4v2.25zM1319.27,555.7v-0.17h3.4v0.17zM1330.66,555.7v-3.62h3.4v3.62zM1334.46,555.7v-0.24h3.4v0.24zM1342.06,555.7v-0.23h3.4v0.23zM1349.65,555.7v-7.34h3.4v7.34zM1364.84,555.7v-0.13h3.4v0.13zM1376.23,555.7v-0.13h3.4v0.13zM1387.62,555.7v-0.21h3.4v0.21zM1399.02,555.7v-0.37h3.4v0.37zM1448.38,555.7v-0.13h3.4v0.13zM1452.18,555.7v-0.1h3.4v0.1zM1455.98,555.7v-0.16h3.4v0.16zM1509.14,555.7v-0.16h3.4v0.16z" fill="#3B66A6"/>
<path d="M996.49,546.15v-1.49h3.4v1.49zM1042.06,544.27v-1.36h3.4v1.36zM1053.46,555.29v-0.34h3.4v0.34zM1148.39,555.17v-0.44h3.4v0.44zM1273.7,542.39v-2.15h3.4v2.15zM1277.5,555.31v-0.33h3.4v0.33zM1281.3,536.65v-2.51h3.4v2.51zM1288.89,544.07v-1.82h3.4v1.82zM1300.28,548.28v-1.09h3.4v1.09zM1311.68,553.43v-0.47h3.4v0.47zM1315.47,553.45v-0.56h3.4v0.56zM1330.66,552.08v-0.65h3.4v0.65zM1349.65,548.36v-0.92h3.4v0.92zM1399.02,555.33v-0.31h3.4v0.31z" fill="#55298A"/>
<path d="M996.49,544.66v-0.48h3.4v0.48zM1042.06,542.91v-0.44h3.4v0.44zM1053.46,554.96v-0.11h3.4v0.11zM1148.39,554.72v-0.14h3.4v0.14zM1273.7,540.24v-0.69h3.4v0.69zM1277.5,554.98v-0.1h3.4v0.1zM1281.3,534.14v-0.8h3.4v0.8zM1288.89,542.25v-0.58h3.4v0.58zM1300.28,547.19v-0.35h3.4v0.35zM1311.68,552.95v-0.15h3.4v0.15zM1315.47,552.89v-0.18h3.4v0.18zM1330.66,551.43v-0.21h3.4v0.21zM1349.65,547.44v-0.29h3.4v0.29zM1399.02,555.02v-0.1h3.4v0.1z" fill="#FFF68F"/>
<path d="M988.9,549.94v-0.7h3.4v0.7zM992.7,551.12v-0.7h3.4v0.7zM996.49,500.01v-2.69h3.4v2.69zM1000.29,550.44v-0.7h3.4v0.7zM1004.09,546.22v-0.7h3.4v0.7zM1007.89,552.13v-0.7h3.4v0.7zM1011.68,550.27v-0.7h3.4v0.7zM1015.48,552.21v-0.4h3.4v0.4zM1019.28,548.92v-0.7h3.4v0.7zM1023.08,553.23v-0.4h3.4v0.4zM1026.87,548.75v-0.7h3.4v0.7zM1030.67,552.21v-0.4h3.4v0.4zM1034.47,550.11v-0.7h3.4v0.7zM1038.27,553.56v-0.4h3.4v0.4zM1042.06,504.9v-2.45h3.4v2.45zM1045.86,548.75v-0.7h3.4v0.7zM1049.66,553.06v-0.4h3.4v0.4zM1053.46,543.08v-0.61h3.4v0.61zM1057.25,553.9v-0.4h3.4v0.4zM1061.05,552.47v-0.7h3.4v0.7zM1064.85,551.8v-0.7h3.4v0.7zM1068.64,553.23v-0.4h3.4v0.4zM1072.44,554.41v-0.4h3.4v0.4zM1076.24,551.12v-0.7h3.4v0.7zM1080.04,552.21v-0.4h3.4v0.4zM1083.83,552.13v-0.7h3.4v0.7zM1087.63,551.29v-0.7h3.4v0.7zM1091.43,552.13v-0.7h3.4v0.7zM1095.23,553.56v-0.4h3.4v0.4zM1099.02,553.56v-0.4h3.4v0.4zM1102.82,550.11v-0.7h3.4v0.7zM1106.62,553.56v-0.4h3.4v0.4zM1110.42,552.13v-0.7h3.4v0.7zM1114.21,554.41v-0.4h3.4v0.4zM1118.01,554.41v-0.4h3.4v0.4zM1121.81,553.73v-0.4h3.4v0.4zM1125.61,553.56v-0.4h3.4v0.4zM1129.4,553.73v-0.4h3.4v0.4zM1133.2,549.09v-0.7h3.4v0.7zM1137,553.23v-0.4h3.4v0.4zM1140.79,545.37v-0.7h3.4v0.7zM1144.59,554.41v-0.4h3.4v0.4zM1148.39,539.14v-0.8h3.4v0.8zM1152.19,553.06v-0.4h3.4v0.4zM1155.98,554.75v-0.4h3.4v0.4zM1159.78,553.56v-0.4h3.4v0.4zM1163.58,553.56v-0.4h3.4v0.4zM1167.38,552.89v-0.4h3.4v0.4zM1171.17,552.55v-0.4h3.4v0.4zM1174.97,545.2v-0.7h3.4v0.7zM1178.77,554.41v-0.4h3.4v0.4zM1182.57,551.29v-0.7h3.4v0.7zM1186.36,552.47v-0.7h3.4v0.7zM1190.16,553.56v-0.4h3.4v0.4zM1193.96,553.9v-0.4h3.4v0.4zM1197.76,552.72v-0.4h3.4v0.4zM1201.55,552.72v-0.4h3.4v0.4zM1205.35,552.89v-0.4h3.4v0.4zM1209.15,552.13v-0.7h3.4v0.7zM1212.94,552.47v-0.7h3.4v0.7zM1216.74,553.56v-0.4h3.4v0.4zM1220.54,553.56v-0.4h3.4v0.4zM1224.34,553.23v-0.4h3.4v0.4zM1228.13,554.41v-0.4h3.4v0.4zM1231.93,551.8v-0.7h3.4v0.7zM1235.73,553.56v-0.4h3.4v0.4zM1239.53,550.11v-0.7h3.4v0.7zM1243.32,554.75v-0.4h3.4v0.4zM1247.12,555.25v-0.4h3.4v0.4zM1250.92,552.55v-0.4h3.4v0.4zM1254.72,553.9v-0.4h3.4v0.4zM1258.51,554.41v-0.4h3.4v0.4zM1262.31,554.41v-0.4h3.4v0.4zM1266.11,552.55v-0.4h3.4v0.4zM1269.91,552.21v-0.4h3.4v0.4zM1273.7,475.56v-3.87h3.4v3.87zM1277.5,543.55v-0.59h3.4v0.59zM1281.3,462.15v-4.51h3.4v4.51zM1285.09,551.12v-0.7h3.4v0.7zM1288.89,487.86v-3.27h3.4v3.27zM1292.69,547.06v-0.7h3.4v0.7zM1296.49,554.41v-0.4h3.4v0.4zM1300.28,515v-1.96h3.4v1.96zM1304.08,552.72v-0.4h3.4v0.4zM1307.88,548.75v-0.7h3.4v0.7zM1311.68,538.03v-0.85h3.4v0.85zM1315.47,534.72v-1.01h3.4v1.01zM1319.27,549.43v-0.7h3.4v0.7zM1323.07,553.56v-0.4h3.4v0.4zM1326.87,554.41v-0.4h3.4v0.4zM1330.66,531.56v-1.16h3.4v1.16zM1334.46,546.89v-0.7h3.4v0.7zM1338.26,553.23v-0.4h3.4v0.4zM1342.06,547.06v-0.7h3.4v0.7zM1345.85,553.23v-0.4h3.4v0.4zM1349.65,521.47v-1.65h3.4v1.65zM1353.45,552.72v-0.4h3.4v0.4zM1357.24,552.55v-0.4h3.4v0.4zM1361.04,552.89v-0.4h3.4v0.4zM1364.84,551.29v-0.7h3.4v0.7zM1368.64,553.23v-0.4h3.4v0.4zM1372.43,553.56v-0.4h3.4v0.4zM1376.23,551.29v-0.7h3.4v0.7zM1380.03,554.92v-0.4h3.4v0.4zM1383.83,553.56v-0.4h3.4v0.4zM1387.62,547.91v-0.7h3.4v0.7zM1391.42,552.89v-0.4h3.4v0.4zM1395.22,553.23v-0.4h3.4v0.4zM1399.02,544.18v-0.56h3.4v0.56zM1402.81,554.41v-0.4h3.4v0.4zM1406.61,554.07v-0.4h3.4v0.4zM1410.41,553.56v-0.4h3.4v0.4zM1414.21,552.89v-0.4h3.4v0.4zM1418,552.21v-0.4h3.4v0.4zM1421.8,554.92v-0.4h3.4v0.4zM1425.6,554.75v-0.4h3.4v0.4zM1429.39,552.55v-0.4h3.4v0.4zM1433.19,553.23v-0.4h3.4v0.4zM1436.99,552.55v-0.4h3.4v0.4zM1440.79,554.41v-0.4h3.4v0.4zM1444.58,553.56v-0.4h3.4v0.4zM1448.38,551.29v-0.7h3.4v0.7zM1452.18,552.47v-0.7h3.4v0.7zM1455.98,550.11v-0.7h3.4v0.7zM1459.77,554.41v-0.4h3.4v0.4zM1463.57,554.75v-0.4h3.4v0.4zM1467.37,554.92v-0.4h3.4v0.4zM1471.17,553.23v-0.4h3.4v0.4zM1474.96,553.23v-0.4h3.4v0.4zM1478.76,554.41v-0.4h3.4v0.4zM1482.56,553.56v-0.4h3.4v0.4zM1486.36,552.55v-0.4h3.4v0.4zM1490.15,553.9v-0.4h3.4v0.4zM1493.95,554.41v-0.4h3.4v0.4zM1497.75,554.41v-0.4h3.4v0.4zM1501.54,555.25v-0.4h3.4v0.4zM1505.34,554.92v-0.4h3.4v0.4zM1509.14,550.11v-0.7h3.4v0.7zM1512.94,553.9v-0.4h3.4v0.4zM1516.73,554.92v-0.4h3.4v0.4zM1520.53,554.75v-0.4h3.4v0.4zM1524.33,553.56v-0.4h3.4v0.4zM1528.13,554.92v-0.4h3.4v0.4zM1531.92,552.55v-0.4h3.4v0.4zM1535.72,555.25v-0.4h3.4v0.4zM1539.52,554.41v-0.4h3.4v0.4zM1543.32,553.56v-0.4h3.4v0.4zM1547.11,553.56v-0.4h3.4v0.4zM1550.91,554.92v-0.4h3.4v0.4zM1554.71,553.23v-0.4h3.4v0.4zM1558.51,554.41v-0.4h3.4v0.4zM1562.3,554.75v-0.4h3.4v0.4z" fill="#BE1818"/>
<path d="M988.9,549.24v-0.3h3.4v0.3zM992.7,550.42v-0.3h3.4v0.3zM996.49,497.33v-1.31h3.4v1.31zM1000.29,549.74v-0.3h3.4v0.3zM1004.09,545.52v-0.3h3.4v0.3zM1007.89,551.43v-0.3h3.4v0.3zM1011.68,549.57v-0.3h3.4v0.3zM1019.28,548.22v-0.3h3.4v0.3zM1026.87,548.05v-0.3h3.4v0.3zM1034.47,549.41v-0.3h3.4v0.3zM1042.06,502.45v-1.2h3.4v1.2zM1045.86,548.05v-0.3h3.4v0.3zM1053.46,542.47v-0.3h3.4v0.3zM1061.05,551.77v-0.3h3.4v0.3zM1064.85,551.1v-0.3h3.4v0.3zM1076.24,550.42v-0.3h3.4v0.3zM1083.83,551.43v-0.3h3.4v0.3zM1087.63,550.59v-0.3h3.4v0.3zM1091.43,551.43v-0.3h3.4v0.3zM1102.82,549.41v-0.3h3.4v0.3zM1110.42,551.43v-0.3h3.4v0.3zM1133.2,548.39v-0.3h3.4v0.3zM1140.79,544.67v-0.3h3.4v0.3zM1148.39,538.34v-0.39h3.4v0.39zM1174.97,544.5v-0.3h3.4v0.3zM1182.57,550.59v-0.3h3.4v0.3zM1186.36,551.77v-0.3h3.4v0.3zM1209.15,551.43v-0.3h3.4v0.3zM1212.94,551.77v-0.3h3.4v0.3zM1231.93,551.1v-0.3h3.4v0.3zM1239.53,549.41v-0.3h3.4v0.3zM1273.7,471.69v-1.89h3.4v1.89zM1277.5,542.97v-0.29h3.4v0.29zM1281.3,457.64v-2.21h3.4v2.21zM1285.09,550.42v-0.3h3.4v0.3zM1288.89,484.59v-1.6h3.4v1.6zM1292.69,546.36v-0.3h3.4v0.3zM1300.28,513.04v-0.96h3.4v0.96zM1307.88,548.05v-0.3h3.4v0.3zM1311.68,537.18v-0.42h3.4v0.42zM1315.47,533.71v-0.49h3.4v0.49zM1319.27,548.73v-0.3h3.4v0.3zM1330.66,530.4v-0.57h3.4v0.57zM1334.46,546.19v-0.3h3.4v0.3zM1342.06,546.36v-0.3h3.4v0.3zM1349.65,519.82v-0.81h3.4v0.81zM1364.84,550.59v-0.3h3.4v0.3zM1376.23,550.59v-0.3h3.4v0.3zM1387.62,547.21v-0.3h3.4v0.3zM1399.02,543.63v-0.27h3.4v0.27zM1448.38,550.59v-0.3h3.4v0.3zM1452.18,551.77v-0.3h3.4v0.3zM1455.98,549.41v-0.3h3.4v0.3zM1509.14,549.41v-0.3h3.4v0.3z" fill="#E1741E"/>
<defs><pattern id="Ep" x="988.43" y="0" width="3.8" height="10" patternUnits="userSpaceOnUse"><rect x="0" y="0" width="0.55" height="10" fill="#fff" fill-opacity="0.42"/></pattern></defs>
<rect x="988.7" y="562.8" width="577.2" height="19.1" fill="#CCCCCC"/>
<rect x="988.7" y="582.46" width="577.2" height="19.1" fill="#CCCCCC"/>
<rect x="988.7" y="602.13" width="577.2" height="19.1" fill="#CCCCCC"/>
<rect x="988.7" y="621.79" width="577.2" height="19.1" fill="#CCCCCC"/>
<rect x="988.7" y="641.46" width="577.2" height="19.1" fill="#CCCCCC"/>
<rect x="988.7" y="661.12" width="577.2" height="19.1" fill="#CCCCCC"/>
<rect x="988.7" y="680.79" width="577.2" height="19.1" fill="#CCCCCC"/>
<rect x="988.7" y="700.45" width="577.2" height="19.1" fill="#CCCCCC"/>
<rect x="988.7" y="720.12" width="577.2" height="19.1" fill="#CCCCCC"/>
<rect x="988.7" y="739.78" width="577.2" height="19.1" fill="#CCCCCC"/>
<rect x="988.7" y="759.45" width="577.2" height="19.1" fill="#CCCCCC"/>
<rect x="988.7" y="779.12" width="577.2" height="19.1" fill="#CCCCCC"/>
<rect x="988.7" y="798.78" width="577.2" height="19.1" fill="#CCCCCC"/>
<rect x="988.7" y="818.44" width="577.2" height="19.1" fill="#CCCCCC"/>
<rect x="988.7" y="838.11" width="577.2" height="19.1" fill="#CCCCCC"/>
<rect x="988.7" y="857.77" width="577.2" height="19.1" fill="#CCCCCC"/>
<rect x="988.7" y="877.44" width="577.2" height="19.1" fill="#CCCCCC"/>
<rect x="988.7" y="897.11" width="577.2" height="19.1" fill="#CCCCCC"/>
<rect x="988.7" y="916.77" width="577.2" height="19.1" fill="#CCCCCC"/>
<rect x="988.7" y="936.43" width="577.2" height="19.1" fill="#CCCCCC"/>
<path d="M988.7,562.8h7.59v19.1h-7.59zM1000.09,562.8h3.8v19.1h-3.8zM1015.28,562.8h11.39v19.1h-11.39zM1030.47,562.8h15.19v19.1h-15.19zM1053.26,562.8h7.59v19.1h-7.59zM1072.24,562.8h3.8v19.1h-3.8zM1079.84,562.8h3.8v19.1h-3.8zM1087.43,562.8h3.8v19.1h-3.8zM1095.03,562.8h3.8v19.1h-3.8zM1106.42,562.8h3.8v19.1h-3.8zM1114.01,562.8h15.19v19.1h-15.19zM1136.8,562.8h3.8v19.1h-3.8zM1144.39,562.8h3.8v19.1h-3.8zM1151.99,562.8h3.8v19.1h-3.8zM1159.58,562.8h11.39v19.1h-11.39zM1182.37,562.8h3.8v19.1h-3.8zM1189.96,562.8h3.8v19.1h-3.8zM1197.56,562.8h3.8v19.1h-3.8zM1205.15,562.8h7.59v19.1h-7.59zM1216.54,562.8h7.59v19.1h-7.59zM1227.93,562.8h3.8v19.1h-3.8zM1250.72,562.8h7.59v19.1h-7.59zM1262.11,562.8h7.59v19.1h-7.59zM988.7,582.46h3.8v19.1h-3.8zM1000.09,582.46h3.8v19.1h-3.8zM1007.69,582.46h7.59v19.1h-7.59zM1022.88,582.46h3.8v19.1h-3.8zM1038.07,582.46h3.8v19.1h-3.8zM1053.26,582.46h11.39v19.1h-11.39zM1072.24,582.46h3.8v19.1h-3.8zM1083.63,582.46h3.8v19.1h-3.8zM1091.23,582.46h3.8v19.1h-3.8zM1098.82,582.46h3.8v19.1h-3.8zM1106.42,582.46h3.8v19.1h-3.8zM1114.01,582.46h11.39v19.1h-11.39zM1269.71,582.46h3.8v19.1h-3.8zM1284.89,582.46h3.8v19.1h-3.8zM1296.29,582.46h3.8v19.1h-3.8zM1303.88,582.46h11.39v19.1h-11.39zM1319.07,582.46h15.19v19.1h-15.19zM1353.25,582.46h3.8v19.1h-3.8zM1360.84,582.46h7.59v19.1h-7.59zM1372.23,582.46h15.19v19.1h-15.19zM988.7,602.13h7.59v19.1h-7.59zM1000.09,602.13h3.8v19.1h-3.8zM1007.69,602.13h18.99v19.1h-18.99zM1030.47,602.13h3.8v19.1h-3.8zM1125.41,602.13h7.59v19.1h-7.59zM1136.8,602.13h11.39v19.1h-11.39zM1269.71,602.13h3.8v19.1h-3.8zM1284.89,602.13h3.8v19.1h-3.8zM1296.29,602.13h3.8v19.1h-3.8zM1307.68,602.13h3.8v19.1h-3.8zM1387.42,602.13h11.39v19.1h-11.39zM1402.61,602.13h15.19v19.1h-15.19zM1421.6,602.13h11.39v19.1h-11.39zM996.29,621.79h3.8v19.1h-3.8zM1007.69,621.79h3.8v19.1h-3.8zM1015.28,621.79h3.8v19.1h-3.8zM1038.07,621.79h3.8v19.1h-3.8zM1057.05,621.79h11.39v19.1h-11.39zM1072.24,621.79h3.8v19.1h-3.8zM1125.41,621.79h3.8v19.1h-3.8zM1163.38,621.79h7.59v19.1h-7.59zM1277.3,621.79h3.8v19.1h-3.8zM1284.89,621.79h3.8v19.1h-3.8zM1315.27,621.79h3.8v19.1h-3.8zM1322.87,621.79h7.59v19.1h-7.59zM1387.42,621.79h11.39v19.1h-11.39zM1432.99,621.79h15.19v19.1h-15.19zM988.7,641.46h3.8v19.1h-3.8zM1019.08,641.46h7.59v19.1h-7.59zM1034.27,641.46h11.39v19.1h-11.39zM1076.04,641.46h7.59v19.1h-7.59zM1129.2,641.46h3.8v19.1h-3.8zM1159.58,641.46h3.8v19.1h-3.8zM1170.97,641.46h3.8v19.1h-3.8zM1178.57,641.46h3.8v19.1h-3.8zM1296.29,641.46h3.8v19.1h-3.8zM1311.48,641.46h3.8v19.1h-3.8zM1387.42,641.46h3.8v19.1h-3.8zM1398.82,641.46h3.8v19.1h-3.8zM1455.78,641.46h18.99v19.1h-18.99zM988.7,661.12h3.8v19.1h-3.8zM1049.46,661.12h7.59v19.1h-7.59zM1076.04,661.12h3.8v19.1h-3.8zM1083.63,661.12h3.8v19.1h-3.8zM1125.41,661.12h3.8v19.1h-3.8zM1136.8,661.12h3.8v19.1h-3.8zM1182.37,661.12h15.19v19.1h-15.19zM1288.69,661.12h3.8v19.1h-3.8zM1315.27,661.12h7.59v19.1h-7.59zM1345.65,661.12h3.8v19.1h-3.8zM1391.22,661.12h3.8v19.1h-3.8zM1402.61,661.12h3.8v19.1h-3.8zM1432.99,661.12h3.8v19.1h-3.8zM1474.76,661.12h15.19v19.1h-15.19zM1087.43,680.79h7.59v19.1h-7.59zM1129.2,680.79h3.8v19.1h-3.8zM1163.38,680.79h3.8v19.1h-3.8zM1182.37,680.79h3.8v19.1h-3.8zM1189.96,680.79h3.8v19.1h-3.8zM1205.15,680.79h3.8v19.1h-3.8zM1277.3,680.79h3.8v19.1h-3.8zM1303.88,680.79h3.8v19.1h-3.8zM1311.48,680.79h7.59v19.1h-7.59zM1345.65,680.79h3.8v19.1h-3.8zM1353.25,680.79h3.8v19.1h-3.8zM1387.42,680.79h3.8v19.1h-3.8zM1448.18,680.79h15.19v19.1h-15.19zM1493.75,680.79h3.8v19.1h-3.8zM988.7,700.45h3.8v19.1h-3.8zM996.29,700.45h3.8v19.1h-3.8zM1019.08,700.45h3.8v19.1h-3.8zM1034.27,700.45h7.59v19.1h-7.59zM1140.59,700.45h7.59v19.1h-7.59zM1167.18,700.45h3.8v19.1h-3.8zM1193.76,700.45h3.8v19.1h-3.8zM1288.69,700.45h7.59v19.1h-7.59zM1300.08,700.45h3.8v19.1h-3.8zM1311.48,700.45h7.59v19.1h-7.59zM1330.46,700.45h3.8v19.1h-3.8zM1360.84,700.45h7.59v19.1h-7.59zM1387.42,700.45h3.8v19.1h-3.8zM1398.82,700.45h3.8v19.1h-3.8zM1448.18,700.45h3.8v19.1h-3.8zM1501.34,700.45h7.59v19.1h-7.59zM1315.27,720.12h3.8v19.1h-3.8zM996.29,739.78h3.8v19.1h-3.8zM1079.84,739.78h3.8v19.1h-3.8zM1159.58,739.78h3.8v19.1h-3.8zM1167.18,739.78h3.8v19.1h-3.8zM1220.34,739.78h3.8v19.1h-3.8zM1269.71,739.78h3.8v19.1h-3.8zM1284.89,739.78h11.39v19.1h-11.39zM1300.08,739.78h7.59v19.1h-7.59zM1311.48,739.78h3.8v19.1h-3.8zM1319.07,739.78h3.8v19.1h-3.8zM1360.84,739.78h3.8v19.1h-3.8zM1387.42,739.78h3.8v19.1h-3.8zM1406.41,739.78h3.8v19.1h-3.8zM1444.38,739.78h11.39v19.1h-11.39zM1049.46,759.45h3.8v19.1h-3.8zM1057.05,759.45h3.8v19.1h-3.8zM1102.62,759.45h7.59v19.1h-7.59zM1151.99,759.45h3.8v19.1h-3.8zM1182.37,759.45h3.8v19.1h-3.8zM1224.14,759.45h3.8v19.1h-3.8zM1277.3,759.45h3.8v19.1h-3.8zM1319.07,759.45h3.8v19.1h-3.8zM1330.46,759.45h3.8v19.1h-3.8zM1398.82,759.45h3.8v19.1h-3.8zM1474.76,759.45h3.8v19.1h-3.8zM1527.93,759.45h3.8v19.1h-3.8zM988.7,779.12h7.59v19.1h-7.59zM1000.09,779.12h3.8v19.1h-3.8zM1034.27,779.12h3.8v19.1h-3.8zM1053.26,779.12h3.8v19.1h-3.8zM1076.04,779.12h3.8v19.1h-3.8zM1102.62,779.12h3.8v19.1h-3.8zM1110.22,779.12h3.8v19.1h-3.8zM1136.8,779.12h7.59v19.1h-7.59zM1284.89,779.12h3.8v19.1h-3.8zM1292.49,779.12h3.8v19.1h-3.8zM1311.48,779.12h3.8v19.1h-3.8zM1349.45,779.12h3.8v19.1h-3.8zM1368.44,779.12h3.8v19.1h-3.8zM1391.22,779.12h3.8v19.1h-3.8zM1535.52,779.12h7.59v19.1h-7.59zM988.7,798.78h3.8v19.1h-3.8zM1007.69,798.78h3.8v19.1h-3.8zM1026.67,798.78h3.8v19.1h-3.8zM1034.27,798.78h3.8v19.1h-3.8zM1125.41,798.78h3.8v19.1h-3.8zM1140.59,798.78h3.8v19.1h-3.8zM1197.56,798.78h3.8v19.1h-3.8zM1277.3,798.78h3.8v19.1h-3.8zM1288.69,798.78h3.8v19.1h-3.8zM1334.26,798.78h3.8v19.1h-3.8zM1372.23,798.78h3.8v19.1h-3.8zM1387.42,798.78h3.8v19.1h-3.8zM1512.74,798.78h3.8v19.1h-3.8zM1543.12,798.78h3.8v19.1h-3.8zM988.7,818.44h3.8v19.1h-3.8zM1000.09,818.44h3.8v19.1h-3.8zM1087.43,818.44h3.8v19.1h-3.8zM1140.59,818.44h3.8v19.1h-3.8zM1163.38,818.44h3.8v19.1h-3.8zM1170.97,818.44h3.8v19.1h-3.8zM1227.93,818.44h3.8v19.1h-3.8zM1269.71,818.44h3.8v19.1h-3.8zM1546.91,818.44h3.8v19.1h-3.8zM988.7,838.11h3.8v19.1h-3.8zM1019.08,838.11h3.8v19.1h-3.8zM1038.07,838.11h3.8v19.1h-3.8zM1053.26,838.11h3.8v19.1h-3.8zM1125.41,838.11h3.8v19.1h-3.8zM1220.34,838.11h3.8v19.1h-3.8zM1231.73,838.11h3.8v19.1h-3.8zM1300.08,838.11h3.8v19.1h-3.8zM1311.48,838.11h3.8v19.1h-3.8zM1398.82,838.11h3.8v19.1h-3.8zM1406.41,838.11h3.8v19.1h-3.8zM1554.51,838.11h3.8v19.1h-3.8zM1076.04,857.77h3.8v19.1h-3.8zM1102.62,857.77h3.8v19.1h-3.8zM1125.41,857.77h7.59v19.1h-7.59zM1140.59,857.77h7.59v19.1h-7.59zM1167.18,857.77h3.8v19.1h-3.8zM1186.16,857.77h3.8v19.1h-3.8zM1235.53,857.77h3.8v19.1h-3.8zM1292.49,857.77h3.8v19.1h-3.8zM1315.27,857.77h3.8v19.1h-3.8zM1349.45,857.77h7.59v19.1h-7.59zM1497.55,857.77h3.8v19.1h-3.8zM996.29,877.44h3.8v19.1h-3.8zM1026.67,877.44h3.8v19.1h-3.8zM1049.46,877.44h3.8v19.1h-3.8zM1060.85,877.44h3.8v19.1h-3.8zM1083.63,877.44h7.59v19.1h-7.59zM1205.15,877.44h3.8v19.1h-3.8zM1216.54,877.44h3.8v19.1h-3.8zM1227.93,877.44h3.8v19.1h-3.8zM1300.08,877.44h3.8v19.1h-3.8zM1315.27,877.44h3.8v19.1h-3.8zM1330.46,877.44h3.8v19.1h-3.8zM1387.42,877.44h3.8v19.1h-3.8zM1398.82,877.44h3.8v19.1h-3.8zM1444.38,877.44h7.59v19.1h-7.59zM1000.09,897.11h3.8v19.1h-3.8zM1034.27,897.11h3.8v19.1h-3.8zM1076.04,897.11h3.8v19.1h-3.8zM1110.22,897.11h3.8v19.1h-3.8zM1189.96,897.11h3.8v19.1h-3.8zM1243.12,897.11h3.8v19.1h-3.8zM1277.3,897.11h3.8v19.1h-3.8zM1300.08,897.11h3.8v19.1h-3.8zM1311.48,897.11h3.8v19.1h-3.8zM1319.07,897.11h3.8v19.1h-3.8zM1398.82,897.11h3.8v19.1h-3.8zM1497.55,897.11h3.8v19.1h-3.8zM1512.74,897.11h3.8v19.1h-3.8zM1562.1,897.11h3.8v19.1h-3.8zM988.7,916.77h3.8v19.1h-3.8zM1053.26,916.77h3.8v19.1h-3.8zM1083.63,916.77h3.8v19.1h-3.8zM1095.03,916.77h3.8v19.1h-3.8zM1205.15,916.77h7.59v19.1h-7.59zM1269.71,916.77h3.8v19.1h-3.8zM1372.23,916.77h3.8v19.1h-3.8zM1524.13,916.77h3.8v19.1h-3.8zM996.29,936.43h3.8v19.1h-3.8zM1049.46,936.43h3.8v19.1h-3.8zM1057.05,936.43h3.8v19.1h-3.8zM1064.65,936.43h3.8v19.1h-3.8zM1114.01,936.43h3.8v19.1h-3.8zM1189.96,936.43h3.8v19.1h-3.8zM1212.74,936.43h3.8v19.1h-3.8zM1300.08,936.43h3.8v19.1h-3.8zM1307.68,936.43h3.8v19.1h-3.8zM1315.27,936.43h3.8v19.1h-3.8zM1349.45,936.43h3.8v19.1h-3.8zM1410.21,936.43h3.8v19.1h-3.8zM1470.97,936.43h3.8v19.1h-3.8zM1543.12,936.43h3.8v19.1h-3.8z" fill="#528D33"/>
<path d="M996.29,562.8h3.8v19.1h-3.8zM1003.89,562.8h3.8v19.1h-3.8zM1045.66,562.8h3.8v19.1h-3.8zM1133,562.8h3.8v19.1h-3.8zM1148.19,562.8h3.8v19.1h-3.8zM1174.77,562.8h3.8v19.1h-3.8zM1201.35,562.8h3.8v19.1h-3.8zM1239.33,562.8h11.39v19.1h-11.39zM992.5,582.46h7.59v19.1h-7.59zM1003.89,582.46h3.8v19.1h-3.8zM1015.28,582.46h7.59v19.1h-7.59zM1026.67,582.46h3.8v19.1h-3.8zM1034.27,582.46h3.8v19.1h-3.8zM1041.86,582.46h11.39v19.1h-11.39zM1064.65,582.46h7.59v19.1h-7.59zM1076.04,582.46h7.59v19.1h-7.59zM1087.43,582.46h3.8v19.1h-3.8zM1102.62,582.46h3.8v19.1h-3.8zM1110.22,582.46h3.8v19.1h-3.8zM1273.5,582.46h11.39v19.1h-11.39zM1288.69,582.46h7.59v19.1h-7.59zM1300.08,582.46h3.8v19.1h-3.8zM1315.27,582.46h3.8v19.1h-3.8zM1334.26,582.46h18.99v19.1h-18.99zM1357.04,582.46h3.8v19.1h-3.8zM1368.44,582.46h3.8v19.1h-3.8zM996.29,602.13h3.8v19.1h-3.8zM1003.89,602.13h3.8v19.1h-3.8zM1026.67,602.13h3.8v19.1h-3.8zM1133,602.13h3.8v19.1h-3.8zM1148.19,602.13h7.59v19.1h-7.59zM1273.5,602.13h11.39v19.1h-11.39zM1288.69,602.13h7.59v19.1h-7.59zM1300.08,602.13h7.59v19.1h-7.59zM1398.82,602.13h3.8v19.1h-3.8zM1417.8,602.13h3.8v19.1h-3.8zM988.7,621.79h7.59v19.1h-7.59zM1003.89,621.79h3.8v19.1h-3.8zM1011.48,621.79h3.8v19.1h-3.8zM1034.27,621.79h3.8v19.1h-3.8zM1045.66,621.79h7.59v19.1h-7.59zM1273.5,621.79h3.8v19.1h-3.8zM1281.1,621.79h3.8v19.1h-3.8zM1311.48,621.79h3.8v19.1h-3.8zM1319.07,621.79h3.8v19.1h-3.8zM992.5,641.46h3.8v19.1h-3.8zM1133,641.46h3.8v19.1h-3.8zM1174.77,641.46h3.8v19.1h-3.8zM1288.69,641.46h7.59v19.1h-7.59zM1338.06,641.46h7.59v19.1h-7.59zM1448.18,641.46h3.8v19.1h-3.8zM996.29,661.12h3.8v19.1h-3.8zM1003.89,661.12h3.8v19.1h-3.8zM1045.66,661.12h3.8v19.1h-3.8zM1197.56,661.12h3.8v19.1h-3.8zM1273.5,661.12h3.8v19.1h-3.8zM1300.08,661.12h3.8v19.1h-3.8zM1330.46,661.12h3.8v19.1h-3.8zM1349.45,661.12h3.8v19.1h-3.8zM1387.42,661.12h3.8v19.1h-3.8zM1436.79,661.12h3.8v19.1h-3.8zM1170.97,680.79h3.8v19.1h-3.8zM1201.35,680.79h3.8v19.1h-3.8zM1212.74,680.79h3.8v19.1h-3.8zM1300.08,680.79h3.8v19.1h-3.8zM1357.04,680.79h3.8v19.1h-3.8zM1406.41,680.79h3.8v19.1h-3.8zM1440.59,680.79h3.8v19.1h-3.8zM1489.95,680.79h3.8v19.1h-3.8zM1079.84,700.45h3.8v19.1h-3.8zM1269.71,700.45h7.59v19.1h-7.59zM1273.5,720.12h3.8v19.1h-3.8zM1288.69,720.12h3.8v19.1h-3.8zM1300.08,720.12h3.8v19.1h-3.8zM1508.94,720.12h7.59v19.1h-7.59zM988.7,739.78h3.8v19.1h-3.8zM1019.08,739.78h3.8v19.1h-3.8zM1041.86,739.78h7.59v19.1h-7.59zM1133,739.78h3.8v19.1h-3.8zM1148.19,739.78h3.8v19.1h-3.8zM1273.5,739.78h3.8v19.1h-3.8zM1281.1,739.78h3.8v19.1h-3.8zM988.7,759.45h7.59v19.1h-7.59zM1045.66,759.45h3.8v19.1h-3.8zM1076.04,759.45h3.8v19.1h-3.8zM1148.19,759.45h3.8v19.1h-3.8zM1288.69,759.45h7.59v19.1h-7.59zM996.29,779.12h3.8v19.1h-3.8zM1041.86,779.12h3.8v19.1h-3.8zM1281.1,779.12h3.8v19.1h-3.8zM1319.07,779.12h3.8v19.1h-3.8zM1508.94,779.12h3.8v19.1h-3.8zM1045.66,798.78h3.8v19.1h-3.8zM1053.26,798.78h3.8v19.1h-3.8zM1136.8,798.78h3.8v19.1h-3.8zM1148.19,798.78h3.8v19.1h-3.8zM1273.5,798.78h3.8v19.1h-3.8zM1281.1,798.78h3.8v19.1h-3.8zM1292.49,798.78h3.8v19.1h-3.8zM1300.08,798.78h3.8v19.1h-3.8zM1315.27,798.78h3.8v19.1h-3.8zM996.29,818.44h3.8v19.1h-3.8zM1003.89,818.44h3.8v19.1h-3.8zM1026.67,818.44h3.8v19.1h-3.8zM1201.35,818.44h3.8v19.1h-3.8zM1273.5,818.44h3.8v19.1h-3.8zM1281.1,818.44h3.8v19.1h-3.8zM1292.49,818.44h3.8v19.1h-3.8zM1338.06,818.44h3.8v19.1h-3.8zM1417.8,818.44h3.8v19.1h-3.8zM1508.94,818.44h3.8v19.1h-3.8zM996.29,838.11h3.8v19.1h-3.8zM1041.86,838.11h3.8v19.1h-3.8zM1076.04,838.11h3.8v19.1h-3.8zM1148.19,838.11h3.8v19.1h-3.8zM1174.77,838.11h3.8v19.1h-3.8zM1273.5,838.11h3.8v19.1h-3.8zM1281.1,838.11h3.8v19.1h-3.8zM1288.69,838.11h3.8v19.1h-3.8zM1357.04,838.11h3.8v19.1h-3.8zM1003.89,857.77h3.8v19.1h-3.8zM1148.19,857.77h3.8v19.1h-3.8zM1174.77,857.77h3.8v19.1h-3.8zM1239.33,857.77h3.8v19.1h-3.8zM1330.46,857.77h3.8v19.1h-3.8zM1341.86,857.77h3.8v19.1h-3.8zM1019.08,877.44h3.8v19.1h-3.8zM1273.5,877.44h3.8v19.1h-3.8zM1186.16,897.11h3.8v19.1h-3.8zM1273.5,897.11h3.8v19.1h-3.8zM1281.1,897.11h3.8v19.1h-3.8zM1288.69,897.11h3.8v19.1h-3.8zM1330.46,897.11h3.8v19.1h-3.8zM996.29,916.77h3.8v19.1h-3.8zM1148.19,916.77h3.8v19.1h-3.8zM1334.26,916.77h3.8v19.1h-3.8zM1353.25,916.77h3.8v19.1h-3.8zM1136.8,936.43h3.8v19.1h-3.8zM1277.3,936.43h7.59v19.1h-7.59zM1288.69,936.43h3.8v19.1h-3.8z" fill="#000000"/>
<path d="M1007.69,562.8h3.8v19.1h-3.8zM1064.65,562.8h3.8v19.1h-3.8zM1076.04,562.8h3.8v19.1h-3.8zM1083.63,562.8h3.8v19.1h-3.8zM1212.74,562.8h3.8v19.1h-3.8zM1258.31,562.8h3.8v19.1h-3.8zM1030.47,582.46h3.8v19.1h-3.8zM1095.03,582.46h3.8v19.1h-3.8zM1053.26,621.79h3.8v19.1h-3.8zM1068.44,621.79h3.8v19.1h-3.8zM1269.71,621.79h3.8v19.1h-3.8zM1269.71,641.46h3.8v19.1h-3.8zM1330.46,641.46h7.59v19.1h-7.59zM1000.09,661.12h3.8v19.1h-3.8zM1087.43,700.45h3.8v19.1h-3.8zM1410.21,700.45h3.8v19.1h-3.8zM1474.76,700.45h3.8v19.1h-3.8zM1497.55,700.45h3.8v19.1h-3.8zM1216.54,720.12h3.8v19.1h-3.8zM1303.88,720.12h3.8v19.1h-3.8zM1311.48,720.12h3.8v19.1h-3.8zM1322.87,720.12h3.8v19.1h-3.8zM1353.25,720.12h3.8v19.1h-3.8zM1414.01,720.12h3.8v19.1h-3.8zM1474.76,720.12h3.8v19.1h-3.8zM1520.33,720.12h3.8v19.1h-3.8zM1136.8,759.45h3.8v19.1h-3.8zM1432.99,759.45h3.8v19.1h-3.8zM1531.72,759.45h3.8v19.1h-3.8zM1083.63,818.44h3.8v19.1h-3.8zM1550.71,818.44h3.8v19.1h-3.8zM1432.99,838.11h3.8v19.1h-3.8zM988.7,857.77h3.8v19.1h-3.8zM1470.97,857.77h3.8v19.1h-3.8zM1288.69,916.77h3.8v19.1h-3.8zM1307.68,916.77h3.8v19.1h-3.8z" fill="#BE1818"/>
<path d="M1011.48,562.8h3.8v19.1h-3.8zM1049.46,562.8h3.8v19.1h-3.8zM1060.85,562.8h3.8v19.1h-3.8zM1091.23,562.8h3.8v19.1h-3.8zM1140.59,562.8h3.8v19.1h-3.8zM1178.57,562.8h3.8v19.1h-3.8zM1231.73,562.8h7.59v19.1h-7.59zM1000.09,621.79h3.8v19.1h-3.8zM1159.58,621.79h3.8v19.1h-3.8zM1334.26,720.12h3.8v19.1h-3.8zM1300.08,759.45h3.8v19.1h-3.8zM1524.13,759.45h3.8v19.1h-3.8zM1558.31,838.11h3.8v19.1h-3.8zM1034.27,916.77h3.8v19.1h-3.8zM1140.59,916.77h3.8v19.1h-3.8zM1000.09,936.43h3.8v19.1h-3.8z" fill="#E1741E"/>
<path d="M1102.62,562.8h3.8v19.1h-3.8zM1110.22,562.8h3.8v19.1h-3.8zM1129.2,562.8h3.8v19.1h-3.8zM1186.16,562.8h3.8v19.1h-3.8zM1224.14,562.8h3.8v19.1h-3.8zM1155.78,602.13h3.8v19.1h-3.8zM1041.86,621.79h3.8v19.1h-3.8zM1186.16,680.79h3.8v19.1h-3.8zM1208.95,680.79h3.8v19.1h-3.8zM1095.03,720.12h7.59v19.1h-7.59zM1330.46,720.12h3.8v19.1h-3.8zM1349.45,720.12h3.8v19.1h-3.8zM1360.84,720.12h7.59v19.1h-7.59zM1432.99,720.12h3.8v19.1h-3.8zM1463.37,720.12h3.8v19.1h-3.8zM996.29,759.45h3.8v19.1h-3.8zM1387.42,779.12h3.8v19.1h-3.8zM1349.45,798.78h3.8v19.1h-3.8zM1288.69,877.44h3.8v19.1h-3.8zM1315.27,916.77h3.8v19.1h-3.8zM1349.45,916.77h3.8v19.1h-3.8z" fill="#3B66A6"/>
<path d="M1098.82,562.8h3.8v19.1h-3.8zM1170.97,562.8h3.8v19.1h-3.8zM1193.76,562.8h3.8v19.1h-3.8zM996.29,720.12h3.8v19.1h-3.8zM1140.59,720.12h3.8v19.1h-3.8zM1467.17,720.12h3.8v19.1h-3.8zM1516.53,720.12h3.8v19.1h-3.8zM1349.45,818.44h3.8v19.1h-3.8zM1478.56,818.44h3.8v19.1h-3.8zM1091.23,877.44h3.8v19.1h-3.8z" fill="#55298A"/>
<path d="M1026.67,562.8h3.8v19.1h-3.8zM1068.44,562.8h3.8v19.1h-3.8zM1155.78,562.8h3.8v19.1h-3.8zM1451.98,641.46h3.8v19.1h-3.8z" fill="#FFF68F"/>
<rect x="988.7" y="562.8" width="577.2" height="393.3" fill="url(#Ep)"/>
<text x="984.9" y="576.4" font-size="11.4" class="sa" text-anchor="end" font-style="italic">TP53</text>
<text x="1567.4" y="576.5" font-size="11.4" class="sa">43%</text>
<text x="984.9" y="596.06" font-size="11.4" class="sa" text-anchor="end" font-style="italic">TTN</text>
<text x="1567.4" y="596.16" font-size="11.4" class="sa">39%</text>
<text x="984.9" y="615.73" font-size="11.4" class="sa" text-anchor="end" font-style="italic">MUC16</text>
<text x="1567.4" y="615.83" font-size="11.4" class="sa">25%</text>
<text x="984.9" y="635.39" font-size="11.4" class="sa" text-anchor="end" font-style="italic">LRP1B</text>
<text x="1567.4" y="635.5" font-size="11.4" class="sa">23%</text>
<text x="984.9" y="655.06" font-size="11.4" class="sa" text-anchor="end" font-style="italic">CSMD3</text>
<text x="1567.4" y="655.16" font-size="11.4" class="sa">19%</text>
<text x="984.9" y="674.73" font-size="11.4" class="sa" text-anchor="end" font-style="italic">SYNE1</text>
<text x="1567.4" y="674.83" font-size="11.4" class="sa">19%</text>
<text x="984.9" y="694.39" font-size="11.4" class="sa" text-anchor="end" font-style="italic">FLG</text>
<text x="1567.4" y="694.49" font-size="11.4" class="sa">17%</text>
<text x="984.9" y="714.05" font-size="11.4" class="sa" text-anchor="end" font-style="italic">PCDH15</text>
<text x="1567.4" y="714.15" font-size="11.4" class="sa">17%</text>
<text x="984.9" y="733.72" font-size="11.4" class="sa" text-anchor="end" font-style="italic">ARID1A</text>
<text x="1567.4" y="733.82" font-size="11.4" class="sa">16%</text>
<text x="984.9" y="753.38" font-size="11.4" class="sa" text-anchor="end" font-style="italic">FAT4</text>
<text x="1567.4" y="753.49" font-size="11.4" class="sa">16%</text>
<text x="984.9" y="773.05" font-size="11.4" class="sa" text-anchor="end" font-style="italic">SPTA1</text>
<text x="1567.4" y="773.15" font-size="11.4" class="sa">15%</text>
<text x="984.9" y="792.72" font-size="11.4" class="sa" text-anchor="end" font-style="italic">CSMD1</text>
<text x="1567.4" y="792.82" font-size="11.4" class="sa">14%</text>
<text x="984.9" y="812.38" font-size="11.4" class="sa" text-anchor="end" font-style="italic">DNAH5</text>
<text x="1567.4" y="812.48" font-size="11.4" class="sa">14%</text>
<text x="984.9" y="832.04" font-size="11.4" class="sa" text-anchor="end" font-style="italic">HMCN1</text>
<text x="1567.4" y="832.14" font-size="11.4" class="sa">13%</text>
<text x="984.9" y="851.71" font-size="11.4" class="sa" text-anchor="end" font-style="italic">OBSCN</text>
<text x="1567.4" y="851.81" font-size="11.4" class="sa">13%</text>
<text x="984.9" y="871.37" font-size="11.4" class="sa" text-anchor="end" font-style="italic">PCLO</text>
<text x="1567.4" y="871.47" font-size="11.4" class="sa">13%</text>
<text x="984.9" y="891.04" font-size="11.4" class="sa" text-anchor="end" font-style="italic">FAT3</text>
<text x="1567.4" y="891.14" font-size="11.4" class="sa">12%</text>
<text x="984.9" y="910.71" font-size="11.4" class="sa" text-anchor="end" font-style="italic">AHNAK2</text>
<text x="1567.4" y="910.81" font-size="11.4" class="sa">11%</text>
<text x="984.9" y="930.37" font-size="11.4" class="sa" text-anchor="end" font-style="italic">DNAH11</text>
<text x="1567.4" y="930.47" font-size="11.4" class="sa">11%</text>
<text x="984.9" y="950.03" font-size="11.4" class="sa" text-anchor="end" font-style="italic">RYR2</text>
<text x="1567.4" y="950.13" font-size="11.4" class="sa">11%</text>
<path d="M1598.6,564.3h82.01v17.8h-82.01zM1598.6,583.96h71.49v17.8h-71.49zM1598.6,603.63h58.88v17.8h-58.88zM1598.6,623.29h48.36v17.8h-48.36zM1598.6,642.96h44.16v17.8h-44.16zM1598.6,662.62h46.26v17.8h-46.26zM1598.6,682.29h39.95v17.8h-39.95zM1598.6,701.95h46.26v17.8h-46.26zM1598.6,721.62h2.1v17.8h-2.1zM1598.6,741.28h39.95v17.8h-39.95zM1598.6,760.95h27.34v17.8h-27.34zM1598.6,780.62h37.85v17.8h-37.85zM1598.6,800.28h29.44v17.8h-29.44zM1598.6,819.94h18.92v17.8h-18.92zM1598.6,839.61h25.23v17.8h-25.23zM1598.6,859.27h29.44v17.8h-29.44zM1598.6,878.94h33.64v17.8h-33.64zM1598.6,898.61h29.44v17.8h-29.44zM1598.6,918.27h18.92v17.8h-18.92zM1598.6,937.93h29.44v17.8h-29.44z" fill="#528D33"/>
<path d="M1680.61,564.3h16.82v17.8h-16.82zM1646.96,623.29h4.21v17.8h-4.21zM1600.7,721.62h2.1v17.8h-2.1zM1625.94,760.95h4.21v17.8h-4.21zM1623.83,839.61h2.1v17.8h-2.1zM1617.52,918.27h4.21v17.8h-4.21zM1628.04,937.93h2.1v17.8h-2.1z" fill="#E1741E"/>
<path d="M1697.43,564.3h6.31v17.8h-6.31zM1602.81,721.62h8.41v17.8h-8.41zM1617.52,819.94h4.21v17.8h-4.21zM1632.24,878.94h2.1v17.8h-2.1z" fill="#55298A"/>
<path d="M1703.74,564.3h6.31v17.8h-6.31zM1642.76,642.96h2.1v17.8h-2.1z" fill="#FFF68F"/>
<path d="M1710.04,564.3h12.62v17.8h-12.62zM1670.09,583.96h4.21v17.8h-4.21zM1651.17,623.29h6.31v17.8h-6.31zM1644.86,642.96h6.31v17.8h-6.31zM1644.86,662.62h2.1v17.8h-2.1zM1644.86,701.95h8.41v17.8h-8.41zM1611.22,721.62h16.82v17.8h-16.82zM1630.14,760.95h6.31v17.8h-6.31zM1621.73,819.94h4.21v17.8h-4.21zM1625.94,839.61h2.1v17.8h-2.1zM1628.04,859.27h4.21v17.8h-4.21zM1621.73,918.27h4.21v17.8h-4.21z" fill="#BE1818"/>
<path d="M1722.66,564.3h10.51v17.8h-10.51zM1657.48,603.63h2.1v17.8h-2.1zM1657.48,623.29h2.1v17.8h-2.1zM1638.55,682.29h4.21v17.8h-4.21zM1628.04,721.62h16.82v17.8h-16.82zM1636.45,760.95h2.1v17.8h-2.1zM1636.45,780.62h2.1v17.8h-2.1zM1628.04,800.28h2.1v17.8h-2.1zM1634.35,878.94h2.1v17.8h-2.1zM1625.94,918.27h4.21v17.8h-4.21z" fill="#3B66A6"/>
<path d="M1733.17,564.3h21.03v17.8h-21.03zM1674.3,583.96h65.18v17.8h-65.18zM1659.58,603.63h31.54v17.8h-31.54zM1659.58,623.29h23.13v17.8h-23.13zM1651.17,642.96h16.82v17.8h-16.82zM1646.96,662.62h21.03v17.8h-21.03zM1642.76,682.29h16.82v17.8h-16.82zM1653.27,701.95h6.31v17.8h-6.31zM1644.86,721.62h10.51v17.8h-10.51zM1638.55,741.28h16.82v17.8h-16.82zM1638.55,760.95h14.72v17.8h-14.72zM1638.55,780.62h10.51v17.8h-10.51zM1630.14,800.28h18.92v17.8h-18.92zM1625.94,819.94h21.03v17.8h-21.03zM1628.04,839.61h18.92v17.8h-18.92zM1632.24,859.27h12.62v17.8h-12.62zM1636.45,878.94h4.21v17.8h-4.21zM1628.04,898.61h10.51v17.8h-10.51zM1630.14,918.27h8.41v17.8h-8.41zM1630.14,937.93h8.41v17.8h-8.41z" fill="#000000"/>
<path d="M1598.6,553.8V559.6H1754.2V553.8" fill="none" stroke="#111" stroke-width="1"/>
<text x="1598.6" y="546.1" font-size="9.1" class="sa" text-anchor="middle">0</text>
<text x="1754.2" y="546.1" font-size="9.1" class="sa" text-anchor="middle">74</text>
<text x="1676.4" y="555" font-size="8" class="sa" text-anchor="middle">No. of samples</text>
<rect x="947" y="972.1" width="5.2" height="5.2" fill="#528D33"/>
<text x="959.6" y="978.3" font-size="11.5" class="sa">Missense_Mutation</text>
<rect x="947" y="985.35" width="5.2" height="5.2" fill="#E1741E"/>
<text x="959.6" y="991.55" font-size="11.5" class="sa">Splice_Site</text>
<rect x="947" y="998.6" width="5.2" height="5.2" fill="#55298A"/>
<text x="959.6" y="1004.8" font-size="11.5" class="sa">Frame_Shift_Ins</text>
<rect x="947" y="1011.85" width="5.2" height="5.2" fill="#FFF68F"/>
<text x="959.6" y="1018.05" font-size="11.5" class="sa">In_Frame_Del</text>
<rect x="1069.6" y="972.1" width="5.2" height="5.2" fill="#BE1818"/>
<text x="1082.6" y="978.3" font-size="11.5" class="sa">Nonsense_Mutation</text>
<rect x="1069.6" y="985.35" width="5.2" height="5.2" fill="#3B66A6"/>
<text x="1082.6" y="991.55" font-size="11.5" class="sa">Frame_Shift_Del</text>
<rect x="1069.6" y="998.6" width="5.2" height="5.2" fill="#000000"/>
<text x="1082.6" y="1004.8" font-size="11.5" class="sa">Multi_Hit</text>
<text x="941.5" y="1050.3" font-size="28" class="se">F</text>
<text x="1357.7" y="1044.5" font-size="13.9" class="sa" font-weight="bold" text-anchor="middle">Altered in 171 (97.71%) of 175 samples.</text>
<path d="M986.4,1059.4H992.9V1159.5H986.4" fill="none" stroke="#111" stroke-width="1"/>
<text x="979.9" y="1062.5" font-size="8.7" class="sa" text-anchor="end">9779</text>
<text x="979.9" y="1162.6" font-size="8.7" class="sa" text-anchor="end">0</text>
<text x="973" y="1109.45" font-size="7.4" class="sa" text-anchor="middle" transform="rotate(-90 973 1109.45)">TMB</text>
<path d="M997.8,1153.49v-54.26h2.97v54.26zM1001.17,1154.51v-30.03h2.97v30.03zM1004.54,1158.5v-7.64h2.97v7.64zM1007.91,1157.32v-10.29h2.97v10.29zM1011.29,1158.64v-6.42h2.97v6.42zM1014.66,1158.73v-5.67h2.97v5.67zM1018.03,1159.5v-0.78h2.97v0.78zM1021.4,1159.5v-1.12h2.97v1.12zM1024.77,1159.5v-0.78h2.97v0.78zM1028.14,1159.5v-0.78h2.97v0.78zM1031.51,1159.5v-0.78h2.97v0.78zM1034.88,1153.74v-19.48h2.97v19.48zM1038.26,1157.38v-10.03h2.97v10.03zM1041.63,1157.16v-11.07h2.97v11.07zM1045,1158.29v-9.45h2.97v9.45zM1048.37,1159.5v-2.81h2.97v2.81zM1051.74,1159.5v-0.78h2.97v0.78zM1055.11,1158.76v-5.36h2.97v5.36zM1058.48,1154.18v-15.98h2.97v15.98zM1061.86,1159.5v-0.45h2.97v0.45zM1065.23,1159.06v-2.79h2.97v2.79zM1068.6,1159.5v-0.45h2.97v0.45zM1071.97,1159.5v-0.78h2.97v0.78zM1075.34,1157.1v-11.33h2.97v11.33zM1078.71,1159.5v-2.14h2.97v2.14zM1082.08,1159.5v-1.46h2.97v1.46zM1085.45,1159.5v-0.78h2.97v0.78zM1088.83,1159.5v-2.47h2.97v2.47zM1092.2,1159.5v-1.46h2.97v1.46zM1095.57,1158.88v-4.3h2.97v4.3zM1098.94,1156.74v-13.02h2.97v13.02zM1102.31,1159.5v-2.47h2.97v2.47zM1105.68,1159.5v-1.12h2.97v1.12zM1109.05,1159.5v-1.8h2.97v1.8zM1112.43,1159.5v-1.8h2.97v1.8zM1115.8,1159.5v-0.78h2.97v0.78zM1119.17,1158.76v-5.36h2.97v5.36zM1122.54,1159.5v-0.45h2.97v0.45zM1125.91,1159.5v-0.78h2.97v0.78zM1129.28,1159.5v-1.46h2.97v1.46zM1132.65,1159.5v-0.78h2.97v0.78zM1136.03,1159.5v-1.12h2.97v1.12zM1139.4,1159.5v-0.78h2.97v0.78zM1142.77,1159.5v-1.46h2.97v1.46zM1146.14,1159.5v-1.8h2.97v1.8zM1149.51,1159.5v-3.15h2.97v3.15zM1152.88,1159.5v-1.12h2.97v1.12zM1156.25,1159.5v-0.45h2.97v0.45zM1159.62,1159.5v-0.45h2.97v0.45zM1163,1159.5v-0.78h2.97v0.78zM1166.37,1158.67v-6.12h2.97v6.12zM1169.74,1158.92v-4h2.97v4zM1173.11,1159.5v-1.12h2.97v1.12zM1176.48,1159.5v-0.78h2.97v0.78zM1179.85,1159.5v-1.8h2.97v1.8zM1183.22,1158.94v-3.85h2.97v3.85zM1186.6,1158.62v-6.58h2.97v6.58zM1189.97,1159.5v-1.12h2.97v1.12zM1193.34,1159.5v-0.78h2.97v0.78zM1196.71,1159.5v-0.45h2.97v0.45zM1200.08,1159.5v-1.12h2.97v1.12zM1203.45,1159.5v-0.78h2.97v0.78zM1206.82,1159.5v-1.12h2.97v1.12zM1210.19,1159.5v-0.45h2.97v0.45zM1213.57,1159.5v-0.45h2.97v0.45zM1216.94,1157.43v-9.76h2.97v9.76zM1220.31,1159.5v-1.12h2.97v1.12zM1223.68,1159.5v-0.3h2.97v0.3zM1227.05,1146.19v-80.08h2.97v80.08zM1230.42,1157.69v-49.46h2.97v49.46zM1233.79,1158.73v-5.67h2.97v5.67zM1237.17,1157.27v-10.55h2.97v10.55zM1240.54,1158.5v-7.64h2.97v7.64zM1243.91,1158.41v-8.39h2.97v8.39zM1247.28,1157.32v-10.29h2.97v10.29zM1250.65,1159.5v-0.78h2.97v0.78zM1254.02,1159.5v-0.78h2.97v0.78zM1257.39,1157.3v-10.42h2.97v10.42zM1260.76,1156.39v-14.71h2.97v14.71zM1264.14,1157.16v-11.07h2.97v11.07zM1267.51,1159.5v-0.78h2.97v0.78zM1270.88,1157.54v-9.24h2.97v9.24zM1274.25,1155.92v-16.93h2.97v16.93zM1277.62,1156.77v-12.89h2.97v12.89zM1280.99,1159.5v-2.14h2.97v2.14zM1284.36,1158.43v-8.24h2.97v8.24zM1287.74,1157.32v-10.29h2.97v10.29zM1291.11,1158.6v-6.73h2.97v6.73zM1294.48,1157.52v-9.37h2.97v9.37zM1297.85,1158.43v-8.24h2.97v8.24zM1301.22,1158.64v-6.42h2.97v6.42zM1304.59,1159.5v-1.46h2.97v1.46zM1307.96,1158.81v-4.91h2.97v4.91zM1311.34,1159.5v-1.46h2.97v1.46zM1314.71,1159.5v-0.78h2.97v0.78zM1318.08,1156.69v-13.28h2.97v13.28zM1321.45,1158.94v-3.85h2.97v3.85zM1324.82,1158.76v-5.36h2.97v5.36zM1328.19,1157.43v-9.76h2.97v9.76zM1331.56,1159.03v-3.09h2.97v3.09zM1334.93,1159.5v-2.14h2.97v2.14zM1338.31,1159.5v-0.78h2.97v0.78zM1341.68,1159.5v-2.14h2.97v2.14zM1345.05,1157.52v-9.37h2.97v9.37zM1348.42,1158.64v-6.42h2.97v6.42zM1351.79,1159.5v-0.78h2.97v0.78zM1355.16,1158.29v-9.45h2.97v9.45zM1358.53,1159.5v-0.78h2.97v0.78zM1361.91,1159.5v-0.3h2.97v0.3zM1365.28,1158.87v-4.45h2.97v4.45zM1368.65,1159.5v-0.3h2.97v0.3zM1372.02,1159.5v-0.3h2.97v0.3zM1375.39,1159.5v-1.12h2.97v1.12zM1378.76,1159.5v-1.97h2.97v1.97zM1382.13,1159.5v-0.61h2.97v0.61zM1385.5,1159.5v-0.61h2.97v0.61zM1388.88,1159.5v-0.78h2.97v0.78zM1392.25,1159.5v-1.97h2.97v1.97zM1395.62,1159.5v-1.12h2.97v1.12zM1398.99,1159.5v-1.12h2.97v1.12zM1402.36,1159.5v-1.12h2.97v1.12zM1405.73,1159.5v-1.12h2.97v1.12zM1409.1,1159.5v-0.78h2.97v0.78zM1412.48,1159.5v-0.78h2.97v0.78zM1415.85,1159.5v-1.12h2.97v1.12zM1419.22,1159.5v-0.61h2.97v0.61zM1422.59,1158.94v-3.85h2.97v3.85zM1425.96,1159.5v-1.12h2.97v1.12zM1429.33,1159.5v-1.8h2.97v1.8zM1432.7,1159.5v-1.8h2.97v1.8zM1436.07,1159.5v-0.78h2.97v0.78zM1439.45,1159.5v-0.61h2.97v0.61zM1442.82,1159.5v-1.12h2.97v1.12zM1446.19,1159.5v-0.45h2.97v0.45zM1449.56,1159.5v-0.78h2.97v0.78zM1452.93,1159.5v-0.78h2.97v0.78zM1456.3,1159.5v-0.78h2.97v0.78zM1459.67,1159.5v-0.78h2.97v0.78zM1463.05,1159.5v-0.78h2.97v0.78zM1466.42,1159.5v-1.12h2.97v1.12zM1469.79,1159.5v-0.78h2.97v0.78zM1473.16,1159.5v-1.12h2.97v1.12zM1476.53,1159.5v-1.8h2.97v1.8zM1479.9,1159.5v-0.45h2.97v0.45zM1483.27,1159.5v-0.45h2.97v0.45zM1486.65,1159.5v-0.45h2.97v0.45zM1490.02,1159.5v-0.61h2.97v0.61zM1493.39,1159.5v-0.78h2.97v0.78zM1496.76,1157.38v-10.03h2.97v10.03zM1500.13,1158.73v-5.67h2.97v5.67zM1503.5,1159.5v-1.12h2.97v1.12zM1506.87,1159.5v-1.8h2.97v1.8zM1510.24,1159.5v-0.45h2.97v0.45zM1513.62,1159.5v-1.12h2.97v1.12zM1516.99,1159.5v-0.45h2.97v0.45zM1520.36,1159.5v-0.45h2.97v0.45zM1523.73,1158.76v-5.36h2.97v5.36zM1527.1,1159.5v-2.14h2.97v2.14zM1530.47,1159.5v-0.45h2.97v0.45zM1533.84,1159.5v-2.14h2.97v2.14zM1537.22,1159.5v-0.45h2.97v0.45zM1540.59,1159.5v-0.45h2.97v0.45zM1543.96,1159.5v-0.78h2.97v0.78zM1547.33,1159.5v-0.78h2.97v0.78zM1550.7,1159.5v-0.45h2.97v0.45zM1554.07,1159.5v-0.61h2.97v0.61zM1557.44,1159.5v-0.61h2.97v0.61zM1560.81,1159.5v-1.46h2.97v1.46zM1564.19,1159.5v-0.61h2.97v0.61zM1567.56,1159.5v-0.45h2.97v0.45zM1570.93,1159.5v-0.45h2.97v0.45z" fill="#528D33"/>
<path d="M997.8,1159.5v-3.88h2.97v3.88zM1001.17,1159.5v-3.75h2.97v3.75zM1004.54,1159.5v-1h2.97v1zM1007.91,1159.5v-1.74h2.97v1.74zM1011.29,1159.5v-0.86h2.97v0.86zM1014.66,1159.5v-0.77h2.97v0.77zM1034.88,1159.5v-4.87h2.97v4.87zM1038.26,1159.5v-1.69h2.97v1.69zM1041.63,1159.5v-1.87h2.97v1.87zM1045,1159.5v-1.21h2.97v1.21zM1055.11,1159.5v-0.74h2.97v0.74zM1058.48,1159.5v-4.57h2.97v4.57zM1065.23,1159.5v-0.44h2.97v0.44zM1075.34,1159.5v-1.91h2.97v1.91zM1095.57,1159.5v-0.62h2.97v0.62zM1098.94,1159.5v-2.2h2.97v2.2zM1119.17,1159.5v-0.74h2.97v0.74zM1166.37,1159.5v-0.83h2.97v0.83zM1169.74,1159.5v-0.58h2.97v0.58zM1183.22,1159.5v-0.56h2.97v0.56zM1186.6,1159.5v-0.88h2.97v0.88zM1216.94,1159.5v-1.65h2.97v1.65zM1227.05,1159.5v-10.01h2.97v10.01zM1233.79,1159.5v-0.77h2.97v0.77zM1237.17,1159.5v-1.78h2.97v1.78zM1240.54,1159.5v-1h2.97v1zM1243.91,1159.5v-1.09h2.97v1.09zM1247.28,1159.5v-1.74h2.97v1.74zM1257.39,1159.5v-1.76h2.97v1.76zM1260.76,1159.5v-2.48h2.97v2.48zM1264.14,1159.5v-1.87h2.97v1.87zM1270.88,1159.5v-1.56h2.97v1.56zM1274.25,1159.5v-2.86h2.97v2.86zM1277.62,1159.5v-2.18h2.97v2.18zM1284.36,1159.5v-1.07h2.97v1.07zM1287.74,1159.5v-1.74h2.97v1.74zM1291.11,1159.5v-0.9h2.97v0.9zM1294.48,1159.5v-1.58h2.97v1.58zM1297.85,1159.5v-1.07h2.97v1.07zM1301.22,1159.5v-0.86h2.97v0.86zM1307.96,1159.5v-0.69h2.97v0.69zM1318.08,1159.5v-2.24h2.97v2.24zM1321.45,1159.5v-0.56h2.97v0.56zM1324.82,1159.5v-0.74h2.97v0.74zM1328.19,1159.5v-1.65h2.97v1.65zM1331.56,1159.5v-0.47h2.97v0.47zM1345.05,1159.5v-1.58h2.97v1.58zM1348.42,1159.5v-0.86h2.97v0.86zM1355.16,1159.5v-1.21h2.97v1.21zM1365.28,1159.5v-0.63h2.97v0.63zM1422.59,1159.5v-0.56h2.97v0.56zM1496.76,1159.5v-1.69h2.97v1.69zM1500.13,1159.5v-0.77h2.97v0.77zM1523.73,1159.5v-0.74h2.97v0.74z" fill="#3B66A6"/>
<path d="M997.8,1155.62v-1.61h2.97v1.61zM1001.17,1155.75v-0.94h2.97v0.94zM1007.91,1157.76v-0.33h2.97v0.33zM1034.88,1154.63v-0.68h2.97v0.68zM1038.26,1157.81v-0.33h2.97v0.33zM1041.63,1157.63v-0.36h2.97v0.36zM1058.48,1154.93v-0.57h2.97v0.57zM1075.34,1157.59v-0.37h2.97v0.37zM1098.94,1157.3v-0.42h2.97v0.42zM1216.94,1157.85v-0.32h2.97v0.32zM1227.05,1149.49v-2.5h2.97v2.5zM1230.42,1159.5v-1.37h2.97v1.37zM1237.17,1157.72v-0.34h2.97v0.34zM1247.28,1157.76v-0.33h2.97v0.33zM1257.39,1157.74v-0.34h2.97v0.34zM1260.76,1157.02v-0.48h2.97v0.48zM1264.14,1157.63v-0.36h2.97v0.36zM1270.88,1157.94v-0.3h2.97v0.3zM1274.25,1156.64v-0.55h2.97v0.55zM1277.62,1157.32v-0.42h2.97v0.42zM1287.74,1157.76v-0.33h2.97v0.33zM1294.48,1157.92v-0.3h2.97v0.3zM1318.08,1157.26v-0.43h2.97v0.43zM1328.19,1157.85v-0.32h2.97v0.32zM1345.05,1157.92v-0.3h2.97v0.3zM1496.76,1157.81v-0.33h2.97v0.33z" fill="#55298A"/>
<path d="M997.8,1154.01v-0.52h2.97v0.52zM1001.17,1154.81v-0.3h2.97v0.3zM1007.91,1157.43v-0.11h2.97v0.11zM1034.88,1153.95v-0.22h2.97v0.22zM1038.26,1157.48v-0.1h2.97v0.1zM1041.63,1157.27v-0.11h2.97v0.11zM1058.48,1154.36v-0.18h2.97v0.18zM1075.34,1157.22v-0.12h2.97v0.12zM1098.94,1156.88v-0.14h2.97v0.14zM1216.94,1157.53v-0.1h2.97v0.1zM1227.05,1146.99v-0.8h2.97v0.8zM1230.42,1158.13v-0.44h2.97v0.44zM1237.17,1157.38v-0.11h2.97v0.11zM1247.28,1157.43v-0.11h2.97v0.11zM1257.39,1157.4v-0.11h2.97v0.11zM1260.76,1156.54v-0.15h2.97v0.15zM1264.14,1157.27v-0.11h2.97v0.11zM1270.88,1157.64v-0.1h2.97v0.1zM1274.25,1156.09v-0.18h2.97v0.18zM1277.62,1156.91v-0.13h2.97v0.13zM1287.74,1157.43v-0.11h2.97v0.11zM1294.48,1157.61v-0.1h2.97v0.1zM1318.08,1156.83v-0.14h2.97v0.14zM1328.19,1157.53v-0.1h2.97v0.1zM1345.05,1157.61v-0.1h2.97v0.1zM1496.76,1157.48v-0.1h2.97v0.1z" fill="#FFF68F"/>
<path d="M997.8,1099.24v-2.91h2.97v2.91zM1001.17,1124.48v-1.69h2.97v1.69zM1004.54,1150.86v-0.7h2.97v0.7zM1007.91,1147.04v-0.6h2.97v0.6zM1011.29,1152.21v-0.7h2.97v0.7zM1014.66,1153.06v-0.7h2.97v0.7zM1018.03,1158.72v-0.4h2.97v0.4zM1021.4,1158.38v-0.4h2.97v0.4zM1024.77,1158.72v-0.4h2.97v0.4zM1028.14,1158.72v-0.4h2.97v0.4zM1031.51,1158.72v-0.4h2.97v0.4zM1034.88,1134.26v-1.22h2.97v1.22zM1038.26,1147.35v-0.59h2.97v0.59zM1041.63,1146.09v-0.65h2.97v0.65zM1045,1148.83v-0.7h2.97v0.7zM1048.37,1156.69v-0.4h2.97v0.4zM1051.74,1158.72v-0.4h2.97v0.4zM1055.11,1153.4v-0.7h2.97v0.7zM1058.48,1138.2v-1.03h2.97v1.03zM1061.86,1159.05v-0.4h2.97v0.4zM1065.23,1156.27v-0.7h2.97v0.7zM1068.6,1159.05v-0.4h2.97v0.4zM1071.97,1158.72v-0.4h2.97v0.4zM1075.34,1145.77v-0.66h2.97v0.66zM1078.71,1157.36v-0.4h2.97v0.4zM1082.08,1158.04v-0.4h2.97v0.4zM1085.45,1158.72v-0.4h2.97v0.4zM1088.83,1157.03v-0.4h2.97v0.4zM1092.2,1158.04v-0.4h2.97v0.4zM1095.57,1154.58v-0.7h2.97v0.7zM1098.94,1143.72v-0.76h2.97v0.76zM1102.31,1157.03v-0.4h2.97v0.4zM1105.68,1158.38v-0.4h2.97v0.4zM1109.05,1157.7v-0.4h2.97v0.4zM1112.43,1157.7v-0.4h2.97v0.4zM1115.8,1158.72v-0.4h2.97v0.4zM1119.17,1153.4v-0.7h2.97v0.7zM1122.54,1159.05v-0.4h2.97v0.4zM1125.91,1158.72v-0.4h2.97v0.4zM1129.28,1158.04v-0.4h2.97v0.4zM1132.65,1158.72v-0.4h2.97v0.4zM1136.03,1158.38v-0.4h2.97v0.4zM1139.4,1158.72v-0.4h2.97v0.4zM1142.77,1158.04v-0.4h2.97v0.4zM1146.14,1157.7v-0.4h2.97v0.4zM1149.51,1156.35v-0.4h2.97v0.4zM1152.88,1158.38v-0.4h2.97v0.4zM1156.25,1159.05v-0.4h2.97v0.4zM1159.62,1159.05v-0.4h2.97v0.4zM1163,1158.72v-0.4h2.97v0.4zM1166.37,1152.55v-0.7h2.97v0.7zM1169.74,1154.92v-0.7h2.97v0.7zM1173.11,1158.38v-0.4h2.97v0.4zM1176.48,1158.72v-0.4h2.97v0.4zM1179.85,1157.7v-0.4h2.97v0.4zM1183.22,1155.09v-0.7h2.97v0.7zM1186.6,1152.05v-0.7h2.97v0.7zM1189.97,1158.38v-0.4h2.97v0.4zM1193.34,1158.72v-0.4h2.97v0.4zM1196.71,1159.05v-0.4h2.97v0.4zM1200.08,1158.38v-0.4h2.97v0.4zM1203.45,1158.72v-0.4h2.97v0.4zM1206.82,1158.38v-0.4h2.97v0.4zM1210.19,1159.05v-0.4h2.97v0.4zM1213.57,1159.05v-0.4h2.97v0.4zM1216.94,1147.67v-0.57h2.97v0.57zM1220.31,1158.38v-0.4h2.97v0.4zM1223.68,1159.2v-0.4h2.97v0.4zM1227.05,1066.11v-4.5h2.97v4.5zM1230.42,1108.23v-2.47h2.97v2.47zM1233.79,1153.06v-0.7h2.97v0.7zM1237.17,1146.72v-0.62h2.97v0.62zM1240.54,1150.86v-0.7h2.97v0.7zM1243.91,1150.02v-0.7h2.97v0.7zM1247.28,1147.04v-0.6h2.97v0.6zM1250.65,1158.72v-0.4h2.97v0.4zM1254.02,1158.72v-0.4h2.97v0.4zM1257.39,1146.88v-0.61h2.97v0.61zM1260.76,1141.67v-0.86h2.97v0.86zM1264.14,1146.09v-0.65h2.97v0.65zM1267.51,1158.72v-0.4h2.97v0.4zM1270.88,1148.3v-0.54h2.97v0.54zM1274.25,1138.99v-0.99h2.97v0.99zM1277.62,1143.88v-0.75h2.97v0.75zM1280.99,1157.36v-0.4h2.97v0.4zM1284.36,1150.19v-0.7h2.97v0.7zM1287.74,1147.04v-0.6h2.97v0.6zM1291.11,1151.88v-0.7h2.97v0.7zM1294.48,1148.14v-0.55h2.97v0.55zM1297.85,1150.19v-0.7h2.97v0.7zM1301.22,1152.21v-0.7h2.97v0.7zM1304.59,1158.04v-0.4h2.97v0.4zM1307.96,1153.91v-0.7h2.97v0.7zM1311.34,1158.04v-0.4h2.97v0.4zM1314.71,1158.72v-0.4h2.97v0.4zM1318.08,1143.41v-0.78h2.97v0.78zM1321.45,1155.09v-0.7h2.97v0.7zM1324.82,1153.4v-0.7h2.97v0.7zM1328.19,1147.67v-0.57h2.97v0.57zM1331.56,1155.93v-0.7h2.97v0.7zM1334.93,1157.36v-0.4h2.97v0.4zM1338.31,1158.72v-0.4h2.97v0.4zM1341.68,1157.36v-0.4h2.97v0.4zM1345.05,1148.14v-0.55h2.97v0.55zM1348.42,1152.21v-0.7h2.97v0.7zM1351.79,1158.72v-0.4h2.97v0.4zM1355.16,1148.83v-0.7h2.97v0.7zM1358.53,1158.72v-0.4h2.97v0.4zM1361.91,1159.2v-0.4h2.97v0.4zM1365.28,1154.41v-0.7h2.97v0.7zM1368.65,1159.2v-0.4h2.97v0.4zM1372.02,1159.2v-0.4h2.97v0.4zM1375.39,1158.38v-0.4h2.97v0.4zM1378.76,1157.53v-0.4h2.97v0.4zM1382.13,1158.89v-0.4h2.97v0.4zM1385.5,1158.89v-0.4h2.97v0.4zM1388.88,1158.72v-0.4h2.97v0.4zM1392.25,1157.53v-0.4h2.97v0.4zM1395.62,1158.38v-0.4h2.97v0.4zM1398.99,1158.38v-0.4h2.97v0.4zM1402.36,1158.38v-0.4h2.97v0.4zM1405.73,1158.38v-0.4h2.97v0.4zM1409.1,1158.72v-0.4h2.97v0.4zM1412.48,1158.72v-0.4h2.97v0.4zM1415.85,1158.38v-0.4h2.97v0.4zM1419.22,1158.89v-0.4h2.97v0.4zM1422.59,1155.09v-0.7h2.97v0.7zM1425.96,1158.38v-0.4h2.97v0.4zM1429.33,1157.7v-0.4h2.97v0.4zM1432.7,1157.7v-0.4h2.97v0.4zM1436.07,1158.72v-0.4h2.97v0.4zM1439.45,1158.89v-0.4h2.97v0.4zM1442.82,1158.38v-0.4h2.97v0.4zM1446.19,1159.05v-0.4h2.97v0.4zM1449.56,1158.72v-0.4h2.97v0.4zM1452.93,1158.72v-0.4h2.97v0.4zM1456.3,1158.72v-0.4h2.97v0.4zM1459.67,1158.72v-0.4h2.97v0.4zM1463.05,1158.72v-0.4h2.97v0.4zM1466.42,1158.38v-0.4h2.97v0.4zM1469.79,1158.72v-0.4h2.97v0.4zM1473.16,1158.38v-0.4h2.97v0.4zM1476.53,1157.7v-0.4h2.97v0.4zM1479.9,1159.05v-0.4h2.97v0.4zM1483.27,1159.05v-0.4h2.97v0.4zM1486.65,1159.05v-0.4h2.97v0.4zM1490.02,1158.89v-0.4h2.97v0.4zM1493.39,1158.72v-0.4h2.97v0.4zM1496.76,1147.35v-0.59h2.97v0.59zM1500.13,1153.06v-0.7h2.97v0.7zM1503.5,1158.38v-0.4h2.97v0.4zM1506.87,1157.7v-0.4h2.97v0.4zM1510.24,1159.05v-0.4h2.97v0.4zM1513.62,1158.38v-0.4h2.97v0.4zM1516.99,1159.05v-0.4h2.97v0.4zM1520.36,1159.05v-0.4h2.97v0.4zM1523.73,1153.4v-0.7h2.97v0.7zM1527.1,1157.36v-0.4h2.97v0.4zM1530.47,1159.05v-0.4h2.97v0.4zM1533.84,1157.36v-0.4h2.97v0.4zM1537.22,1159.05v-0.4h2.97v0.4zM1540.59,1159.05v-0.4h2.97v0.4zM1543.96,1158.72v-0.4h2.97v0.4zM1547.33,1158.72v-0.4h2.97v0.4zM1550.7,1159.05v-0.4h2.97v0.4zM1554.07,1158.89v-0.4h2.97v0.4zM1557.44,1158.89v-0.4h2.97v0.4zM1560.81,1158.04v-0.4h2.97v0.4zM1564.19,1158.89v-0.4h2.97v0.4zM1567.56,1159.05v-0.4h2.97v0.4zM1570.93,1159.05v-0.4h2.97v0.4z" fill="#BE1818"/>
<path d="M997.8,1096.33v-1.42h2.97v1.42zM1001.17,1122.79v-0.83h2.97v0.83zM1004.54,1150.16v-0.3h2.97v0.3zM1007.91,1146.44v-0.29h2.97v0.29zM1011.29,1151.51v-0.3h2.97v0.3zM1014.66,1152.36v-0.3h2.97v0.3zM1034.88,1133.04v-0.6h2.97v0.6zM1038.26,1146.77v-0.29h2.97v0.29zM1041.63,1145.44v-0.32h2.97v0.32zM1045,1148.13v-0.3h2.97v0.3zM1055.11,1152.7v-0.3h2.97v0.3zM1058.48,1137.18v-0.5h2.97v0.5zM1065.23,1155.57v-0.3h2.97v0.3zM1075.34,1145.11v-0.32h2.97v0.32zM1095.57,1153.88v-0.3h2.97v0.3zM1098.94,1142.96v-0.37h2.97v0.37zM1119.17,1152.7v-0.3h2.97v0.3zM1166.37,1151.85v-0.3h2.97v0.3zM1169.74,1154.22v-0.3h2.97v0.3zM1183.22,1154.39v-0.3h2.97v0.3zM1186.6,1151.35v-0.3h2.97v0.3zM1216.94,1147.1v-0.28h2.97v0.28zM1227.05,1061.6v-2.2h2.97v2.2zM1230.42,1105.76v-1.21h2.97v1.21zM1233.79,1152.36v-0.3h2.97v0.3zM1237.17,1146.11v-0.3h2.97v0.3zM1240.54,1150.16v-0.3h2.97v0.3zM1243.91,1149.32v-0.3h2.97v0.3zM1247.28,1146.44v-0.29h2.97v0.29zM1257.39,1146.27v-0.3h2.97v0.3zM1260.76,1140.81v-0.42h2.97v0.42zM1264.14,1145.44v-0.32h2.97v0.32zM1270.88,1147.76v-0.26h2.97v0.26zM1274.25,1138v-0.48h2.97v0.48zM1277.62,1143.13v-0.37h2.97v0.37zM1284.36,1149.49v-0.3h2.97v0.3zM1287.74,1146.44v-0.29h2.97v0.29zM1291.11,1151.18v-0.3h2.97v0.3zM1294.48,1147.59v-0.27h2.97v0.27zM1297.85,1149.49v-0.3h2.97v0.3zM1301.22,1151.51v-0.3h2.97v0.3zM1307.96,1153.21v-0.3h2.97v0.3zM1318.08,1142.63v-0.38h2.97v0.38zM1321.45,1154.39v-0.3h2.97v0.3zM1324.82,1152.7v-0.3h2.97v0.3zM1328.19,1147.1v-0.28h2.97v0.28zM1331.56,1155.23v-0.3h2.97v0.3zM1345.05,1147.59v-0.27h2.97v0.27zM1348.42,1151.51v-0.3h2.97v0.3zM1355.16,1148.13v-0.3h2.97v0.3zM1365.28,1153.71v-0.3h2.97v0.3zM1422.59,1154.39v-0.3h2.97v0.3zM1496.76,1146.77v-0.29h2.97v0.29zM1500.13,1152.36v-0.3h2.97v0.3zM1523.73,1152.7v-0.3h2.97v0.3z" fill="#E1741E"/>
<defs><pattern id="Fp" x="997.33" y="0" width="3.37" height="10" patternUnits="userSpaceOnUse"><rect x="0" y="0" width="0.55" height="10" fill="#fff" fill-opacity="0.42"/></pattern></defs>
<rect x="997.6" y="1166.7" width="576.5" height="19.1" fill="#CCCCCC"/>
<rect x="997.6" y="1186.37" width="576.5" height="19.1" fill="#CCCCCC"/>
<rect x="997.6" y="1206.03" width="576.5" height="19.1" fill="#CCCCCC"/>
<rect x="997.6" y="1225.69" width="576.5" height="19.1" fill="#CCCCCC"/>
<rect x="997.6" y="1245.36" width="576.5" height="19.1" fill="#CCCCCC"/>
<rect x="997.6" y="1265.03" width="576.5" height="19.1" fill="#CCCCCC"/>
<rect x="997.6" y="1284.69" width="576.5" height="19.1" fill="#CCCCCC"/>
<rect x="997.6" y="1304.36" width="576.5" height="19.1" fill="#CCCCCC"/>
<rect x="997.6" y="1324.02" width="576.5" height="19.1" fill="#CCCCCC"/>
<rect x="997.6" y="1343.68" width="576.5" height="19.1" fill="#CCCCCC"/>
<rect x="997.6" y="1363.35" width="576.5" height="19.1" fill="#CCCCCC"/>
<rect x="997.6" y="1383.02" width="576.5" height="19.1" fill="#CCCCCC"/>
<rect x="997.6" y="1402.68" width="576.5" height="19.1" fill="#CCCCCC"/>
<rect x="997.6" y="1422.35" width="576.5" height="19.1" fill="#CCCCCC"/>
<rect x="997.6" y="1442.01" width="576.5" height="19.1" fill="#CCCCCC"/>
<rect x="997.6" y="1461.67" width="576.5" height="19.1" fill="#CCCCCC"/>
<rect x="997.6" y="1481.34" width="576.5" height="19.1" fill="#CCCCCC"/>
<rect x="997.6" y="1501.01" width="576.5" height="19.1" fill="#CCCCCC"/>
<rect x="997.6" y="1520.67" width="576.5" height="19.1" fill="#CCCCCC"/>
<rect x="997.6" y="1540.34" width="576.5" height="19.1" fill="#CCCCCC"/>
<path d="M1004.34,1166.7h3.37v19.1h-3.37zM1014.46,1166.7h3.37v19.1h-3.37zM1021.2,1166.7h6.74v19.1h-6.74zM1061.66,1166.7h3.37v19.1h-3.37zM1068.4,1166.7h3.37v19.1h-3.37zM1078.51,1166.7h10.11v19.1h-10.11zM1115.6,1166.7h10.11v19.1h-10.11zM1129.08,1166.7h13.49v19.1h-13.49zM1156.05,1166.7h6.74v19.1h-6.74zM1176.28,1166.7h3.37v19.1h-3.37zM1183.02,1166.7h3.37v19.1h-3.37zM1193.14,1166.7h10.11v19.1h-10.11zM1206.62,1166.7h6.74v19.1h-6.74zM1223.48,1166.7h3.37v19.1h-3.37zM1233.59,1166.7h3.37v19.1h-3.37zM1314.51,1166.7h3.37v19.1h-3.37zM1338.11,1166.7h3.37v19.1h-3.37zM1361.71,1166.7h13.49v19.1h-13.49zM1381.93,1166.7h10.11v19.1h-10.11zM1004.34,1186.37h6.74v19.1h-6.74zM1014.46,1186.37h6.74v19.1h-6.74zM1027.94,1186.37h10.11v19.1h-10.11zM1041.43,1186.37h3.37v19.1h-3.37zM1048.17,1186.37h3.37v19.1h-3.37zM1058.28,1186.37h3.37v19.1h-3.37zM1071.77,1186.37h3.37v19.1h-3.37zM1095.37,1186.37h6.74v19.1h-6.74zM1115.6,1186.37h3.37v19.1h-3.37zM1122.34,1186.37h3.37v19.1h-3.37zM1129.08,1186.37h6.74v19.1h-6.74zM1139.2,1186.37h6.74v19.1h-6.74zM1156.05,1186.37h3.37v19.1h-3.37zM1162.8,1186.37h3.37v19.1h-3.37zM1172.91,1186.37h6.74v19.1h-6.74zM1186.4,1186.37h3.37v19.1h-3.37zM1193.14,1186.37h6.74v19.1h-6.74zM1213.37,1186.37h3.37v19.1h-3.37zM1220.11,1186.37h6.74v19.1h-6.74zM1392.05,1186.37h3.37v19.1h-3.37zM1398.79,1186.37h3.37v19.1h-3.37zM1405.53,1186.37h3.37v19.1h-3.37zM1412.28,1186.37h3.37v19.1h-3.37zM1425.76,1186.37h3.37v19.1h-3.37zM1445.99,1186.37h6.74v19.1h-6.74zM1456.1,1186.37h3.37v19.1h-3.37zM1462.85,1186.37h3.37v19.1h-3.37zM1469.59,1186.37h13.49v19.1h-13.49zM1486.45,1186.37h3.37v19.1h-3.37zM1493.19,1186.37h3.37v19.1h-3.37zM1017.83,1206.03h10.11v19.1h-10.11zM1044.8,1206.03h3.37v19.1h-3.37zM1051.54,1206.03h3.37v19.1h-3.37zM1068.4,1206.03h6.74v19.1h-6.74zM1078.51,1206.03h10.11v19.1h-10.11zM1233.59,1206.03h10.11v19.1h-10.11zM1250.45,1206.03h10.11v19.1h-10.11zM1267.31,1206.03h3.37v19.1h-3.37zM1274.05,1206.03h3.37v19.1h-3.37zM1287.54,1206.03h6.74v19.1h-6.74zM1297.65,1206.03h3.37v19.1h-3.37zM1304.39,1206.03h3.37v19.1h-3.37zM1392.05,1206.03h6.74v19.1h-6.74zM1402.16,1206.03h3.37v19.1h-3.37zM1408.9,1206.03h3.37v19.1h-3.37zM1419.02,1206.03h3.37v19.1h-3.37zM1510.04,1206.03h6.74v19.1h-6.74zM1007.71,1225.69h3.37v19.1h-3.37zM1014.46,1225.69h20.23v19.1h-20.23zM1095.37,1225.69h3.37v19.1h-3.37zM1105.48,1225.69h3.37v19.1h-3.37zM1115.6,1225.69h20.23v19.1h-20.23zM1139.2,1225.69h3.37v19.1h-3.37zM1233.59,1225.69h3.37v19.1h-3.37zM1240.34,1225.69h20.23v19.1h-20.23zM1267.31,1225.69h3.37v19.1h-3.37zM1311.14,1225.69h10.11v19.1h-10.11zM1331.36,1225.69h10.11v19.1h-10.11zM1392.05,1225.69h3.37v19.1h-3.37zM1425.76,1225.69h3.37v19.1h-3.37zM1435.87,1225.69h3.37v19.1h-3.37zM1496.56,1225.69h6.74v19.1h-6.74zM1516.79,1225.69h6.74v19.1h-6.74zM1007.71,1245.36h13.49v19.1h-13.49zM1048.17,1245.36h10.11v19.1h-10.11zM1061.66,1245.36h3.37v19.1h-3.37zM1068.4,1245.36h6.74v19.1h-6.74zM1098.74,1245.36h6.74v19.1h-6.74zM1108.85,1245.36h3.37v19.1h-3.37zM1152.68,1245.36h3.37v19.1h-3.37zM1233.59,1245.36h3.37v19.1h-3.37zM1240.34,1245.36h3.37v19.1h-3.37zM1247.08,1245.36h6.74v19.1h-6.74zM1270.68,1245.36h3.37v19.1h-3.37zM1280.79,1245.36h3.37v19.1h-3.37zM1287.54,1245.36h3.37v19.1h-3.37zM1311.14,1245.36h6.74v19.1h-6.74zM1344.85,1245.36h3.37v19.1h-3.37zM1392.05,1245.36h10.11v19.1h-10.11zM1422.39,1245.36h6.74v19.1h-6.74zM1439.25,1245.36h10.11v19.1h-10.11zM1496.56,1245.36h3.37v19.1h-3.37zM1004.34,1265.03h3.37v19.1h-3.37zM1021.2,1265.03h3.37v19.1h-3.37zM1041.43,1265.03h10.11v19.1h-10.11zM1095.37,1265.03h3.37v19.1h-3.37zM1112.23,1265.03h6.74v19.1h-6.74zM1142.57,1265.03h3.37v19.1h-3.37zM1169.54,1265.03h6.74v19.1h-6.74zM1233.59,1265.03h10.11v19.1h-10.11zM1257.19,1265.03h3.37v19.1h-3.37zM1274.05,1265.03h3.37v19.1h-3.37zM1290.91,1265.03h3.37v19.1h-3.37zM1311.14,1265.03h3.37v19.1h-3.37zM1321.25,1265.03h3.37v19.1h-3.37zM1327.99,1265.03h3.37v19.1h-3.37zM1351.59,1265.03h3.37v19.1h-3.37zM1402.16,1265.03h3.37v19.1h-3.37zM1422.39,1265.03h6.74v19.1h-6.74zM1439.25,1265.03h6.74v19.1h-6.74zM1449.36,1265.03h3.37v19.1h-3.37zM1456.1,1265.03h6.74v19.1h-6.74zM1516.79,1265.03h3.37v19.1h-3.37zM1526.9,1265.03h3.37v19.1h-3.37zM1102.11,1284.69h3.37v19.1h-3.37zM1243.71,1284.69h6.74v19.1h-6.74zM1354.96,1284.69h3.37v19.1h-3.37zM1361.71,1284.69h3.37v19.1h-3.37zM1496.56,1284.69h3.37v19.1h-3.37zM1004.34,1304.36h6.74v19.1h-6.74zM1014.46,1304.36h3.37v19.1h-3.37zM1024.57,1304.36h3.37v19.1h-3.37zM1044.8,1304.36h6.74v19.1h-6.74zM1054.91,1304.36h3.37v19.1h-3.37zM1061.66,1304.36h3.37v19.1h-3.37zM1078.51,1304.36h3.37v19.1h-3.37zM1095.37,1304.36h3.37v19.1h-3.37zM1102.11,1304.36h3.37v19.1h-3.37zM1112.23,1304.36h3.37v19.1h-3.37zM1145.94,1304.36h3.37v19.1h-3.37zM1152.68,1304.36h3.37v19.1h-3.37zM1169.54,1304.36h3.37v19.1h-3.37zM1240.34,1304.36h6.74v19.1h-6.74zM1267.31,1304.36h6.74v19.1h-6.74zM1284.16,1304.36h3.37v19.1h-3.37zM1304.39,1304.36h3.37v19.1h-3.37zM1334.73,1304.36h3.37v19.1h-3.37zM1341.48,1304.36h3.37v19.1h-3.37zM1405.53,1304.36h3.37v19.1h-3.37zM1432.5,1304.36h3.37v19.1h-3.37zM1439.25,1304.36h3.37v19.1h-3.37zM1462.85,1304.36h3.37v19.1h-3.37zM1469.59,1304.36h6.74v19.1h-6.74zM1553.87,1304.36h6.74v19.1h-6.74zM1004.34,1324.02h3.37v19.1h-3.37zM1027.94,1324.02h3.37v19.1h-3.37zM1038.06,1324.02h3.37v19.1h-3.37zM1044.8,1324.02h3.37v19.1h-3.37zM1051.54,1324.02h3.37v19.1h-3.37zM1108.85,1324.02h6.74v19.1h-6.74zM1125.71,1324.02h3.37v19.1h-3.37zM1142.57,1324.02h6.74v19.1h-6.74zM1189.77,1324.02h10.11v19.1h-10.11zM1236.97,1324.02h3.37v19.1h-3.37zM1243.71,1324.02h10.11v19.1h-10.11zM1257.19,1324.02h3.37v19.1h-3.37zM1297.65,1324.02h3.37v19.1h-3.37zM1311.14,1324.02h3.37v19.1h-3.37zM1321.25,1324.02h3.37v19.1h-3.37zM1344.85,1324.02h3.37v19.1h-3.37zM1526.9,1324.02h3.37v19.1h-3.37zM1000.97,1343.68h6.74v19.1h-6.74zM1011.09,1343.68h3.37v19.1h-3.37zM1044.8,1343.68h3.37v19.1h-3.37zM1078.51,1343.68h6.74v19.1h-6.74zM1098.74,1343.68h3.37v19.1h-3.37zM1108.85,1343.68h6.74v19.1h-6.74zM1129.08,1343.68h6.74v19.1h-6.74zM1166.17,1343.68h3.37v19.1h-3.37zM1172.91,1343.68h3.37v19.1h-3.37zM1206.62,1343.68h6.74v19.1h-6.74zM1233.59,1343.68h3.37v19.1h-3.37zM1243.71,1343.68h3.37v19.1h-3.37zM1253.82,1343.68h6.74v19.1h-6.74zM1290.91,1343.68h3.37v19.1h-3.37zM1321.25,1343.68h3.37v19.1h-3.37zM1344.85,1343.68h3.37v19.1h-3.37zM1358.33,1343.68h3.37v19.1h-3.37zM1395.42,1343.68h3.37v19.1h-3.37zM1402.16,1343.68h3.37v19.1h-3.37zM1462.85,1343.68h3.37v19.1h-3.37zM1004.34,1363.35h3.37v19.1h-3.37zM1014.46,1363.35h3.37v19.1h-3.37zM1024.57,1363.35h3.37v19.1h-3.37zM1169.54,1363.35h3.37v19.1h-3.37zM1216.74,1363.35h3.37v19.1h-3.37zM1247.08,1363.35h3.37v19.1h-3.37zM1270.68,1363.35h3.37v19.1h-3.37zM1290.91,1363.35h3.37v19.1h-3.37zM1297.65,1363.35h3.37v19.1h-3.37zM1327.99,1363.35h3.37v19.1h-3.37zM1429.13,1363.35h3.37v19.1h-3.37zM1452.73,1363.35h3.37v19.1h-3.37zM1496.56,1363.35h6.74v19.1h-6.74zM1523.53,1363.35h3.37v19.1h-3.37zM997.6,1383.02h3.37v19.1h-3.37zM1004.34,1383.02h6.74v19.1h-6.74zM1024.57,1383.02h3.37v19.1h-3.37zM1031.31,1383.02h6.74v19.1h-6.74zM1142.57,1383.02h3.37v19.1h-3.37zM1176.28,1383.02h3.37v19.1h-3.37zM1183.02,1383.02h3.37v19.1h-3.37zM1236.97,1383.02h6.74v19.1h-6.74zM1247.08,1383.02h3.37v19.1h-3.37zM1280.79,1383.02h3.37v19.1h-3.37zM1290.91,1383.02h3.37v19.1h-3.37zM1297.65,1383.02h3.37v19.1h-3.37zM1314.51,1383.02h3.37v19.1h-3.37zM1341.48,1383.02h6.74v19.1h-6.74zM1392.05,1383.02h6.74v19.1h-6.74zM1402.16,1383.02h3.37v19.1h-3.37zM1422.39,1383.02h3.37v19.1h-3.37zM1533.64,1383.02h3.37v19.1h-3.37zM1000.97,1402.68h3.37v19.1h-3.37zM1041.43,1402.68h3.37v19.1h-3.37zM1048.17,1402.68h3.37v19.1h-3.37zM1071.77,1402.68h3.37v19.1h-3.37zM1078.51,1402.68h3.37v19.1h-3.37zM1098.74,1402.68h13.49v19.1h-13.49zM1135.83,1402.68h3.37v19.1h-3.37zM1152.68,1402.68h6.74v19.1h-6.74zM1183.02,1402.68h3.37v19.1h-3.37zM1199.88,1402.68h3.37v19.1h-3.37zM1216.74,1402.68h3.37v19.1h-3.37zM1233.59,1402.68h3.37v19.1h-3.37zM1240.34,1402.68h3.37v19.1h-3.37zM1257.19,1402.68h3.37v19.1h-3.37zM1274.05,1402.68h3.37v19.1h-3.37zM1284.16,1402.68h10.11v19.1h-10.11zM1344.85,1402.68h6.74v19.1h-6.74zM1412.28,1402.68h3.37v19.1h-3.37zM1422.39,1402.68h3.37v19.1h-3.37zM1429.13,1402.68h3.37v19.1h-3.37zM1439.25,1402.68h3.37v19.1h-3.37zM1021.2,1422.35h3.37v19.1h-3.37zM1044.8,1422.35h3.37v19.1h-3.37zM1054.91,1422.35h3.37v19.1h-3.37zM1071.77,1422.35h3.37v19.1h-3.37zM1125.71,1422.35h3.37v19.1h-3.37zM1135.83,1422.35h3.37v19.1h-3.37zM1183.02,1422.35h3.37v19.1h-3.37zM1233.59,1422.35h13.49v19.1h-13.49zM1257.19,1422.35h3.37v19.1h-3.37zM1270.68,1422.35h3.37v19.1h-3.37zM1290.91,1422.35h6.74v19.1h-6.74zM1311.14,1422.35h3.37v19.1h-3.37zM1365.08,1422.35h10.11v19.1h-10.11zM1402.16,1422.35h3.37v19.1h-3.37zM1432.5,1422.35h3.37v19.1h-3.37zM1452.73,1422.35h3.37v19.1h-3.37zM1560.61,1422.35h3.37v19.1h-3.37zM1011.09,1442.01h6.74v19.1h-6.74zM1038.06,1442.01h6.74v19.1h-6.74zM1078.51,1442.01h10.11v19.1h-10.11zM1115.6,1442.01h6.74v19.1h-6.74zM1139.2,1442.01h3.37v19.1h-3.37zM1166.17,1442.01h3.37v19.1h-3.37zM1216.74,1442.01h3.37v19.1h-3.37zM1233.59,1442.01h3.37v19.1h-3.37zM1290.91,1442.01h3.37v19.1h-3.37zM1314.51,1442.01h6.74v19.1h-6.74zM1361.71,1442.01h3.37v19.1h-3.37zM1375.19,1442.01h3.37v19.1h-3.37zM1432.5,1442.01h3.37v19.1h-3.37zM1462.85,1442.01h6.74v19.1h-6.74zM1499.93,1442.01h3.37v19.1h-3.37zM1533.64,1442.01h6.74v19.1h-6.74zM1007.71,1461.67h10.11v19.1h-10.11zM1034.68,1461.67h6.74v19.1h-6.74zM1044.8,1461.67h3.37v19.1h-3.37zM1068.4,1461.67h3.37v19.1h-3.37zM1095.37,1461.67h3.37v19.1h-3.37zM1166.17,1461.67h6.74v19.1h-6.74zM1176.28,1461.67h3.37v19.1h-3.37zM1230.22,1461.67h6.74v19.1h-6.74zM1287.54,1461.67h3.37v19.1h-3.37zM1294.28,1461.67h6.74v19.1h-6.74zM1338.11,1461.67h3.37v19.1h-3.37zM1351.59,1461.67h3.37v19.1h-3.37zM1361.71,1461.67h3.37v19.1h-3.37zM1449.36,1461.67h3.37v19.1h-3.37zM1476.33,1461.67h3.37v19.1h-3.37zM1510.04,1461.67h3.37v19.1h-3.37zM1530.27,1461.67h16.86v19.1h-16.86zM1550.5,1461.67h3.37v19.1h-3.37zM1560.61,1461.67h6.74v19.1h-6.74zM1007.71,1481.34h3.37v19.1h-3.37zM1034.68,1481.34h6.74v19.1h-6.74zM1051.54,1481.34h6.74v19.1h-6.74zM1061.66,1481.34h3.37v19.1h-3.37zM1078.51,1481.34h3.37v19.1h-3.37zM1183.02,1481.34h6.74v19.1h-6.74zM1230.22,1481.34h6.74v19.1h-6.74zM1247.08,1481.34h3.37v19.1h-3.37zM1253.82,1481.34h3.37v19.1h-3.37zM1267.31,1481.34h3.37v19.1h-3.37zM1274.05,1481.34h3.37v19.1h-3.37zM1287.54,1481.34h3.37v19.1h-3.37zM1297.65,1481.34h3.37v19.1h-3.37zM1324.62,1481.34h3.37v19.1h-3.37zM1348.22,1481.34h3.37v19.1h-3.37zM1392.05,1481.34h3.37v19.1h-3.37zM1412.28,1481.34h3.37v19.1h-3.37zM1476.33,1481.34h3.37v19.1h-3.37zM1496.56,1481.34h3.37v19.1h-3.37zM1540.39,1481.34h10.11v19.1h-10.11zM1034.68,1501.01h3.37v19.1h-3.37zM1044.8,1501.01h3.37v19.1h-3.37zM1081.88,1501.01h6.74v19.1h-6.74zM1115.6,1501.01h6.74v19.1h-6.74zM1139.2,1501.01h6.74v19.1h-6.74zM1206.62,1501.01h3.37v19.1h-3.37zM1216.74,1501.01h3.37v19.1h-3.37zM1233.59,1501.01h3.37v19.1h-3.37zM1247.08,1501.01h3.37v19.1h-3.37zM1284.16,1501.01h3.37v19.1h-3.37zM1297.65,1501.01h3.37v19.1h-3.37zM1324.62,1501.01h3.37v19.1h-3.37zM1344.85,1501.01h3.37v19.1h-3.37zM1368.45,1501.01h3.37v19.1h-3.37zM1381.93,1501.01h3.37v19.1h-3.37zM1392.05,1501.01h3.37v19.1h-3.37zM1439.25,1501.01h3.37v19.1h-3.37zM1533.64,1501.01h3.37v19.1h-3.37zM1567.36,1501.01h3.37v19.1h-3.37zM997.6,1520.67h3.37v19.1h-3.37zM1004.34,1520.67h3.37v19.1h-3.37zM1017.83,1520.67h6.74v19.1h-6.74zM1048.17,1520.67h3.37v19.1h-3.37zM1085.25,1520.67h3.37v19.1h-3.37zM1098.74,1520.67h3.37v19.1h-3.37zM1129.08,1520.67h3.37v19.1h-3.37zM1145.94,1520.67h3.37v19.1h-3.37zM1189.77,1520.67h3.37v19.1h-3.37zM1206.62,1520.67h3.37v19.1h-3.37zM1236.97,1520.67h6.74v19.1h-6.74zM1270.68,1520.67h3.37v19.1h-3.37zM1284.16,1520.67h3.37v19.1h-3.37zM1334.73,1520.67h3.37v19.1h-3.37zM1412.28,1520.67h3.37v19.1h-3.37zM1422.39,1520.67h3.37v19.1h-3.37zM1435.87,1520.67h3.37v19.1h-3.37zM1456.1,1520.67h3.37v19.1h-3.37zM1523.53,1520.67h3.37v19.1h-3.37zM1530.27,1520.67h6.74v19.1h-6.74zM1024.57,1540.34h3.37v19.1h-3.37zM1038.06,1540.34h10.11v19.1h-10.11zM1061.66,1540.34h3.37v19.1h-3.37zM1071.77,1540.34h3.37v19.1h-3.37zM1095.37,1540.34h3.37v19.1h-3.37zM1102.11,1540.34h3.37v19.1h-3.37zM1142.57,1540.34h3.37v19.1h-3.37zM1220.11,1540.34h3.37v19.1h-3.37zM1280.79,1540.34h3.37v19.1h-3.37zM1287.54,1540.34h3.37v19.1h-3.37zM1338.11,1540.34h3.37v19.1h-3.37zM1432.5,1540.34h3.37v19.1h-3.37zM1452.73,1540.34h3.37v19.1h-3.37zM1462.85,1540.34h3.37v19.1h-3.37zM1496.56,1540.34h3.37v19.1h-3.37zM1553.87,1540.34h3.37v19.1h-3.37zM1570.73,1540.34h3.37v19.1h-3.37z" fill="#528D33"/>
<path d="M997.6,1166.7h6.74v19.1h-6.74zM1007.71,1166.7h6.74v19.1h-6.74zM1017.83,1166.7h3.37v19.1h-3.37zM1027.94,1166.7h13.49v19.1h-13.49zM1044.8,1166.7h16.86v19.1h-16.86zM1065.03,1166.7h3.37v19.1h-3.37zM1071.77,1166.7h6.74v19.1h-6.74zM1088.63,1166.7h26.97v19.1h-26.97zM1125.71,1166.7h3.37v19.1h-3.37zM1142.57,1166.7h13.49v19.1h-13.49zM1162.8,1166.7h6.74v19.1h-6.74zM1172.91,1166.7h3.37v19.1h-3.37zM1179.65,1166.7h3.37v19.1h-3.37zM1186.4,1166.7h6.74v19.1h-6.74zM1203.25,1166.7h3.37v19.1h-3.37zM1213.37,1166.7h10.11v19.1h-10.11zM1226.85,1166.7h6.74v19.1h-6.74zM1236.97,1166.7h77.54v19.1h-77.54zM1317.88,1166.7h20.23v19.1h-20.23zM1341.48,1166.7h20.23v19.1h-20.23zM1375.19,1166.7h6.74v19.1h-6.74zM997.6,1186.37h6.74v19.1h-6.74zM1065.03,1186.37h3.37v19.1h-3.37zM1075.14,1186.37h3.37v19.1h-3.37zM1088.63,1186.37h6.74v19.1h-6.74zM1149.31,1186.37h3.37v19.1h-3.37zM1179.65,1186.37h6.74v19.1h-6.74zM1203.25,1186.37h3.37v19.1h-3.37zM1395.42,1186.37h3.37v19.1h-3.37zM1415.65,1186.37h3.37v19.1h-3.37zM1422.39,1186.37h3.37v19.1h-3.37zM997.6,1206.03h20.23v19.1h-20.23zM1027.94,1206.03h16.86v19.1h-16.86zM1048.17,1206.03h3.37v19.1h-3.37zM1058.28,1206.03h10.11v19.1h-10.11zM1075.14,1206.03h3.37v19.1h-3.37zM1088.63,1206.03h6.74v19.1h-6.74zM1226.85,1206.03h6.74v19.1h-6.74zM1243.71,1206.03h6.74v19.1h-6.74zM1260.56,1206.03h6.74v19.1h-6.74zM1270.68,1206.03h3.37v19.1h-3.37zM1280.79,1206.03h6.74v19.1h-6.74zM1294.28,1206.03h3.37v19.1h-3.37zM1301.02,1206.03h3.37v19.1h-3.37zM1307.76,1206.03h3.37v19.1h-3.37zM1398.79,1206.03h3.37v19.1h-3.37zM1412.28,1206.03h6.74v19.1h-6.74zM1496.56,1206.03h13.49v19.1h-13.49zM997.6,1225.69h10.11v19.1h-10.11zM1011.09,1225.69h3.37v19.1h-3.37zM1102.11,1225.69h3.37v19.1h-3.37zM1108.85,1225.69h6.74v19.1h-6.74zM1135.83,1225.69h3.37v19.1h-3.37zM1226.85,1225.69h6.74v19.1h-6.74zM1236.97,1225.69h3.37v19.1h-3.37zM1260.56,1225.69h6.74v19.1h-6.74zM1327.99,1225.69h3.37v19.1h-3.37zM1422.39,1225.69h3.37v19.1h-3.37zM1429.13,1225.69h6.74v19.1h-6.74zM997.6,1245.36h10.11v19.1h-10.11zM1034.68,1245.36h13.49v19.1h-13.49zM1058.28,1245.36h3.37v19.1h-3.37zM1065.03,1245.36h3.37v19.1h-3.37zM1095.37,1245.36h3.37v19.1h-3.37zM1105.48,1245.36h3.37v19.1h-3.37zM1142.57,1245.36h3.37v19.1h-3.37zM1149.31,1245.36h3.37v19.1h-3.37zM1159.42,1245.36h3.37v19.1h-3.37zM1226.85,1245.36h6.74v19.1h-6.74zM1236.97,1245.36h3.37v19.1h-3.37zM1253.82,1245.36h3.37v19.1h-3.37zM1274.05,1245.36h6.74v19.1h-6.74zM1284.16,1245.36h3.37v19.1h-3.37zM997.6,1265.03h6.74v19.1h-6.74zM1007.71,1265.03h6.74v19.1h-6.74zM1034.68,1265.03h6.74v19.1h-6.74zM1075.14,1265.03h3.37v19.1h-3.37zM1098.74,1265.03h3.37v19.1h-3.37zM1176.28,1265.03h6.74v19.1h-6.74zM1226.85,1265.03h6.74v19.1h-6.74zM1260.56,1265.03h3.37v19.1h-3.37zM1270.68,1265.03h3.37v19.1h-3.37zM1277.42,1265.03h6.74v19.1h-6.74zM1294.28,1265.03h3.37v19.1h-3.37zM1331.36,1265.03h3.37v19.1h-3.37zM1341.48,1265.03h3.37v19.1h-3.37zM1348.22,1265.03h3.37v19.1h-3.37zM1452.73,1265.03h3.37v19.1h-3.37zM1499.93,1265.03h3.37v19.1h-3.37zM997.6,1284.69h3.37v19.1h-3.37zM1034.68,1284.69h3.37v19.1h-3.37zM1041.43,1284.69h3.37v19.1h-3.37zM1054.91,1284.69h6.74v19.1h-6.74zM1075.14,1284.69h3.37v19.1h-3.37zM1118.97,1284.69h3.37v19.1h-3.37zM1183.02,1284.69h6.74v19.1h-6.74zM1226.85,1284.69h6.74v19.1h-6.74zM1263.94,1284.69h3.37v19.1h-3.37zM1287.54,1284.69h3.37v19.1h-3.37zM1294.28,1284.69h3.37v19.1h-3.37zM1301.02,1284.69h3.37v19.1h-3.37zM1348.22,1284.69h3.37v19.1h-3.37zM997.6,1304.36h6.74v19.1h-6.74zM1034.68,1304.36h6.74v19.1h-6.74zM1065.03,1304.36h3.37v19.1h-3.37zM1075.14,1304.36h3.37v19.1h-3.37zM1105.48,1304.36h3.37v19.1h-3.37zM1122.34,1304.36h3.37v19.1h-3.37zM1149.31,1304.36h3.37v19.1h-3.37zM1166.17,1304.36h3.37v19.1h-3.37zM1226.85,1304.36h6.74v19.1h-6.74zM1274.05,1304.36h6.74v19.1h-6.74zM1297.65,1304.36h6.74v19.1h-6.74zM1317.88,1304.36h3.37v19.1h-3.37zM1429.13,1304.36h3.37v19.1h-3.37zM1449.36,1304.36h3.37v19.1h-3.37zM1466.22,1304.36h3.37v19.1h-3.37zM997.6,1324.02h6.74v19.1h-6.74zM1007.71,1324.02h3.37v19.1h-3.37zM1021.2,1324.02h3.37v19.1h-3.37zM1034.68,1324.02h3.37v19.1h-3.37zM1058.28,1324.02h3.37v19.1h-3.37zM1075.14,1324.02h3.37v19.1h-3.37zM1095.37,1324.02h10.11v19.1h-10.11zM1149.31,1324.02h3.37v19.1h-3.37zM1226.85,1324.02h10.11v19.1h-10.11zM1263.94,1324.02h3.37v19.1h-3.37zM1274.05,1324.02h3.37v19.1h-3.37zM1284.16,1324.02h3.37v19.1h-3.37zM1307.76,1324.02h3.37v19.1h-3.37zM1442.62,1324.02h3.37v19.1h-3.37zM1523.53,1324.02h3.37v19.1h-3.37zM997.6,1343.68h3.37v19.1h-3.37zM1102.11,1343.68h3.37v19.1h-3.37zM1199.88,1343.68h6.74v19.1h-6.74zM1226.85,1343.68h6.74v19.1h-6.74zM1260.56,1343.68h6.74v19.1h-6.74zM1270.68,1343.68h10.11v19.1h-10.11zM1294.28,1343.68h3.37v19.1h-3.37zM1317.88,1343.68h3.37v19.1h-3.37zM1327.99,1343.68h3.37v19.1h-3.37zM1334.73,1343.68h3.37v19.1h-3.37zM1354.96,1343.68h3.37v19.1h-3.37zM1503.3,1343.68h6.74v19.1h-6.74zM997.6,1363.35h6.74v19.1h-6.74zM1007.71,1363.35h6.74v19.1h-6.74zM1034.68,1363.35h10.11v19.1h-10.11zM1058.28,1363.35h3.37v19.1h-3.37zM1226.85,1363.35h3.37v19.1h-3.37zM1233.59,1363.35h6.74v19.1h-6.74zM1257.19,1363.35h3.37v19.1h-3.37zM1267.31,1363.35h3.37v19.1h-3.37zM1274.05,1363.35h6.74v19.1h-6.74zM1287.54,1363.35h3.37v19.1h-3.37zM1294.28,1363.35h3.37v19.1h-3.37zM1000.97,1383.02h3.37v19.1h-3.37zM1041.43,1383.02h3.37v19.1h-3.37zM1149.31,1383.02h3.37v19.1h-3.37zM1226.85,1383.02h6.74v19.1h-6.74zM1243.71,1383.02h3.37v19.1h-3.37zM1260.56,1383.02h3.37v19.1h-3.37zM1307.76,1383.02h3.37v19.1h-3.37zM1317.88,1383.02h3.37v19.1h-3.37zM1503.3,1383.02h3.37v19.1h-3.37zM997.6,1402.68h3.37v19.1h-3.37zM1034.68,1402.68h3.37v19.1h-3.37zM1058.28,1402.68h3.37v19.1h-3.37zM1075.14,1402.68h3.37v19.1h-3.37zM1112.23,1402.68h3.37v19.1h-3.37zM1166.17,1402.68h3.37v19.1h-3.37zM1203.25,1402.68h3.37v19.1h-3.37zM1226.85,1402.68h6.74v19.1h-6.74zM1243.71,1402.68h3.37v19.1h-3.37zM1297.65,1402.68h6.74v19.1h-6.74zM1307.76,1402.68h3.37v19.1h-3.37zM1476.33,1402.68h3.37v19.1h-3.37zM1516.79,1402.68h3.37v19.1h-3.37zM997.6,1422.35h10.11v19.1h-10.11zM1038.06,1422.35h3.37v19.1h-3.37zM1102.11,1422.35h3.37v19.1h-3.37zM1129.08,1422.35h3.37v19.1h-3.37zM1189.77,1422.35h3.37v19.1h-3.37zM1226.85,1422.35h6.74v19.1h-6.74zM1247.08,1422.35h3.37v19.1h-3.37zM1274.05,1422.35h6.74v19.1h-6.74zM1287.54,1422.35h3.37v19.1h-3.37zM1344.85,1422.35h3.37v19.1h-3.37zM1476.33,1422.35h3.37v19.1h-3.37zM1523.53,1422.35h3.37v19.1h-3.37zM997.6,1442.01h6.74v19.1h-6.74zM1034.68,1442.01h3.37v19.1h-3.37zM1044.8,1442.01h3.37v19.1h-3.37zM1058.28,1442.01h3.37v19.1h-3.37zM1075.14,1442.01h3.37v19.1h-3.37zM1098.74,1442.01h3.37v19.1h-3.37zM1226.85,1442.01h6.74v19.1h-6.74zM1243.71,1442.01h3.37v19.1h-3.37zM1257.19,1442.01h3.37v19.1h-3.37zM1274.05,1442.01h6.74v19.1h-6.74zM1284.16,1442.01h6.74v19.1h-6.74zM1307.76,1442.01h3.37v19.1h-3.37zM1496.56,1442.01h3.37v19.1h-3.37zM997.6,1461.67h6.74v19.1h-6.74zM1058.28,1461.67h3.37v19.1h-3.37zM1098.74,1461.67h3.37v19.1h-3.37zM1226.85,1461.67h3.37v19.1h-3.37zM1236.97,1461.67h3.37v19.1h-3.37zM1301.02,1461.67h3.37v19.1h-3.37zM1344.85,1461.67h3.37v19.1h-3.37zM1358.33,1461.67h3.37v19.1h-3.37zM1503.3,1461.67h3.37v19.1h-3.37zM1547.13,1461.67h3.37v19.1h-3.37zM997.6,1481.34h6.74v19.1h-6.74zM1075.14,1481.34h3.37v19.1h-3.37zM1088.63,1481.34h3.37v19.1h-3.37zM1166.17,1481.34h3.37v19.1h-3.37zM1226.85,1481.34h3.37v19.1h-3.37zM1243.71,1481.34h3.37v19.1h-3.37zM1270.68,1481.34h3.37v19.1h-3.37zM1344.85,1481.34h3.37v19.1h-3.37zM1354.96,1481.34h3.37v19.1h-3.37zM1499.93,1481.34h3.37v19.1h-3.37zM997.6,1501.01h6.74v19.1h-6.74zM1135.83,1501.01h3.37v19.1h-3.37zM1226.85,1501.01h6.74v19.1h-6.74zM1243.71,1501.01h3.37v19.1h-3.37zM1260.56,1501.01h3.37v19.1h-3.37zM1277.42,1501.01h6.74v19.1h-6.74zM1348.22,1501.01h3.37v19.1h-3.37zM1378.56,1501.01h3.37v19.1h-3.37zM1523.53,1501.01h3.37v19.1h-3.37zM1000.97,1520.67h3.37v19.1h-3.37zM1044.8,1520.67h3.37v19.1h-3.37zM1071.77,1520.67h6.74v19.1h-6.74zM1088.63,1520.67h3.37v19.1h-3.37zM1226.85,1520.67h10.11v19.1h-10.11zM1260.56,1520.67h3.37v19.1h-3.37zM1274.05,1520.67h6.74v19.1h-6.74zM1317.88,1520.67h3.37v19.1h-3.37zM1344.85,1520.67h3.37v19.1h-3.37zM997.6,1540.34h3.37v19.1h-3.37zM1034.68,1540.34h3.37v19.1h-3.37zM1075.14,1540.34h3.37v19.1h-3.37zM1112.23,1540.34h3.37v19.1h-3.37zM1186.4,1540.34h3.37v19.1h-3.37zM1226.85,1540.34h6.74v19.1h-6.74zM1243.71,1540.34h6.74v19.1h-6.74zM1270.68,1540.34h3.37v19.1h-3.37zM1294.28,1540.34h3.37v19.1h-3.37zM1331.36,1540.34h3.37v19.1h-3.37zM1378.56,1540.34h3.37v19.1h-3.37z" fill="#000000"/>
<path d="M1054.91,1186.37h3.37v19.1h-3.37zM1102.11,1186.37h3.37v19.1h-3.37zM1108.85,1186.37h3.37v19.1h-3.37zM1125.71,1186.37h3.37v19.1h-3.37zM1145.94,1186.37h3.37v19.1h-3.37zM1159.42,1186.37h3.37v19.1h-3.37zM1169.54,1186.37h3.37v19.1h-3.37zM1189.77,1186.37h3.37v19.1h-3.37zM1206.62,1186.37h3.37v19.1h-3.37zM1408.9,1186.37h3.37v19.1h-3.37zM1419.02,1186.37h3.37v19.1h-3.37zM1429.13,1186.37h3.37v19.1h-3.37zM1452.73,1186.37h3.37v19.1h-3.37zM1466.22,1186.37h3.37v19.1h-3.37zM1054.91,1206.03h3.37v19.1h-3.37zM1321.25,1225.69h3.37v19.1h-3.37zM1523.53,1225.69h3.37v19.1h-3.37zM1156.05,1245.36h3.37v19.1h-3.37zM1051.54,1265.03h3.37v19.1h-3.37zM1162.8,1265.03h3.37v19.1h-3.37zM1014.46,1284.69h3.37v19.1h-3.37zM1297.65,1284.69h3.37v19.1h-3.37zM1358.33,1284.69h3.37v19.1h-3.37zM1503.3,1284.69h3.37v19.1h-3.37zM1530.27,1284.69h6.74v19.1h-6.74zM1540.39,1284.69h10.11v19.1h-10.11zM1021.2,1304.36h3.37v19.1h-3.37zM1031.31,1343.68h3.37v19.1h-3.37zM1530.27,1363.35h3.37v19.1h-3.37zM1051.54,1383.02h3.37v19.1h-3.37zM1311.14,1383.02h3.37v19.1h-3.37zM1365.08,1383.02h3.37v19.1h-3.37zM1408.9,1383.02h3.37v19.1h-3.37zM1004.34,1481.34h3.37v19.1h-3.37zM1176.28,1501.01h3.37v19.1h-3.37zM1314.51,1501.01h3.37v19.1h-3.37zM1068.4,1540.34h3.37v19.1h-3.37zM1078.51,1540.34h3.37v19.1h-3.37z" fill="#BE1818"/>
<path d="M1044.8,1186.37h3.37v19.1h-3.37zM1051.54,1186.37h3.37v19.1h-3.37zM1061.66,1186.37h3.37v19.1h-3.37zM1078.51,1186.37h3.37v19.1h-3.37zM1432.5,1186.37h6.74v19.1h-6.74zM1442.62,1186.37h3.37v19.1h-3.37zM1145.94,1245.36h3.37v19.1h-3.37zM1341.48,1245.36h3.37v19.1h-3.37zM1145.94,1284.69h3.37v19.1h-3.37zM1162.8,1284.69h3.37v19.1h-3.37zM1314.51,1284.69h6.74v19.1h-6.74zM1213.37,1343.68h3.37v19.1h-3.37zM1304.39,1343.68h3.37v19.1h-3.37zM1496.56,1343.68h3.37v19.1h-3.37zM1361.71,1363.35h3.37v19.1h-3.37zM1540.39,1540.34h3.37v19.1h-3.37z" fill="#E1741E"/>
<path d="M1041.43,1166.7h3.37v19.1h-3.37zM1169.54,1166.7h3.37v19.1h-3.37zM1011.09,1186.37h3.37v19.1h-3.37zM1021.2,1186.37h3.37v19.1h-3.37zM1068.4,1186.37h3.37v19.1h-3.37zM1081.88,1186.37h3.37v19.1h-3.37zM1105.48,1186.37h3.37v19.1h-3.37zM1112.23,1186.37h3.37v19.1h-3.37zM1118.97,1186.37h3.37v19.1h-3.37zM1135.83,1186.37h3.37v19.1h-3.37zM1152.68,1186.37h3.37v19.1h-3.37zM1166.17,1186.37h3.37v19.1h-3.37zM1199.88,1186.37h3.37v19.1h-3.37zM1209.99,1186.37h3.37v19.1h-3.37zM1402.16,1186.37h3.37v19.1h-3.37zM1439.25,1186.37h3.37v19.1h-3.37zM1459.47,1186.37h3.37v19.1h-3.37zM1483.07,1186.37h3.37v19.1h-3.37zM1489.82,1186.37h3.37v19.1h-3.37zM1405.53,1206.03h3.37v19.1h-3.37zM1098.74,1225.69h3.37v19.1h-3.37zM1324.62,1225.69h3.37v19.1h-3.37zM1166.17,1265.03h3.37v19.1h-3.37zM1324.62,1265.03h3.37v19.1h-3.37zM1000.97,1284.69h13.49v19.1h-13.49zM1038.06,1284.69h3.37v19.1h-3.37zM1095.37,1284.69h3.37v19.1h-3.37zM1233.59,1284.69h6.74v19.1h-6.74zM1257.19,1284.69h6.74v19.1h-6.74zM1284.16,1284.69h3.37v19.1h-3.37zM1290.91,1284.69h3.37v19.1h-3.37zM1321.25,1284.69h3.37v19.1h-3.37zM1334.73,1284.69h3.37v19.1h-3.37zM1341.48,1284.69h6.74v19.1h-6.74zM1365.08,1284.69h3.37v19.1h-3.37zM1422.39,1284.69h3.37v19.1h-3.37zM1520.16,1284.69h3.37v19.1h-3.37zM1537.02,1284.69h3.37v19.1h-3.37zM1550.5,1284.69h3.37v19.1h-3.37zM1011.09,1324.02h3.37v19.1h-3.37zM1290.91,1324.02h3.37v19.1h-3.37zM1324.62,1324.02h3.37v19.1h-3.37zM1044.8,1363.35h3.37v19.1h-3.37zM1098.74,1363.35h3.37v19.1h-3.37zM1118.97,1363.35h3.37v19.1h-3.37zM1243.71,1363.35h3.37v19.1h-3.37zM1301.02,1363.35h3.37v19.1h-3.37zM1317.88,1363.35h3.37v19.1h-3.37zM1348.22,1363.35h3.37v19.1h-3.37zM1354.96,1363.35h3.37v19.1h-3.37zM1054.91,1383.02h6.74v19.1h-6.74zM1166.17,1383.02h3.37v19.1h-3.37zM1257.19,1383.02h3.37v19.1h-3.37zM1327.99,1383.02h3.37v19.1h-3.37zM1348.22,1383.02h3.37v19.1h-3.37zM1496.56,1383.02h3.37v19.1h-3.37zM1166.17,1422.35h3.37v19.1h-3.37zM1327.99,1422.35h3.37v19.1h-3.37zM1294.28,1442.01h3.37v19.1h-3.37zM1365.08,1481.34h3.37v19.1h-3.37zM1186.4,1501.01h3.37v19.1h-3.37zM1560.61,1501.01h3.37v19.1h-3.37zM1014.46,1520.67h3.37v19.1h-3.37zM1166.17,1540.34h3.37v19.1h-3.37zM1216.74,1540.34h3.37v19.1h-3.37zM1348.22,1540.34h3.37v19.1h-3.37z" fill="#3B66A6"/>
<path d="M1024.57,1186.37h3.37v19.1h-3.37zM1277.42,1206.03h3.37v19.1h-3.37zM1243.71,1245.36h3.37v19.1h-3.37zM1317.88,1265.03h3.37v19.1h-3.37zM1270.68,1284.69h3.37v19.1h-3.37zM1041.43,1324.02h3.37v19.1h-3.37zM1068.4,1324.02h3.37v19.1h-3.37zM1054.91,1363.35h3.37v19.1h-3.37zM1236.97,1501.01h3.37v19.1h-3.37zM1166.17,1520.67h3.37v19.1h-3.37z" fill="#55298A"/>
<path d="M1038.06,1186.37h3.37v19.1h-3.37zM1085.25,1186.37h3.37v19.1h-3.37zM1216.74,1186.37h3.37v19.1h-3.37zM1183.02,1363.35h3.37v19.1h-3.37zM1462.85,1422.35h3.37v19.1h-3.37z" fill="#FFF68F"/>
<rect x="997.6" y="1166.7" width="576.5" height="393.3" fill="url(#Fp)"/>
<text x="993.1" y="1180.3" font-size="11.4" class="sa" text-anchor="end" font-style="italic">TTN</text>
<text x="1575.6" y="1180.4" font-size="11.4" class="sa">67%</text>
<text x="993.1" y="1199.96" font-size="11.4" class="sa" text-anchor="end" font-style="italic">TP53</text>
<text x="1575.6" y="1200.07" font-size="11.4" class="sa">57%</text>
<text x="993.1" y="1219.63" font-size="11.4" class="sa" text-anchor="end" font-style="italic">MUC16</text>
<text x="1575.6" y="1219.73" font-size="11.4" class="sa">39%</text>
<text x="993.1" y="1239.29" font-size="11.4" class="sa" text-anchor="end" font-style="italic">CSMD3</text>
<text x="1575.6" y="1239.39" font-size="11.4" class="sa">33%</text>
<text x="993.1" y="1258.96" font-size="11.4" class="sa" text-anchor="end" font-style="italic">LRP1B</text>
<text x="1575.6" y="1259.06" font-size="11.4" class="sa">33%</text>
<text x="993.1" y="1278.62" font-size="11.4" class="sa" text-anchor="end" font-style="italic">SYNE1</text>
<text x="1575.6" y="1278.73" font-size="11.4" class="sa">33%</text>
<text x="993.1" y="1298.29" font-size="11.4" class="sa" text-anchor="end" font-style="italic">ARID1A</text>
<text x="1575.6" y="1298.39" font-size="11.4" class="sa">33%</text>
<text x="993.1" y="1317.95" font-size="11.4" class="sa" text-anchor="end" font-style="italic">FLG</text>
<text x="1575.6" y="1318.06" font-size="11.4" class="sa">30%</text>
<text x="993.1" y="1337.62" font-size="11.4" class="sa" text-anchor="end" font-style="italic">PCLO</text>
<text x="1575.6" y="1337.72" font-size="11.4" class="sa">27%</text>
<text x="993.1" y="1357.28" font-size="11.4" class="sa" text-anchor="end" font-style="italic">CSMD1</text>
<text x="1575.6" y="1357.38" font-size="11.4" class="sa">27%</text>
<text x="993.1" y="1376.95" font-size="11.4" class="sa" text-anchor="end" font-style="italic">KMT2D</text>
<text x="1575.6" y="1377.05" font-size="11.4" class="sa">25%</text>
<text x="993.1" y="1396.62" font-size="11.4" class="sa" text-anchor="end" font-style="italic">ZFHX4</text>
<text x="1575.6" y="1396.72" font-size="11.4" class="sa">25%</text>
<text x="993.1" y="1416.28" font-size="11.4" class="sa" text-anchor="end" font-style="italic">RYR2</text>
<text x="1575.6" y="1416.38" font-size="11.4" class="sa">25%</text>
<text x="993.1" y="1435.94" font-size="11.4" class="sa" text-anchor="end" font-style="italic">FAT4</text>
<text x="1575.6" y="1436.05" font-size="11.4" class="sa">24%</text>
<text x="993.1" y="1455.61" font-size="11.4" class="sa" text-anchor="end" font-style="italic">OBSCN</text>
<text x="1575.6" y="1455.71" font-size="11.4" class="sa">24%</text>
<text x="993.1" y="1475.27" font-size="11.4" class="sa" text-anchor="end" font-style="italic">PIK3CA</text>
<text x="1575.6" y="1475.38" font-size="11.4" class="sa">23%</text>
<text x="993.1" y="1494.94" font-size="11.4" class="sa" text-anchor="end" font-style="italic">AHNAK2</text>
<text x="1575.6" y="1495.04" font-size="11.4" class="sa">22%</text>
<text x="993.1" y="1514.61" font-size="11.4" class="sa" text-anchor="end" font-style="italic">DNAH5</text>
<text x="1575.6" y="1514.71" font-size="11.4" class="sa">22%</text>
<text x="993.1" y="1534.27" font-size="11.4" class="sa" text-anchor="end" font-style="italic">FAT3</text>
<text x="1575.6" y="1534.37" font-size="11.4" class="sa">22%</text>
<text x="993.1" y="1553.93" font-size="11.4" class="sa" text-anchor="end" font-style="italic">HMCN1</text>
<text x="1575.6" y="1554.04" font-size="11.4" class="sa">22%</text>
<path d="M1607,1168.2h2.66v17.8h-2.66zM1607,1187.87h22.59v17.8h-22.59zM1607,1207.53h1.33v17.8h-1.33zM1607,1227.19h2.66v17.8h-2.66zM1607,1266.53h2.66v17.8h-2.66zM1607,1286.19h27.91v17.8h-27.91zM1607,1325.52h3.99v17.8h-3.99zM1607,1364.85h10.63v17.8h-10.63zM1607,1384.52h9.3v17.8h-9.3zM1607,1423.85h2.66v17.8h-2.66zM1607,1443.51h1.33v17.8h-1.33zM1607,1482.84h1.33v17.8h-1.33zM1607,1502.51h2.66v17.8h-2.66zM1607,1522.17h1.33v17.8h-1.33zM1607,1541.84h3.99v17.8h-3.99z" fill="#3B66A6"/>
<path d="M1629.59,1187.87h1.33v17.8h-1.33zM1608.33,1207.53h1.33v17.8h-1.33zM1607,1246.86h1.33v17.8h-1.33zM1609.66,1266.53h1.33v17.8h-1.33zM1634.91,1286.19h1.33v17.8h-1.33zM1610.99,1325.52h2.66v17.8h-2.66zM1617.63,1364.85h1.33v17.8h-1.33zM1609.66,1502.51h1.33v17.8h-1.33zM1608.33,1522.17h1.33v17.8h-1.33z" fill="#55298A"/>
<path d="M1609.66,1168.2h47.85v17.8h-47.85zM1630.92,1187.87h58.48v17.8h-58.48zM1609.66,1207.53h38.54v17.8h-38.54zM1609.66,1227.19h49.18v17.8h-49.18zM1608.33,1246.86h43.86v17.8h-43.86zM1610.99,1266.53h41.2v17.8h-41.2zM1636.24,1286.19h7.97v17.8h-7.97zM1607,1305.86h41.2v17.8h-41.2zM1613.65,1325.52h30.57v17.8h-30.57zM1607,1345.18h34.56v17.8h-34.56zM1618.96,1364.85h19.94v17.8h-19.94zM1616.3,1384.52h30.57v17.8h-30.57zM1607,1404.18h37.21v17.8h-37.21zM1609.66,1423.85h30.57v17.8h-30.57zM1608.33,1443.51h31.9v17.8h-31.9zM1607,1463.17h39.87v17.8h-39.87zM1608.33,1482.84h34.56v17.8h-34.56zM1610.99,1502.51h29.24v17.8h-29.24zM1609.66,1522.17h30.57v17.8h-30.57zM1610.99,1541.84h25.25v17.8h-25.25z" fill="#528D33"/>
<path d="M1689.4,1187.87h3.99v17.8h-3.99zM1638.9,1364.85h1.33v17.8h-1.33zM1640.23,1423.85h1.33v17.8h-1.33z" fill="#FFF68F"/>
<path d="M1693.39,1187.87h18.61v17.8h-18.61zM1648.2,1207.53h1.33v17.8h-1.33zM1658.83,1227.19h2.66v17.8h-2.66zM1652.19,1246.86h1.33v17.8h-1.33zM1652.19,1266.53h2.66v17.8h-2.66zM1644.21,1286.19h11.96v17.8h-11.96zM1648.2,1305.86h1.33v17.8h-1.33zM1641.56,1345.18h1.33v17.8h-1.33zM1640.23,1364.85h1.33v17.8h-1.33zM1646.87,1384.52h5.32v17.8h-5.32zM1642.88,1482.84h1.33v17.8h-1.33zM1640.23,1502.51h2.66v17.8h-2.66zM1636.24,1541.84h2.66v17.8h-2.66z" fill="#BE1818"/>
<path d="M1712,1187.87h9.3v17.8h-9.3zM1653.52,1246.86h2.66v17.8h-2.66zM1656.18,1286.19h5.32v17.8h-5.32zM1642.88,1345.18h3.99v17.8h-3.99zM1641.56,1364.85h1.33v17.8h-1.33zM1638.9,1541.84h1.33v17.8h-1.33z" fill="#E1741E"/>
<path d="M1657.5,1168.2h105v17.8h-105zM1721.3,1187.87h17.28v17.8h-17.28zM1649.53,1207.53h49.18v17.8h-49.18zM1661.49,1227.19h22.59v17.8h-22.59zM1656.18,1246.86h27.91v17.8h-27.91zM1654.85,1266.53h29.24v17.8h-29.24zM1661.49,1286.19h21.26v17.8h-21.26zM1649.53,1305.86h26.58v17.8h-26.58zM1644.21,1325.52h26.58v17.8h-26.58zM1646.87,1345.18h23.92v17.8h-23.92zM1642.88,1364.85h22.59v17.8h-22.59zM1652.19,1384.52h13.29v17.8h-13.29zM1644.21,1404.18h19.94v17.8h-19.94zM1641.56,1423.85h21.26v17.8h-21.26zM1640.23,1443.51h22.59v17.8h-22.59zM1646.87,1463.17h14.62v17.8h-14.62zM1644.21,1482.84h14.62v17.8h-14.62zM1642.88,1502.51h15.95v17.8h-15.95zM1640.23,1522.17h17.28v17.8h-17.28zM1640.23,1541.84h17.28v17.8h-17.28z" fill="#000000"/>
<path d="M1607,1157.7V1163.5H1762.5V1157.7" fill="none" stroke="#111" stroke-width="1"/>
<text x="1607" y="1150" font-size="9.1" class="sa" text-anchor="middle">0</text>
<text x="1762.5" y="1150" font-size="9.1" class="sa" text-anchor="middle">117</text>
<text x="1684.75" y="1158.9" font-size="8" class="sa" text-anchor="middle">No. of samples</text>
<rect x="955.4" y="1576.3" width="5.2" height="5.2" fill="#3B66A6"/>
<text x="968" y="1582.5" font-size="11.5" class="sa">Frame_Shift_Del</text>
<rect x="955.4" y="1589.55" width="5.2" height="5.2" fill="#55298A"/>
<text x="968" y="1595.75" font-size="11.5" class="sa">Frame_Shift_Ins</text>
<rect x="955.4" y="1602.8" width="5.2" height="5.2" fill="#528D33"/>
<text x="968" y="1609" font-size="11.5" class="sa">Missense_Mutation</text>
<rect x="955.4" y="1616.05" width="5.2" height="5.2" fill="#FFF68F"/>
<text x="968" y="1622.25" font-size="11.5" class="sa">In_Frame_Del</text>
<rect x="1077.5" y="1576.3" width="5.2" height="5.2" fill="#BE1818"/>
<text x="1090.5" y="1582.5" font-size="11.5" class="sa">Nonsense_Mutation</text>
<rect x="1077.5" y="1589.55" width="5.2" height="5.2" fill="#E1741E"/>
<text x="1090.5" y="1595.75" font-size="11.5" class="sa">Splice_Site</text>
<rect x="1077.5" y="1602.8" width="5.2" height="5.2" fill="#000000"/>
<text x="1090.5" y="1609" font-size="11.5" class="sa">Multi_Hit</text>
</svg>
</body></html>
